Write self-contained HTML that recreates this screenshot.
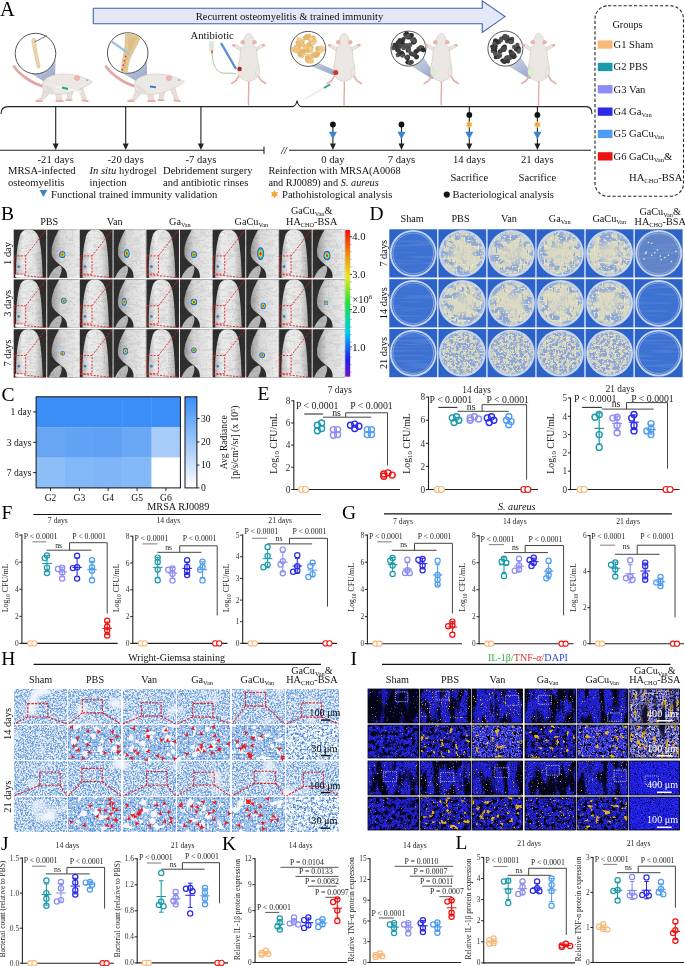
<!DOCTYPE html>
<html><head><meta charset="utf-8"><style>
html,body{margin:0;padding:0;background:#fff;width:685px;height:966px;overflow:hidden}
svg{display:block;font-family:"Liberation Serif"}
</style></head><body>
<svg width="685" height="966" viewBox="0 0 685 966" font-family="Liberation Serif">
<defs>
<linearGradient id="cbar" x1="0" y1="1" x2="0" y2="0">
<stop offset="0" stop-color="#7a10c8"/><stop offset="0.12" stop-color="#2020f0"/><stop offset="0.3" stop-color="#00c8f0"/><stop offset="0.5" stop-color="#20e040"/><stop offset="0.68" stop-color="#e8e820"/><stop offset="0.85" stop-color="#f08010"/><stop offset="1" stop-color="#f01010"/>
</linearGradient>
<linearGradient id="hbar" x1="0" y1="1" x2="0" y2="0"><stop offset="0" stop-color="#ffffff"/><stop offset="1" stop-color="#3a8ef6"/></linearGradient>
<linearGradient id="cone" x1="0" y1="0" x2="1" y2="1"><stop offset="0" stop-color="#d4dcec" stop-opacity="0.9"/><stop offset="1" stop-color="#8597be" stop-opacity="0.9"/></linearGradient>
<filter id="fI_dark" x="0" y="0" width="1" height="1" color-interpolation-filters="sRGB"><feFlood flood-color="#03031a" result="bg"/><feTurbulence type="fractalNoise" baseFrequency="0.1 0.03" numOctaves="3" seed="3" result="n0"/><feColorMatrix in="n0" type="matrix" values="0 0 0 0 0.102 0 0 0 0 0.102 0 0 0 0 0.753 7 0 0 0 -3.64" result="l0"/><feTurbulence type="fractalNoise" baseFrequency="0.8" numOctaves="2" seed="50" result="n1"/><feColorMatrix in="n1" type="matrix" values="0 0 0 0 0.012 0 0 0 0 0.012 0 0 0 0 0.059 9 0 0 0 -5.4" result="l1"/><feTurbulence type="fractalNoise" baseFrequency="0.8" numOctaves="2" seed="60" result="n2"/><feColorMatrix in="n2" type="matrix" values="0 0 0 0 0.29 0 0 0 0 0.29 0 0 0 0 1.0 10 0 0 0 -7.0" result="l2"/><feTurbulence type="fractalNoise" baseFrequency="0.8" numOctaves="2" seed="8" result="n3"/><feColorMatrix in="n3" type="matrix" values="0 0 0 0 0.816 0 0 0 0 0.565 0 0 0 0 0.125 12 0 0 0 -8.88" result="l3"/><feMerge><feMergeNode in="bg"/><feMergeNode in="l0"/><feMergeNode in="l1"/><feMergeNode in="l2"/><feMergeNode in="l3"/></feMerge></filter><filter id="fI_str" x="0" y="0" width="1" height="1" color-interpolation-filters="sRGB"><feFlood flood-color="#04041a" result="bg"/><feTurbulence type="fractalNoise" baseFrequency="0.12 0.035" numOctaves="3" seed="4" result="n0"/><feColorMatrix in="n0" type="matrix" values="0 0 0 0 0.125 0 0 0 0 0.125 0 0 0 0 0.831 7 0 0 0 -2.59" result="l0"/><feTurbulence type="fractalNoise" baseFrequency="0.8" numOctaves="2" seed="51" result="n1"/><feColorMatrix in="n1" type="matrix" values="0 0 0 0 0.012 0 0 0 0 0.012 0 0 0 0 0.059 9 0 0 0 -5.4" result="l1"/><feTurbulence type="fractalNoise" baseFrequency="0.8" numOctaves="2" seed="61" result="n2"/><feColorMatrix in="n2" type="matrix" values="0 0 0 0 0.29 0 0 0 0 0.29 0 0 0 0 1.0 10 0 0 0 -6.8" result="l2"/><feTurbulence type="fractalNoise" baseFrequency="0.75" numOctaves="2" seed="9" result="n3"/><feColorMatrix in="n3" type="matrix" values="0 0 0 0 0.91 0 0 0 0 0.69 0 0 0 0 0.063 12 0 0 0 -8.16" result="l3"/><feMerge><feMergeNode in="bg"/><feMergeNode in="l0"/><feMergeNode in="l1"/><feMergeNode in="l2"/><feMergeNode in="l3"/></feMerge></filter><filter id="fI_str2" x="0" y="0" width="1" height="1" color-interpolation-filters="sRGB"><feFlood flood-color="#04041a" result="bg"/><feTurbulence type="fractalNoise" baseFrequency="0.12 0.035" numOctaves="3" seed="5" result="n0"/><feColorMatrix in="n0" type="matrix" values="0 0 0 0 0.125 0 0 0 0 0.125 0 0 0 0 0.831 7 0 0 0 -2.66" result="l0"/><feTurbulence type="fractalNoise" baseFrequency="0.8" numOctaves="2" seed="52" result="n1"/><feColorMatrix in="n1" type="matrix" values="0 0 0 0 0.012 0 0 0 0 0.012 0 0 0 0 0.059 9 0 0 0 -5.4" result="l1"/><feTurbulence type="fractalNoise" baseFrequency="0.8" numOctaves="2" seed="62" result="n2"/><feColorMatrix in="n2" type="matrix" values="0 0 0 0 0.29 0 0 0 0 0.29 0 0 0 0 1.0 10 0 0 0 -6.8" result="l2"/><feTurbulence type="fractalNoise" baseFrequency="0.75" numOctaves="2" seed="10" result="n3"/><feColorMatrix in="n3" type="matrix" values="0 0 0 0 0.91 0 0 0 0 0.69 0 0 0 0 0.063 12 0 0 0 -8.52" result="l3"/><feMerge><feMergeNode in="bg"/><feMergeNode in="l0"/><feMergeNode in="l1"/><feMergeNode in="l2"/><feMergeNode in="l3"/></feMerge></filter><filter id="fI_zoomY" x="0" y="0" width="1" height="1" color-interpolation-filters="sRGB"><feFlood flood-color="#04041a" result="bg"/><feTurbulence type="fractalNoise" baseFrequency="0.25" numOctaves="3" seed="6" result="n0"/><feColorMatrix in="n0" type="matrix" values="0 0 0 0 0.125 0 0 0 0 0.125 0 0 0 0 0.831 7 0 0 0 -2.59" result="l0"/><feTurbulence type="fractalNoise" baseFrequency="0.8" numOctaves="2" seed="53" result="n1"/><feColorMatrix in="n1" type="matrix" values="0 0 0 0 0.012 0 0 0 0 0.012 0 0 0 0 0.059 9 0 0 0 -5.4" result="l1"/><feTurbulence type="fractalNoise" baseFrequency="0.8" numOctaves="2" seed="63" result="n2"/><feColorMatrix in="n2" type="matrix" values="0 0 0 0 0.29 0 0 0 0 0.29 0 0 0 0 1.0 10 0 0 0 -6.6" result="l2"/><feTurbulence type="fractalNoise" baseFrequency="0.2" numOctaves="3" seed="11" result="n3"/><feColorMatrix in="n3" type="matrix" values="0 0 0 0 0.91 0 0 0 0 0.69 0 0 0 0 0.063 10 0 0 0 -6.3" result="l3"/><feTurbulence type="fractalNoise" baseFrequency="0.7" numOctaves="1" seed="12" result="n4"/><feColorMatrix in="n4" type="matrix" values="0 0 0 0 0.91 0 0 0 0 0.627 0 0 0 0 0.188 12 0 0 0 -8.4" result="l4"/><feMerge><feMergeNode in="bg"/><feMergeNode in="l0"/><feMergeNode in="l1"/><feMergeNode in="l2"/><feMergeNode in="l3"/><feMergeNode in="l4"/></feMerge></filter><filter id="fI_zoomB" x="0" y="0" width="1" height="1" color-interpolation-filters="sRGB"><feFlood flood-color="#04041a" result="bg"/><feTurbulence type="fractalNoise" baseFrequency="0.25" numOctaves="3" seed="7" result="n0"/><feColorMatrix in="n0" type="matrix" values="0 0 0 0 0.125 0 0 0 0 0.125 0 0 0 0 0.831 7 0 0 0 -2.59" result="l0"/><feTurbulence type="fractalNoise" baseFrequency="0.8" numOctaves="2" seed="54" result="n1"/><feColorMatrix in="n1" type="matrix" values="0 0 0 0 0.012 0 0 0 0 0.012 0 0 0 0 0.059 9 0 0 0 -5.4" result="l1"/><feTurbulence type="fractalNoise" baseFrequency="0.8" numOctaves="2" seed="64" result="n2"/><feColorMatrix in="n2" type="matrix" values="0 0 0 0 0.29 0 0 0 0 0.29 0 0 0 0 1.0 10 0 0 0 -6.6" result="l2"/><feTurbulence type="fractalNoise" baseFrequency="0.6" numOctaves="2" seed="13" result="n3"/><feColorMatrix in="n3" type="matrix" values="0 0 0 0 0.847 0 0 0 0 0.627 0 0 0 0 0.125 12 0 0 0 -8.16" result="l3"/><feMerge><feMergeNode in="bg"/><feMergeNode in="l0"/><feMergeNode in="l1"/><feMergeNode in="l2"/><feMergeNode in="l3"/></feMerge></filter><filter id="fI_zoomD" x="0" y="0" width="1" height="1" color-interpolation-filters="sRGB"><feFlood flood-color="#04041a" result="bg"/><feTurbulence type="fractalNoise" baseFrequency="0.25" numOctaves="3" seed="7" result="n0"/><feColorMatrix in="n0" type="matrix" values="0 0 0 0 0.125 0 0 0 0 0.125 0 0 0 0 0.831 7 0 0 0 -2.66" result="l0"/><feTurbulence type="fractalNoise" baseFrequency="0.8" numOctaves="2" seed="55" result="n1"/><feColorMatrix in="n1" type="matrix" values="0 0 0 0 0.012 0 0 0 0 0.012 0 0 0 0 0.059 9 0 0 0 -5.4" result="l1"/><feTurbulence type="fractalNoise" baseFrequency="0.8" numOctaves="2" seed="65" result="n2"/><feColorMatrix in="n2" type="matrix" values="0 0 0 0 0.29 0 0 0 0 0.29 0 0 0 0 1.0 10 0 0 0 -6.8" result="l2"/><feTurbulence type="fractalNoise" baseFrequency="0.6" numOctaves="2" seed="13" result="n3"/><feColorMatrix in="n3" type="matrix" values="0 0 0 0 0.784 0 0 0 0 0.565 0 0 0 0 0.125 12 0 0 0 -8.88" result="l3"/><feMerge><feMergeNode in="bg"/><feMergeNode in="l0"/><feMergeNode in="l1"/><feMergeNode in="l2"/><feMergeNode in="l3"/></feMerge></filter><filter id="fI_zoomL" x="0" y="0" width="1" height="1" color-interpolation-filters="sRGB"><feFlood flood-color="#06061e" result="bg"/><feTurbulence type="fractalNoise" baseFrequency="0.25" numOctaves="3" seed="8" result="n0"/><feColorMatrix in="n0" type="matrix" values="0 0 0 0 0.188 0 0 0 0 0.188 0 0 0 0 0.878 7 0 0 0 -2.38" result="l0"/><feTurbulence type="fractalNoise" baseFrequency="0.6" numOctaves="2" seed="66" result="n1"/><feColorMatrix in="n1" type="matrix" values="0 0 0 0 0.439 0 0 0 0 0.439 0 0 0 0 0.941 8 0 0 0 -4.16" result="l1"/><feTurbulence type="fractalNoise" baseFrequency="0.8" numOctaves="2" seed="56" result="n2"/><feColorMatrix in="n2" type="matrix" values="0 0 0 0 0.012 0 0 0 0 0.012 0 0 0 0 0.059 9 0 0 0 -5.58" result="l2"/><feTurbulence type="fractalNoise" baseFrequency="0.2" numOctaves="3" seed="14" result="n3"/><feColorMatrix in="n3" type="matrix" values="0 0 0 0 0.91 0 0 0 0 0.69 0 0 0 0 0.063 10 0 0 0 -6.4" result="l3"/><feTurbulence type="fractalNoise" baseFrequency="0.8" numOctaves="2" seed="67" result="n4"/><feColorMatrix in="n4" type="matrix" values="0 0 0 0 0.847 0 0 0 0 0.847 0 0 0 0 0.941 10 0 0 0 -7.2" result="l4"/><feMerge><feMergeNode in="bg"/><feMergeNode in="l0"/><feMergeNode in="l1"/><feMergeNode in="l2"/><feMergeNode in="l3"/><feMergeNode in="l4"/></feMerge></filter><filter id="fI_white" x="0" y="0" width="1" height="1" color-interpolation-filters="sRGB"><feFlood flood-color="#2a2a88" result="bg"/><feTurbulence type="fractalNoise" baseFrequency="0.4" numOctaves="2" seed="14" result="n0"/><feColorMatrix in="n0" type="matrix" values="0 0 0 0 0.486 0 0 0 0 0.486 0 0 0 0 0.847 9 0 0 0 -3.6" result="l0"/><feTurbulence type="fractalNoise" baseFrequency="0.45" numOctaves="2" seed="15" result="n1"/><feColorMatrix in="n1" type="matrix" values="0 0 0 0 0.816 0 0 0 0 0.816 0 0 0 0 0.918 9 0 0 0 -5.4" result="l1"/><feTurbulence type="fractalNoise" baseFrequency="0.3 0.1" numOctaves="2" seed="16" result="n2"/><feColorMatrix in="n2" type="matrix" values="0 0 0 0 0.91 0 0 0 0 0.69 0 0 0 0 0.063 10 0 0 0 -6.0" result="l2"/><feTurbulence type="fractalNoise" baseFrequency="0.7" numOctaves="2" seed="56" result="n3"/><feColorMatrix in="n3" type="matrix" values="0 0 0 0 0.012 0 0 0 0 0.012 0 0 0 0 0.059 9 0 0 0 -5.4" result="l3"/><feTurbulence type="fractalNoise" baseFrequency="0.12 0.015" numOctaves="2" seed="57" result="n4"/><feColorMatrix in="n4" type="matrix" values="0 0 0 0 0.063 0 0 0 0 0.063 0 0 0 0 0.188 9 0 0 0 -5.4" result="l4"/><feMerge><feMergeNode in="bg"/><feMergeNode in="l0"/><feMergeNode in="l1"/><feMergeNode in="l2"/><feMergeNode in="l3"/><feMergeNode in="l4"/></feMerge></filter><filter id="fI_pure" x="0" y="0" width="1" height="1" color-interpolation-filters="sRGB"><feFlood flood-color="#1a1ad8" result="bg"/><feTurbulence type="fractalNoise" baseFrequency="0.6" numOctaves="2" seed="17" result="n0"/><feColorMatrix in="n0" type="matrix" values="0 0 0 0 0.0 0 0 0 0 0.0 0 0 0 0 0.188 10 0 0 0 -6.0" result="l0"/><feTurbulence type="fractalNoise" baseFrequency="0.7" numOctaves="2" seed="18" result="n1"/><feColorMatrix in="n1" type="matrix" values="0 0 0 0 0.18 0 0 0 0 0.18 0 0 0 0 0.957 10 0 0 0 -5.2" result="l1"/><feMerge><feMergeNode in="bg"/><feMergeNode in="l0"/><feMergeNode in="l1"/></feMerge></filter><filter id="fH_a" x="0" y="0" width="1" height="1" color-interpolation-filters="sRGB"><feFlood flood-color="#e6eef9" result="bg"/><feTurbulence type="fractalNoise" baseFrequency="0.55" numOctaves="2" seed="21" result="n0"/><feColorMatrix in="n0" type="matrix" values="0 0 0 0 0.58 0 0 0 0 0.729 0 0 0 0 0.91 9 0 0 0 -4.23" result="l0"/><feTurbulence type="fractalNoise" baseFrequency="0.6" numOctaves="2" seed="22" result="n1"/><feColorMatrix in="n1" type="matrix" values="0 0 0 0 0.392 0 0 0 0 0.588 0 0 0 0 0.847 9 0 0 0 -4.95" result="l1"/><feTurbulence type="fractalNoise" baseFrequency="0.04" numOctaves="2" seed="28" result="n2"/><feColorMatrix in="n2" type="matrix" values="0 0 0 0 0.933 0 0 0 0 0.957 0 0 0 0 0.984 6 0 0 0 -3.6" result="l2"/><feMerge><feMergeNode in="bg"/><feMergeNode in="l0"/><feMergeNode in="l1"/><feMergeNode in="l2"/></feMerge></filter><filter id="fH_z" x="0" y="0" width="1" height="1" color-interpolation-filters="sRGB"><feFlood flood-color="#9cc0ea" result="bg"/><feTurbulence type="fractalNoise" baseFrequency="0.5" numOctaves="2" seed="23" result="n0"/><feColorMatrix in="n0" type="matrix" values="0 0 0 0 0.353 0 0 0 0 0.561 0 0 0 0 0.847 9 0 0 0 -4.5" result="l0"/><feTurbulence type="fractalNoise" baseFrequency="0.55" numOctaves="2" seed="24" result="n1"/><feColorMatrix in="n1" type="matrix" values="0 0 0 0 0.957 0 0 0 0 0.973 0 0 0 0 0.992 9 0 0 0 -5.04" result="l1"/><feTurbulence type="fractalNoise" baseFrequency="0.13" numOctaves="2" seed="27" result="n2"/><feColorMatrix in="n2" type="matrix" values="0 0 0 0 0.965 0 0 0 0 0.976 0 0 0 0 0.992 20 0 0 0 -13.2" result="l2"/><feMerge><feMergeNode in="bg"/><feMergeNode in="l0"/><feMergeNode in="l1"/><feMergeNode in="l2"/></feMerge></filter><filter id="fH_c" x="0" y="0" width="1" height="1" color-interpolation-filters="sRGB"><feFlood flood-color="#f6f9fd" result="bg"/><feTurbulence type="fractalNoise" baseFrequency="0.4" numOctaves="2" seed="25" result="n0"/><feColorMatrix in="n0" type="matrix" values="0 0 0 0 0.612 0 0 0 0 0.753 0 0 0 0 0.918 9 0 0 0 -4.5" result="l0"/><feTurbulence type="fractalNoise" baseFrequency="0.45" numOctaves="2" seed="26" result="n1"/><feColorMatrix in="n1" type="matrix" values="0 0 0 0 0.31 0 0 0 0 0.525 0 0 0 0 0.824 9 0 0 0 -5.04" result="l1"/><feMerge><feMergeNode in="bg"/><feMergeNode in="l0"/><feMergeNode in="l1"/></feMerge></filter><filter id="fD_col" x="0" y="0" width="1" height="1" color-interpolation-filters="sRGB"><feFlood flood-color="#8ea8d6" result="bg"/><feTurbulence type="fractalNoise" baseFrequency="0.09 0.14" numOctaves="3" seed="31" result="n0"/><feColorMatrix in="n0" type="matrix" values="0 0 0 0 0.847 0 0 0 0 0.843 0 0 0 0 0.753 8 0 0 0 -3.2" result="l0"/><feTurbulence type="fractalNoise" baseFrequency="0.5" numOctaves="2" seed="32" result="n1"/><feColorMatrix in="n1" type="matrix" values="0 0 0 0 0.91 0 0 0 0 0.902 0 0 0 0 0.816 10 0 0 0 -5.6" result="l1"/><feTurbulence type="fractalNoise" baseFrequency="0.45 0.15" numOctaves="2" seed="36" result="n2"/><feColorMatrix in="n2" type="matrix" values="0 0 0 0 0.541 0 0 0 0 0.643 0 0 0 0 0.831 10 0 0 0 -6.4" result="l2"/><feMerge><feMergeNode in="bg"/><feMergeNode in="l0"/><feMergeNode in="l1"/><feMergeNode in="l2"/></feMerge></filter><filter id="fD_col3" x="0" y="0" width="1" height="1" color-interpolation-filters="sRGB"><feFlood flood-color="#8aa4d6" result="bg"/><feTurbulence type="fractalNoise" baseFrequency="0.3" numOctaves="3" seed="33" result="n0"/><feColorMatrix in="n0" type="matrix" values="0 0 0 0 0.839 0 0 0 0 0.835 0 0 0 0 0.741 8 0 0 0 -3.6" result="l0"/><feTurbulence type="fractalNoise" baseFrequency="0.6" numOctaves="2" seed="34" result="n1"/><feColorMatrix in="n1" type="matrix" values="0 0 0 0 0.902 0 0 0 0 0.894 0 0 0 0 0.8 10 0 0 0 -5.8" result="l1"/><feMerge><feMergeNode in="bg"/><feMergeNode in="l0"/><feMergeNode in="l1"/></feMerge></filter><filter id="fD_clear" x="0" y="0" width="1" height="1" color-interpolation-filters="sRGB"><feFlood flood-color="#3e72d2" result="bg"/><feTurbulence type="fractalNoise" baseFrequency="0.02 0.4" numOctaves="2" seed="35" result="n0"/><feColorMatrix in="n0" type="matrix" values="0 0 0 0 0.298 0 0 0 0 0.486 0 0 0 0 0.839 6 0 0 0 -3.0" result="l0"/><feMerge><feMergeNode in="bg"/><feMergeNode in="l0"/></feMerge></filter><filter id="fD_ha" x="0" y="0" width="1" height="1" color-interpolation-filters="sRGB"><feFlood flood-color="#5f84c8" result="bg"/><feTurbulence type="fractalNoise" baseFrequency="0.02 0.4" numOctaves="2" seed="37" result="n0"/><feColorMatrix in="n0" type="matrix" values="0 0 0 0 0.416 0 0 0 0 0.549 0 0 0 0 0.8 6 0 0 0 -3.0" result="l0"/><feMerge><feMergeNode in="bg"/><feMergeNode in="l0"/></feMerge></filter><clipPath id="circ" clipPathUnits="objectBoundingBox"><circle cx="0.5" cy="0.5" r="0.47"/></clipPath><filter id="fB_fur" x="0" y="0" width="1" height="1" color-interpolation-filters="sRGB"><feFlood flood-color="#ffffff" result="bg"/><feTurbulence type="fractalNoise" baseFrequency="0.12 0.35" numOctaves="3" seed="41" result="n0"/><feColorMatrix in="n0" type="matrix" values="0 0 0 0 0.69 0 0 0 0 0.69 0 0 0 0 0.69 5 0 0 0 -2.5" result="l0"/><feTurbulence type="fractalNoise" baseFrequency="0.5" numOctaves="2" seed="42" result="n1"/><feColorMatrix in="n1" type="matrix" values="0 0 0 0 0.565 0 0 0 0 0.565 0 0 0 0 0.565 8 0 0 0 -4.8" result="l1"/><feMerge><feMergeNode in="bg"/><feMergeNode in="l0"/><feMergeNode in="l1"/></feMerge></filter><clipPath id="cc2"><circle cx="127.7" cy="53" r="19.8"/></clipPath><clipPath id="cc1"><circle cx="35.5" cy="53.6" r="19.8"/></clipPath><radialGradient id="spot" cx="0.5" cy="0.5" r="0.5">
<stop offset="0" stop-color="#ff1010"/><stop offset="0.25" stop-color="#ff5010"/><stop offset="0.42" stop-color="#f0d020"/><stop offset="0.6" stop-color="#40e040"/><stop offset="0.76" stop-color="#10c0e0"/><stop offset="0.9" stop-color="#2040f0"/><stop offset="1" stop-color="#3020c0"/></radialGradient>
<linearGradient id="mbody" x1="0" y1="0" x2="1" y2="0"><stop offset="0" stop-color="#bcbcbc"/><stop offset="0.25" stop-color="#ececec"/><stop offset="0.7" stop-color="#e4e4e4"/><stop offset="1" stop-color="#b0b0b0"/></linearGradient>
<linearGradient id="mleg" x1="0" y1="0" x2="1" y2="0"><stop offset="0" stop-color="#9a9a9a"/><stop offset="0.35" stop-color="#d8d8d8"/><stop offset="1" stop-color="#ececec"/></linearGradient>
<radialGradient id="creamc" cx="0.5" cy="0.5" r="0.5"><stop offset="0" stop-color="#dcdac2" stop-opacity="0.85"/><stop offset="0.6" stop-color="#dcdac2" stop-opacity="0.6"/><stop offset="1" stop-color="#dcdac2" stop-opacity="0"/></radialGradient>
<radialGradient id="plate" cx="0.5" cy="0.5" r="0.5"><stop offset="0" stop-color="#3a6fd0"/><stop offset="0.86" stop-color="#4478d4"/><stop offset="0.93" stop-color="#a9c0e6"/><stop offset="0.97" stop-color="#cbd8ef"/><stop offset="1" stop-color="#8eaadf"/></radialGradient>
<radialGradient id="plateC" cx="0.5" cy="0.5" r="0.5"><stop offset="0" stop-color="#cfcdb0"/><stop offset="0.6" stop-color="#c6c8b4"/><stop offset="0.85" stop-color="#9fb2cf"/><stop offset="0.93" stop-color="#b9c9e6"/><stop offset="0.97" stop-color="#d2ddf0"/><stop offset="1" stop-color="#8eaadf"/></radialGradient>
<pattern id="tis1" width="16" height="16" patternUnits="userSpaceOnUse"><rect width="16" height="16" fill="#b3cdee"/><rect x="5.5" y="8.9" width="1.0" height="1.3" fill="#6f9fdc"/><rect x="0.2" y="12.7" width="1.4" height="0.9" fill="#6f9fdc"/><rect x="14.9" y="7.0" width="1.1" height="1.0" fill="#6f9fdc"/><rect x="9.2" y="2.2" width="1.6" height="1.3" fill="#6f9fdc"/><rect x="7.6" y="10.6" width="1.4" height="1.7" fill="#6f9fdc"/><rect x="11.0" y="8.9" width="1.5" height="0.9" fill="#6f9fdc"/><rect x="12.9" y="7.2" width="1.1" height="0.8" fill="#6f9fdc"/><rect x="10.3" y="13.2" width="1.5" height="1.7" fill="#6f9fdc"/><rect x="6.6" y="13.5" width="1.2" height="1.6" fill="#6f9fdc"/><rect x="1.9" y="3.3" width="1.7" height="0.9" fill="#6f9fdc"/><rect x="8.9" y="4.4" width="1.8" height="1.2" fill="#6f9fdc"/><rect x="5.2" y="8.7" width="1.3" height="1.2" fill="#6f9fdc"/><rect x="10.0" y="13.3" width="1.4" height="1.7" fill="#6f9fdc"/><rect x="9.6" y="2.3" width="1.7" height="1.8" fill="#6f9fdc"/><rect x="13.0" y="8.1" width="1.7" height="1.8" fill="#6f9fdc"/><rect x="12.0" y="8.6" width="1.5" height="1.0" fill="#6f9fdc"/><rect x="12.7" y="15.0" width="1.1" height="0.9" fill="#6f9fdc"/><rect x="6.2" y="2.2" width="0.9" height="1.6" fill="#6f9fdc"/><rect x="13.0" y="0.6" width="1.1" height="1.6" fill="#6f9fdc"/><rect x="10.5" y="5.0" width="1.4" height="0.8" fill="#6f9fdc"/><rect x="7.2" y="14.2" width="1.7" height="1.8" fill="#6f9fdc"/><rect x="8.9" y="0.5" width="1.1" height="0.9" fill="#6f9fdc"/><rect x="9.2" y="2.3" width="1.0" height="1.2" fill="#6f9fdc"/><rect x="4.8" y="13.7" width="0.8" height="1.7" fill="#6f9fdc"/><rect x="6.6" y="7.7" width="1.7" height="1.2" fill="#6f9fdc"/><rect x="8.1" y="9.1" width="1.4" height="1.4" fill="#6f9fdc"/><rect x="6.1" y="10.6" width="1.7" height="1.3" fill="#6f9fdc"/><rect x="14.6" y="7.8" width="1.0" height="1.1" fill="#6f9fdc"/><rect x="6.1" y="8.8" width="1.3" height="0.8" fill="#6f9fdc"/><rect x="9.6" y="0.9" width="0.8" height="1.4" fill="#6f9fdc"/><rect x="9.9" y="5.2" width="1.4" height="1.3" fill="#6f9fdc"/><rect x="0.3" y="0.9" width="1.5" height="1.5" fill="#6f9fdc"/><rect x="3.6" y="6.5" width="1.5" height="1.8" fill="#6f9fdc"/><rect x="5.3" y="4.7" width="1.4" height="1.1" fill="#6f9fdc"/><rect x="4.5" y="5.5" width="1.2" height="1.4" fill="#6f9fdc"/><rect x="8.2" y="11.2" width="1.6" height="0.8" fill="#6f9fdc"/><rect x="12.0" y="3.6" width="1.1" height="1.0" fill="#6f9fdc"/><rect x="10.5" y="1.5" width="1.0" height="1.2" fill="#6f9fdc"/><rect x="12.4" y="6.5" width="1.1" height="1.1" fill="#6f9fdc"/><rect x="4.8" y="9.8" width="1.7" height="1.0" fill="#6f9fdc"/><rect x="3.3" y="1.8" width="1.5" height="1.1" fill="#ffffff"/><rect x="12.0" y="12.7" width="1.2" height="0.9" fill="#ffffff"/><rect x="12.2" y="9.7" width="0.9" height="1.0" fill="#ffffff"/><rect x="1.9" y="4.4" width="1.4" height="1.0" fill="#ffffff"/><rect x="5.1" y="6.3" width="1.4" height="0.9" fill="#ffffff"/><rect x="13.7" y="2.3" width="1.1" height="1.1" fill="#ffffff"/><rect x="13.5" y="14.3" width="0.7" height="1.5" fill="#ffffff"/><rect x="13.8" y="3.2" width="1.1" height="1.6" fill="#ffffff"/><rect x="9.7" y="7.6" width="1.4" height="1.5" fill="#ffffff"/><rect x="3.4" y="1.0" width="1.0" height="1.0" fill="#ffffff"/><rect x="12.0" y="0.7" width="1.2" height="1.0" fill="#ffffff"/><rect x="13.4" y="13.2" width="1.5" height="1.3" fill="#ffffff"/><rect x="0.2" y="11.0" width="1.5" height="1.2" fill="#ffffff"/><rect x="10.0" y="7.9" width="0.9" height="1.0" fill="#ffffff"/><rect x="9.1" y="4.9" width="1.1" height="1.5" fill="#ffffff"/><rect x="7.2" y="11.4" width="0.9" height="1.5" fill="#ffffff"/><rect x="8.0" y="12.4" width="1.0" height="0.9" fill="#ffffff"/><rect x="14.0" y="11.8" width="0.9" height="1.4" fill="#ffffff"/><rect x="9.2" y="13.2" width="1.4" height="0.7" fill="#ffffff"/><rect x="4.1" y="7.9" width="0.7" height="0.9" fill="#ffffff"/><rect x="11.6" y="0.0" width="1.1" height="1.1" fill="#ffffff"/><rect x="1.9" y="1.0" width="0.7" height="0.8" fill="#ffffff"/><rect x="1.2" y="7.3" width="1.6" height="1.5" fill="#ffffff"/><rect x="5.3" y="9.7" width="1.0" height="1.0" fill="#ffffff"/><rect x="2.8" y="4.9" width="1.2" height="1.0" fill="#ffffff"/><rect x="10.9" y="5.6" width="0.8" height="1.2" fill="#ffffff"/><rect x="5.6" y="9.1" width="0.9" height="0.9" fill="#8fb6e6"/><rect x="11.7" y="9.3" width="1.4" height="1.1" fill="#8fb6e6"/><rect x="7.4" y="10.5" width="1.1" height="1.1" fill="#8fb6e6"/><rect x="6.8" y="3.6" width="1.1" height="1.4" fill="#8fb6e6"/><rect x="1.1" y="6.2" width="1.2" height="1.4" fill="#8fb6e6"/><rect x="13.9" y="5.4" width="1.1" height="1.5" fill="#8fb6e6"/><rect x="3.8" y="6.8" width="1.5" height="1.4" fill="#8fb6e6"/><rect x="10.0" y="12.9" width="0.9" height="1.5" fill="#8fb6e6"/><rect x="10.7" y="8.3" width="1.4" height="1.3" fill="#8fb6e6"/><rect x="0.1" y="2.1" width="0.9" height="1.3" fill="#8fb6e6"/><rect x="1.3" y="1.5" width="1.4" height="0.8" fill="#8fb6e6"/><rect x="0.3" y="12.7" width="1.5" height="0.9" fill="#8fb6e6"/><rect x="10.2" y="12.1" width="0.9" height="1.5" fill="#8fb6e6"/><rect x="11.5" y="0.5" width="1.6" height="1.3" fill="#8fb6e6"/><rect x="10.4" y="1.6" width="1.4" height="1.2" fill="#8fb6e6"/><rect x="0.9" y="4.7" width="1.4" height="1.5" fill="#8fb6e6"/><rect x="3.6" y="2.6" width="1.3" height="1.5" fill="#8fb6e6"/><rect x="11.3" y="5.8" width="1.0" height="1.3" fill="#8fb6e6"/><rect x="5.2" y="6.2" width="1.1" height="1.1" fill="#8fb6e6"/><rect x="14.7" y="6.1" width="0.9" height="1.2" fill="#8fb6e6"/></pattern><pattern id="tis2" width="14" height="14" patternUnits="userSpaceOnUse"><rect width="14" height="14" fill="#a6c5ec"/><rect x="5.1" y="2.0" width="1.2" height="1.0" fill="#5a90d8"/><rect x="12.0" y="10.1" width="1.0" height="1.3" fill="#5a90d8"/><rect x="6.6" y="3.6" width="1.7" height="1.1" fill="#5a90d8"/><rect x="2.8" y="12.0" width="1.1" height="1.0" fill="#5a90d8"/><rect x="9.8" y="2.4" width="1.8" height="1.8" fill="#5a90d8"/><rect x="9.3" y="10.6" width="1.2" height="1.6" fill="#5a90d8"/><rect x="7.4" y="8.7" width="1.9" height="1.0" fill="#5a90d8"/><rect x="5.9" y="1.2" width="1.5" height="1.1" fill="#5a90d8"/><rect x="6.6" y="3.6" width="1.9" height="1.9" fill="#5a90d8"/><rect x="10.7" y="10.6" width="1.9" height="1.5" fill="#5a90d8"/><rect x="7.5" y="5.5" width="1.5" height="1.4" fill="#5a90d8"/><rect x="10.5" y="0.6" width="1.1" height="1.2" fill="#5a90d8"/><rect x="3.7" y="6.6" width="1.0" height="1.6" fill="#5a90d8"/><rect x="12.5" y="2.5" width="1.4" height="1.3" fill="#5a90d8"/><rect x="8.0" y="3.6" width="1.4" height="1.1" fill="#5a90d8"/><rect x="4.1" y="6.9" width="1.3" height="1.7" fill="#5a90d8"/><rect x="0.7" y="3.0" width="1.9" height="1.0" fill="#5a90d8"/><rect x="2.9" y="4.1" width="1.7" height="1.6" fill="#5a90d8"/><rect x="0.6" y="8.8" width="1.1" height="1.4" fill="#5a90d8"/><rect x="8.9" y="11.6" width="1.9" height="2.0" fill="#5a90d8"/><rect x="12.6" y="9.9" width="0.9" height="1.2" fill="#5a90d8"/><rect x="7.8" y="9.9" width="1.4" height="1.9" fill="#5a90d8"/><rect x="5.7" y="1.8" width="1.2" height="1.1" fill="#5a90d8"/><rect x="4.2" y="0.1" width="1.3" height="2.0" fill="#5a90d8"/><rect x="10.2" y="4.7" width="0.9" height="1.1" fill="#5a90d8"/><rect x="12.5" y="5.5" width="1.2" height="1.0" fill="#5a90d8"/><rect x="0.7" y="2.2" width="1.1" height="1.0" fill="#5a90d8"/><rect x="0.5" y="6.3" width="1.6" height="1.1" fill="#5a90d8"/><rect x="1.6" y="6.4" width="1.2" height="2.0" fill="#5a90d8"/><rect x="12.1" y="6.0" width="1.8" height="1.4" fill="#5a90d8"/><rect x="0.5" y="5.3" width="1.2" height="1.4" fill="#5a90d8"/><rect x="10.7" y="6.0" width="1.2" height="1.9" fill="#5a90d8"/><rect x="3.2" y="2.7" width="0.9" height="1.2" fill="#5a90d8"/><rect x="1.8" y="0.6" width="1.2" height="1.9" fill="#5a90d8"/><rect x="12.0" y="5.0" width="1.9" height="1.5" fill="#5a90d8"/><rect x="9.6" y="9.2" width="1.9" height="1.6" fill="#5a90d8"/><rect x="2.6" y="11.4" width="1.4" height="1.0" fill="#5a90d8"/><rect x="4.1" y="7.9" width="1.9" height="1.9" fill="#5a90d8"/><rect x="10.2" y="6.7" width="1.4" height="1.3" fill="#ffffff"/><rect x="3.4" y="11.7" width="1.3" height="1.3" fill="#ffffff"/><rect x="12.1" y="12.6" width="1.6" height="0.9" fill="#ffffff"/><rect x="11.4" y="1.7" width="1.3" height="0.8" fill="#ffffff"/><rect x="0.8" y="2.1" width="1.6" height="1.3" fill="#ffffff"/><rect x="9.5" y="11.8" width="1.3" height="1.3" fill="#ffffff"/><rect x="12.0" y="0.2" width="1.0" height="0.8" fill="#ffffff"/><rect x="10.1" y="10.3" width="1.5" height="0.9" fill="#ffffff"/><rect x="11.0" y="2.6" width="1.5" height="1.2" fill="#ffffff"/><rect x="11.3" y="10.0" width="1.3" height="1.1" fill="#ffffff"/><rect x="0.3" y="0.4" width="1.2" height="1.2" fill="#ffffff"/><rect x="11.0" y="7.8" width="1.3" height="1.2" fill="#ffffff"/><rect x="10.0" y="6.8" width="0.9" height="1.1" fill="#ffffff"/><rect x="10.9" y="1.1" width="0.8" height="1.5" fill="#ffffff"/><rect x="10.1" y="4.0" width="1.2" height="1.1" fill="#ffffff"/><rect x="12.6" y="1.2" width="1.0" height="1.2" fill="#ffffff"/><rect x="11.6" y="6.5" width="0.9" height="1.3" fill="#ffffff"/><rect x="10.0" y="0.8" width="1.1" height="1.5" fill="#ffffff"/><rect x="3.7" y="10.9" width="1.7" height="1.0" fill="#7aa8e2"/><rect x="2.1" y="10.8" width="1.2" height="1.6" fill="#7aa8e2"/><rect x="6.4" y="4.4" width="1.0" height="0.9" fill="#7aa8e2"/><rect x="9.0" y="0.1" width="1.3" height="1.7" fill="#7aa8e2"/><rect x="6.3" y="9.1" width="1.1" height="1.3" fill="#7aa8e2"/><rect x="3.1" y="11.1" width="1.3" height="0.9" fill="#7aa8e2"/><rect x="12.7" y="7.8" width="1.2" height="1.6" fill="#7aa8e2"/><rect x="3.9" y="11.5" width="1.5" height="1.4" fill="#7aa8e2"/><rect x="3.9" y="10.7" width="1.3" height="1.7" fill="#7aa8e2"/><rect x="5.5" y="1.8" width="1.6" height="1.4" fill="#7aa8e2"/><rect x="8.2" y="1.7" width="1.6" height="1.2" fill="#7aa8e2"/><rect x="10.6" y="2.3" width="0.9" height="0.9" fill="#7aa8e2"/><rect x="7.1" y="4.5" width="1.7" height="1.2" fill="#7aa8e2"/><rect x="5.1" y="12.3" width="1.4" height="0.9" fill="#7aa8e2"/><rect x="4.3" y="3.8" width="1.0" height="1.5" fill="#7aa8e2"/><rect x="12.5" y="10.9" width="0.8" height="0.8" fill="#7aa8e2"/><rect x="11.8" y="2.0" width="1.6" height="1.6" fill="#7aa8e2"/><rect x="7.2" y="11.9" width="1.4" height="1.3" fill="#7aa8e2"/><rect x="1.5" y="8.0" width="1.6" height="1.8" fill="#7aa8e2"/><rect x="7.7" y="10.4" width="1.5" height="1.5" fill="#7aa8e2"/></pattern><pattern id="tis3" width="15" height="15" patternUnits="userSpaceOnUse"><rect width="15" height="15" fill="#c2d6f1"/><rect x="10.8" y="12.7" width="1.4" height="1.5" fill="#7aa6de"/><rect x="0.4" y="6.2" width="1.5" height="1.7" fill="#7aa6de"/><rect x="11.9" y="1.5" width="1.7" height="1.4" fill="#7aa6de"/><rect x="7.5" y="8.0" width="1.3" height="1.0" fill="#7aa6de"/><rect x="4.0" y="12.8" width="0.8" height="1.0" fill="#7aa6de"/><rect x="10.7" y="1.9" width="1.6" height="1.0" fill="#7aa6de"/><rect x="0.0" y="12.3" width="1.4" height="0.9" fill="#7aa6de"/><rect x="13.7" y="12.2" width="1.0" height="1.0" fill="#7aa6de"/><rect x="7.5" y="9.0" width="1.1" height="1.8" fill="#7aa6de"/><rect x="9.7" y="12.8" width="1.0" height="1.7" fill="#7aa6de"/><rect x="4.8" y="2.3" width="1.7" height="1.1" fill="#7aa6de"/><rect x="4.2" y="8.5" width="0.9" height="0.9" fill="#7aa6de"/><rect x="4.8" y="4.2" width="0.8" height="1.5" fill="#7aa6de"/><rect x="4.2" y="6.6" width="1.6" height="1.3" fill="#7aa6de"/><rect x="13.2" y="0.3" width="1.5" height="0.9" fill="#7aa6de"/><rect x="0.2" y="10.5" width="1.5" height="1.6" fill="#7aa6de"/><rect x="0.1" y="0.6" width="1.2" height="1.4" fill="#7aa6de"/><rect x="2.8" y="10.0" width="1.0" height="1.8" fill="#7aa6de"/><rect x="4.6" y="4.7" width="1.7" height="1.7" fill="#7aa6de"/><rect x="1.5" y="10.0" width="1.3" height="1.6" fill="#7aa6de"/><rect x="0.5" y="12.6" width="1.6" height="1.7" fill="#7aa6de"/><rect x="8.6" y="12.7" width="0.9" height="1.1" fill="#7aa6de"/><rect x="7.6" y="4.1" width="1.1" height="1.7" fill="#7aa6de"/><rect x="1.1" y="2.1" width="1.1" height="1.0" fill="#7aa6de"/><rect x="2.2" y="0.6" width="1.5" height="1.8" fill="#7aa6de"/><rect x="5.4" y="3.2" width="1.8" height="1.3" fill="#7aa6de"/><rect x="6.2" y="5.6" width="1.4" height="1.6" fill="#7aa6de"/><rect x="0.5" y="6.6" width="0.9" height="1.7" fill="#7aa6de"/><rect x="9.8" y="13.4" width="1.6" height="0.9" fill="#7aa6de"/><rect x="1.4" y="5.8" width="1.4" height="1.6" fill="#7aa6de"/><rect x="4.1" y="6.1" width="0.9" height="1.6" fill="#ffffff"/><rect x="12.9" y="6.1" width="1.8" height="1.7" fill="#ffffff"/><rect x="6.6" y="3.9" width="1.3" height="1.5" fill="#ffffff"/><rect x="5.2" y="13.9" width="1.2" height="0.9" fill="#ffffff"/><rect x="6.6" y="4.6" width="1.8" height="1.4" fill="#ffffff"/><rect x="11.0" y="12.1" width="0.9" height="1.1" fill="#ffffff"/><rect x="10.7" y="9.3" width="1.2" height="1.6" fill="#ffffff"/><rect x="4.9" y="9.5" width="1.5" height="1.6" fill="#ffffff"/><rect x="10.7" y="9.5" width="1.1" height="1.3" fill="#ffffff"/><rect x="9.0" y="7.7" width="1.1" height="1.7" fill="#ffffff"/><rect x="3.6" y="9.2" width="0.8" height="1.3" fill="#ffffff"/><rect x="8.9" y="10.7" width="1.3" height="1.6" fill="#ffffff"/><rect x="10.2" y="11.2" width="1.1" height="1.4" fill="#ffffff"/><rect x="12.0" y="9.2" width="1.2" height="1.6" fill="#ffffff"/><rect x="6.9" y="7.0" width="1.8" height="1.8" fill="#ffffff"/><rect x="13.2" y="6.4" width="1.0" height="1.6" fill="#ffffff"/><rect x="9.9" y="2.3" width="1.5" height="1.5" fill="#ffffff"/><rect x="8.9" y="5.7" width="1.6" height="1.4" fill="#ffffff"/><rect x="8.6" y="9.7" width="1.4" height="1.6" fill="#ffffff"/><rect x="6.3" y="9.1" width="0.8" height="1.0" fill="#ffffff"/><rect x="8.8" y="0.6" width="1.0" height="1.5" fill="#ffffff"/><rect x="0.7" y="1.9" width="1.3" height="1.0" fill="#ffffff"/><rect x="2.7" y="0.5" width="1.1" height="1.0" fill="#ffffff"/><rect x="8.4" y="8.2" width="1.3" height="1.2" fill="#ffffff"/><rect x="0.0" y="5.4" width="1.0" height="1.7" fill="#ffffff"/><rect x="1.6" y="11.5" width="1.1" height="1.2" fill="#ffffff"/><rect x="8.5" y="1.3" width="1.2" height="0.8" fill="#ffffff"/><rect x="7.9" y="13.3" width="1.3" height="1.1" fill="#ffffff"/><rect x="10.9" y="8.9" width="1.6" height="1.2" fill="#ffffff"/><rect x="8.2" y="7.9" width="1.2" height="0.9" fill="#ffffff"/><rect x="8.1" y="4.6" width="1.8" height="1.8" fill="#ffffff"/><rect x="1.4" y="8.0" width="1.7" height="0.8" fill="#ffffff"/><rect x="8.6" y="12.5" width="1.4" height="0.9" fill="#ffffff"/><rect x="3.1" y="4.0" width="1.2" height="1.2" fill="#ffffff"/></pattern><pattern id="fl_dark" width="14" height="14" patternUnits="userSpaceOnUse"><rect width="14" height="14" fill="#0c0c4c"/><rect x="11.6" y="5.8" width="1.4" height="1.6" fill="#1f1fc8"/><rect x="2.3" y="6.3" width="1.5" height="1.6" fill="#1f1fc8"/><rect x="1.2" y="3.7" width="1.7" height="1.9" fill="#1f1fc8"/><rect x="9.1" y="0.5" width="0.9" height="1.9" fill="#1f1fc8"/><rect x="7.7" y="7.3" width="2.2" height="2.2" fill="#1f1fc8"/><rect x="6.9" y="0.8" width="1.0" height="0.8" fill="#1f1fc8"/><rect x="0.4" y="6.0" width="1.1" height="1.1" fill="#1f1fc8"/><rect x="6.5" y="7.7" width="1.4" height="2.0" fill="#1f1fc8"/><rect x="5.7" y="3.4" width="1.5" height="1.7" fill="#1f1fc8"/><rect x="9.9" y="8.4" width="2.2" height="2.2" fill="#1f1fc8"/><rect x="3.7" y="0.9" width="1.2" height="1.1" fill="#1f1fc8"/><rect x="10.3" y="4.9" width="1.9" height="1.4" fill="#1f1fc8"/><rect x="0.0" y="2.5" width="2.1" height="2.0" fill="#1f1fc8"/><rect x="11.7" y="5.0" width="2.1" height="1.5" fill="#1f1fc8"/><rect x="10.2" y="3.3" width="0.9" height="1.7" fill="#1f1fc8"/><rect x="12.6" y="9.7" width="0.9" height="1.3" fill="#1f1fc8"/><rect x="1.3" y="0.8" width="1.0" height="1.1" fill="#1f1fc8"/><rect x="6.8" y="5.8" width="1.9" height="1.0" fill="#1f1fc8"/><rect x="1.7" y="7.8" width="1.1" height="1.8" fill="#1f1fc8"/><rect x="2.8" y="3.4" width="1.0" height="1.4" fill="#1f1fc8"/><rect x="3.6" y="10.7" width="2.2" height="1.9" fill="#1f1fc8"/><rect x="11.0" y="8.1" width="1.1" height="1.4" fill="#1f1fc8"/><rect x="2.8" y="3.1" width="0.9" height="2.2" fill="#1f1fc8"/><rect x="3.6" y="0.9" width="1.9" height="1.3" fill="#1f1fc8"/><rect x="3.2" y="7.4" width="0.9" height="1.6" fill="#1f1fc8"/><rect x="12.2" y="6.1" width="1.3" height="1.4" fill="#1f1fc8"/><rect x="2.2" y="1.7" width="2.1" height="2.7" fill="#000000"/><rect x="2.8" y="2.2" width="2.8" height="2.6" fill="#000000"/><rect x="2.3" y="10.6" width="2.5" height="2.9" fill="#000000"/><rect x="4.7" y="1.2" width="2.8" height="2.2" fill="#000000"/><rect x="3.1" y="7.8" width="1.1" height="2.9" fill="#000000"/><rect x="7.4" y="3.3" width="1.5" height="2.6" fill="#000000"/><rect x="0.9" y="2.6" width="1.4" height="2.4" fill="#000000"/><rect x="7.3" y="3.2" width="2.1" height="2.7" fill="#000000"/><rect x="0.2" y="3.4" width="2.8" height="1.4" fill="#000000"/><rect x="2.1" y="4.7" width="1.9" height="1.1" fill="#000000"/><rect x="4.3" y="11.3" width="2.1" height="1.3" fill="#000000"/><rect x="7.6" y="6.8" width="3.0" height="2.3" fill="#000000"/><rect x="0.2" y="11.8" width="1.3" height="1.1" fill="#000000"/><rect x="0.2" y="7.0" width="2.4" height="2.9" fill="#000000"/><rect x="3.8" y="11.5" width="2.0" height="2.5" fill="#000000"/><rect x="9.5" y="10.7" width="1.2" height="2.1" fill="#000000"/><rect x="9.1" y="10.6" width="2.5" height="2.4" fill="#000000"/><rect x="11.1" y="10.1" width="1.7" height="2.4" fill="#000000"/><rect x="11.4" y="7.4" width="0.9" height="1.1" fill="#b08a20"/><rect x="7.6" y="8.0" width="1.0" height="0.8" fill="#b08a20"/><rect x="13.3" y="11.5" width="0.6" height="1.0" fill="#b08a20"/><rect x="9.5" y="7.6" width="1.0" height="0.8" fill="#b08a20"/></pattern><pattern id="fl_blue" width="14" height="14" patternUnits="userSpaceOnUse"><rect width="14" height="14" fill="#1a1ab8"/><rect x="8.4" y="1.8" width="1.5" height="1.7" fill="#2a2af0"/><rect x="3.6" y="10.3" width="0.8" height="1.3" fill="#2a2af0"/><rect x="6.8" y="8.2" width="1.8" height="1.6" fill="#2a2af0"/><rect x="2.1" y="11.4" width="1.0" height="1.4" fill="#2a2af0"/><rect x="1.0" y="8.3" width="0.9" height="1.9" fill="#2a2af0"/><rect x="10.7" y="0.2" width="1.3" height="1.4" fill="#2a2af0"/><rect x="6.7" y="1.1" width="0.9" height="2.1" fill="#2a2af0"/><rect x="1.3" y="5.0" width="2.2" height="2.1" fill="#2a2af0"/><rect x="8.1" y="2.1" width="1.0" height="1.2" fill="#2a2af0"/><rect x="2.1" y="10.7" width="1.8" height="0.9" fill="#2a2af0"/><rect x="7.5" y="6.0" width="1.4" height="1.4" fill="#2a2af0"/><rect x="9.2" y="12.7" width="1.3" height="0.8" fill="#2a2af0"/><rect x="4.2" y="4.5" width="2.2" height="1.7" fill="#2a2af0"/><rect x="1.4" y="2.9" width="1.8" height="1.7" fill="#2a2af0"/><rect x="10.3" y="6.2" width="1.3" height="1.5" fill="#2a2af0"/><rect x="5.7" y="6.3" width="0.8" height="2.0" fill="#2a2af0"/><rect x="5.0" y="9.7" width="1.1" height="1.4" fill="#2a2af0"/><rect x="2.3" y="8.7" width="0.9" height="1.6" fill="#2a2af0"/><rect x="4.5" y="8.2" width="0.9" height="1.2" fill="#2a2af0"/><rect x="2.7" y="3.5" width="0.9" height="1.4" fill="#2a2af0"/><rect x="6.0" y="11.3" width="1.5" height="2.1" fill="#2a2af0"/><rect x="4.7" y="2.3" width="1.0" height="2.1" fill="#2a2af0"/><rect x="0.1" y="3.2" width="1.8" height="2.1" fill="#2a2af0"/><rect x="2.9" y="0.1" width="1.9" height="1.3" fill="#2a2af0"/><rect x="12.9" y="12.3" width="0.9" height="1.7" fill="#2a2af0"/><rect x="4.0" y="10.4" width="1.5" height="0.8" fill="#2a2af0"/><rect x="2.8" y="6.5" width="2.0" height="1.7" fill="#2a2af0"/><rect x="3.3" y="11.7" width="1.5" height="1.7" fill="#2a2af0"/><rect x="3.5" y="11.3" width="2.1" height="1.0" fill="#2a2af0"/><rect x="6.6" y="8.3" width="1.2" height="2.1" fill="#2a2af0"/><rect x="3.4" y="3.3" width="2.1" height="1.2" fill="#000020"/><rect x="1.6" y="10.6" width="2.0" height="2.0" fill="#000020"/><rect x="5.4" y="12.5" width="1.6" height="1.2" fill="#000020"/><rect x="11.2" y="11.6" width="1.8" height="1.9" fill="#000020"/><rect x="7.0" y="11.2" width="2.2" height="1.6" fill="#000020"/><rect x="4.1" y="4.5" width="2.2" height="1.8" fill="#000020"/><rect x="0.2" y="8.7" width="2.1" height="1.8" fill="#000020"/><rect x="10.4" y="10.7" width="2.4" height="2.2" fill="#000020"/><rect x="4.6" y="1.2" width="1.8" height="2.2" fill="#000020"/><rect x="11.7" y="8.7" width="1.4" height="1.4" fill="#000020"/><rect x="1.5" y="6.5" width="1.8" height="1.9" fill="#000020"/><rect x="2.9" y="5.1" width="2.1" height="1.5" fill="#000020"/><rect x="1.8" y="1.1" width="1.4" height="2.0" fill="#000020"/><rect x="9.6" y="7.9" width="1.4" height="2.1" fill="#000020"/><rect x="0.3" y="6.1" width="2.5" height="1.5" fill="#000020"/><rect x="8.3" y="4.4" width="1.6" height="1.1" fill="#000020"/><rect x="12.5" y="0.1" width="0.8" height="0.9" fill="#c8a020"/><rect x="2.6" y="5.7" width="0.9" height="0.8" fill="#c8a020"/><rect x="6.6" y="8.8" width="0.8" height="1.3" fill="#c8a020"/><rect x="8.0" y="11.0" width="0.7" height="1.0" fill="#c8a020"/><rect x="11.3" y="10.8" width="0.8" height="1.0" fill="#c8a020"/><rect x="10.1" y="5.1" width="0.8" height="1.0" fill="#c8a020"/><rect x="12.5" y="7.1" width="1.1" height="1.1" fill="#c8a020"/><rect x="9.4" y="4.2" width="1.1" height="0.9" fill="#c8a020"/></pattern><pattern id="fl_yel" width="14" height="14" patternUnits="userSpaceOnUse"><rect width="14" height="14" fill="#18189c"/><rect x="8.8" y="10.4" width="1.2" height="1.8" fill="#2a2ae8"/><rect x="1.9" y="2.9" width="1.1" height="1.1" fill="#2a2ae8"/><rect x="6.5" y="2.8" width="1.8" height="1.0" fill="#2a2ae8"/><rect x="10.7" y="7.7" width="1.2" height="1.4" fill="#2a2ae8"/><rect x="1.9" y="11.2" width="0.8" height="1.2" fill="#2a2ae8"/><rect x="10.0" y="9.0" width="1.9" height="1.9" fill="#2a2ae8"/><rect x="3.0" y="10.3" width="2.1" height="1.9" fill="#2a2ae8"/><rect x="7.1" y="5.2" width="1.5" height="1.9" fill="#2a2ae8"/><rect x="4.0" y="1.5" width="1.3" height="1.4" fill="#2a2ae8"/><rect x="11.9" y="8.3" width="1.9" height="1.9" fill="#2a2ae8"/><rect x="1.7" y="8.2" width="1.6" height="1.8" fill="#2a2ae8"/><rect x="2.5" y="6.8" width="1.4" height="1.0" fill="#2a2ae8"/><rect x="7.8" y="5.0" width="1.2" height="1.4" fill="#2a2ae8"/><rect x="3.1" y="2.9" width="1.0" height="1.5" fill="#2a2ae8"/><rect x="0.9" y="8.3" width="1.1" height="1.3" fill="#2a2ae8"/><rect x="8.5" y="11.8" width="2.1" height="1.3" fill="#2a2ae8"/><rect x="10.6" y="10.9" width="0.9" height="1.0" fill="#2a2ae8"/><rect x="5.1" y="11.3" width="1.7" height="1.0" fill="#2a2ae8"/><rect x="2.4" y="10.3" width="2.0" height="1.9" fill="#2a2ae8"/><rect x="1.7" y="11.8" width="1.3" height="1.8" fill="#2a2ae8"/><rect x="2.6" y="7.5" width="1.6" height="1.8" fill="#2a2ae8"/><rect x="4.5" y="9.0" width="1.6" height="1.6" fill="#2a2ae8"/><rect x="2.1" y="8.7" width="1.3" height="1.2" fill="#2a2ae8"/><rect x="0.9" y="8.3" width="1.0" height="1.1" fill="#2a2ae8"/><rect x="0.5" y="5.5" width="1.6" height="1.6" fill="#2a2ae8"/><rect x="0.0" y="13.0" width="1.3" height="0.9" fill="#2a2ae8"/><rect x="3.5" y="7.6" width="1.0" height="1.3" fill="#000010"/><rect x="4.8" y="10.3" width="0.9" height="1.6" fill="#000010"/><rect x="6.5" y="12.2" width="0.8" height="1.4" fill="#000010"/><rect x="8.2" y="3.7" width="1.7" height="1.7" fill="#000010"/><rect x="12.0" y="9.1" width="0.9" height="1.7" fill="#000010"/><rect x="10.8" y="3.1" width="1.3" height="2.0" fill="#000010"/><rect x="3.0" y="3.6" width="1.9" height="1.4" fill="#000010"/><rect x="0.5" y="5.0" width="1.2" height="1.4" fill="#000010"/><rect x="7.8" y="0.0" width="1.0" height="2.2" fill="#000010"/><rect x="5.7" y="7.1" width="2.2" height="1.1" fill="#000010"/><rect x="5.5" y="1.7" width="1.4" height="1.3" fill="#000010"/><rect x="9.6" y="2.8" width="2.4" height="1.0" fill="#000010"/><rect x="0.4" y="1.6" width="1.3" height="1.5" fill="#000010"/><rect x="11.0" y="12.3" width="1.4" height="1.6" fill="#000010"/><rect x="1.7" y="10.2" width="0.7" height="1.3" fill="#e8b818"/><rect x="7.1" y="1.5" width="1.1" height="1.7" fill="#e8b818"/><rect x="11.5" y="2.0" width="0.7" height="1.0" fill="#e8b818"/><rect x="4.4" y="10.3" width="1.2" height="1.1" fill="#e8b818"/><rect x="8.7" y="11.7" width="0.9" height="1.5" fill="#e8b818"/><rect x="5.6" y="7.0" width="1.3" height="1.7" fill="#e8b818"/><rect x="11.3" y="1.4" width="1.4" height="1.6" fill="#e8b818"/><rect x="10.7" y="6.8" width="0.9" height="1.3" fill="#e8b818"/><rect x="3.9" y="1.1" width="1.0" height="1.8" fill="#e8b818"/><rect x="9.6" y="1.4" width="0.8" height="0.7" fill="#e8b818"/><rect x="12.5" y="10.0" width="1.5" height="1.7" fill="#e8b818"/><rect x="10.7" y="9.0" width="1.2" height="1.4" fill="#e8b818"/><rect x="1.4" y="3.8" width="1.0" height="1.5" fill="#e8b818"/><rect x="3.3" y="10.0" width="1.8" height="1.2" fill="#e8b818"/><rect x="0.4" y="3.4" width="1.2" height="0.7" fill="#e8b818"/><rect x="3.2" y="10.4" width="1.1" height="1.7" fill="#e8b818"/><rect x="12.3" y="9.8" width="1.6" height="1.2" fill="#e8b818"/><rect x="5.9" y="11.7" width="1.2" height="1.0" fill="#e8b818"/><rect x="4.9" y="6.3" width="1.0" height="0.8" fill="#f0d040"/><rect x="0.5" y="10.6" width="0.8" height="1.1" fill="#f0d040"/><rect x="7.8" y="4.1" width="0.7" height="0.7" fill="#f0d040"/><rect x="6.6" y="10.9" width="1.3" height="1.0" fill="#f0d040"/><rect x="8.6" y="5.5" width="0.8" height="1.2" fill="#f0d040"/><rect x="10.9" y="1.9" width="1.4" height="0.6" fill="#f0d040"/></pattern><pattern id="fl_pure" width="14" height="14" patternUnits="userSpaceOnUse"><rect width="14" height="14" fill="#1c1ce0"/><rect x="8.5" y="11.6" width="0.9" height="1.6" fill="#2a2af8"/><rect x="9.5" y="8.5" width="1.1" height="1.1" fill="#2a2af8"/><rect x="5.1" y="9.6" width="1.2" height="1.6" fill="#2a2af8"/><rect x="11.8" y="4.6" width="0.9" height="1.1" fill="#2a2af8"/><rect x="8.1" y="1.8" width="1.1" height="1.8" fill="#2a2af8"/><rect x="2.1" y="8.1" width="1.5" height="1.6" fill="#2a2af8"/><rect x="1.1" y="2.6" width="0.9" height="1.2" fill="#2a2af8"/><rect x="11.9" y="5.6" width="2.0" height="1.3" fill="#2a2af8"/><rect x="8.6" y="1.4" width="1.5" height="1.8" fill="#2a2af8"/><rect x="2.3" y="1.2" width="1.5" height="1.6" fill="#2a2af8"/><rect x="2.4" y="5.7" width="1.8" height="1.4" fill="#2a2af8"/><rect x="6.5" y="1.3" width="1.1" height="1.8" fill="#2a2af8"/><rect x="3.4" y="0.4" width="1.8" height="0.9" fill="#2a2af8"/><rect x="6.5" y="1.2" width="1.7" height="0.9" fill="#2a2af8"/><rect x="6.8" y="5.6" width="1.4" height="1.6" fill="#2a2af8"/><rect x="7.5" y="1.2" width="1.4" height="1.3" fill="#2a2af8"/><rect x="10.9" y="12.1" width="1.4" height="1.1" fill="#2a2af8"/><rect x="9.2" y="7.4" width="0.9" height="1.0" fill="#2a2af8"/><rect x="12.4" y="5.2" width="0.8" height="1.6" fill="#2a2af8"/><rect x="12.0" y="3.3" width="1.2" height="1.5" fill="#2a2af8"/><rect x="8.1" y="6.1" width="1.2" height="1.0" fill="#2a2af8"/><rect x="0.4" y="4.0" width="1.1" height="1.3" fill="#2a2af8"/><rect x="3.4" y="11.7" width="2.0" height="1.5" fill="#2a2af8"/><rect x="0.4" y="1.9" width="1.2" height="1.1" fill="#2a2af8"/><rect x="11.4" y="3.5" width="0.9" height="1.0" fill="#000040"/><rect x="11.9" y="3.7" width="1.0" height="1.4" fill="#000040"/><rect x="7.0" y="7.7" width="1.5" height="1.1" fill="#000040"/><rect x="6.2" y="10.5" width="1.7" height="1.5" fill="#000040"/><rect x="12.4" y="7.0" width="1.1" height="1.1" fill="#000040"/><rect x="11.4" y="7.9" width="1.6" height="1.0" fill="#000040"/><rect x="6.1" y="4.2" width="1.0" height="1.7" fill="#000040"/><rect x="2.6" y="9.1" width="1.0" height="0.8" fill="#000040"/><rect x="5.9" y="7.1" width="0.9" height="1.0" fill="#000040"/><rect x="3.3" y="4.6" width="1.1" height="1.6" fill="#000040"/><rect x="2.9" y="1.9" width="1.2" height="0.8" fill="#000040"/><rect x="8.4" y="2.9" width="1.5" height="0.9" fill="#000040"/><rect x="4.4" y="11.7" width="1.4" height="1.4" fill="#000040"/><rect x="0.6" y="5.2" width="1.4" height="1.3" fill="#000040"/></pattern><pattern id="fl_white" width="14" height="14" patternUnits="userSpaceOnUse"><rect width="14" height="14" fill="#8a8ad8"/><rect x="8.7" y="2.1" width="2.2" height="0.8" fill="#d8d8f0"/><rect x="10.4" y="9.0" width="2.2" height="0.8" fill="#d8d8f0"/><rect x="2.9" y="4.0" width="2.0" height="2.2" fill="#d8d8f0"/><rect x="3.2" y="2.9" width="1.8" height="1.2" fill="#d8d8f0"/><rect x="9.6" y="2.7" width="2.0" height="2.0" fill="#d8d8f0"/><rect x="2.8" y="5.7" width="2.1" height="1.5" fill="#d8d8f0"/><rect x="7.1" y="4.7" width="1.4" height="0.9" fill="#d8d8f0"/><rect x="8.0" y="4.8" width="1.6" height="2.1" fill="#d8d8f0"/><rect x="5.9" y="11.2" width="2.0" height="2.2" fill="#d8d8f0"/><rect x="2.3" y="12.2" width="0.8" height="1.0" fill="#d8d8f0"/><rect x="3.5" y="6.0" width="1.8" height="1.8" fill="#d8d8f0"/><rect x="1.4" y="0.6" width="2.0" height="0.9" fill="#d8d8f0"/><rect x="7.0" y="4.8" width="1.5" height="2.0" fill="#d8d8f0"/><rect x="11.8" y="4.6" width="1.5" height="1.1" fill="#d8d8f0"/><rect x="10.6" y="4.1" width="1.1" height="1.2" fill="#d8d8f0"/><rect x="5.3" y="0.9" width="2.1" height="1.3" fill="#d8d8f0"/><rect x="5.7" y="1.4" width="2.1" height="1.9" fill="#d8d8f0"/><rect x="10.5" y="11.8" width="1.5" height="1.3" fill="#d8d8f0"/><rect x="0.5" y="11.4" width="1.8" height="1.2" fill="#d8d8f0"/><rect x="5.9" y="6.2" width="2.1" height="1.0" fill="#d8d8f0"/><rect x="0.7" y="11.1" width="2.2" height="0.9" fill="#d8d8f0"/><rect x="9.6" y="7.4" width="1.6" height="1.4" fill="#d8d8f0"/><rect x="1.0" y="0.1" width="1.8" height="1.2" fill="#d8d8f0"/><rect x="4.8" y="4.3" width="1.3" height="1.7" fill="#d8d8f0"/><rect x="7.3" y="3.8" width="1.7" height="1.8" fill="#d8d8f0"/><rect x="10.8" y="10.8" width="2.0" height="1.9" fill="#d8d8f0"/><rect x="4.6" y="4.8" width="0.8" height="1.7" fill="#d8d8f0"/><rect x="3.1" y="12.8" width="1.5" height="1.0" fill="#d8d8f0"/><rect x="8.7" y="3.8" width="1.3" height="2.1" fill="#d8d8f0"/><rect x="9.0" y="4.2" width="1.2" height="1.6" fill="#d8d8f0"/><rect x="11.4" y="9.5" width="0.8" height="0.9" fill="#e0b820"/><rect x="7.6" y="4.1" width="0.8" height="1.8" fill="#e0b820"/><rect x="1.2" y="4.5" width="1.9" height="0.9" fill="#e0b820"/><rect x="6.0" y="11.4" width="1.7" height="1.4" fill="#e0b820"/><rect x="0.1" y="9.6" width="1.2" height="1.7" fill="#e0b820"/><rect x="11.0" y="8.2" width="0.9" height="1.6" fill="#e0b820"/><rect x="9.4" y="4.6" width="1.5" height="1.4" fill="#e0b820"/><rect x="6.8" y="1.5" width="1.0" height="1.4" fill="#e0b820"/><rect x="2.0" y="9.0" width="1.4" height="1.3" fill="#e0b820"/><rect x="10.6" y="12.7" width="1.7" height="1.1" fill="#e0b820"/><rect x="3.4" y="1.7" width="1.6" height="1.2" fill="#e0b820"/><rect x="0.8" y="11.0" width="1.1" height="2.0" fill="#e0b820"/><rect x="1.2" y="7.9" width="1.6" height="1.7" fill="#e0b820"/><rect x="10.4" y="9.0" width="1.0" height="1.6" fill="#e0b820"/><rect x="2.9" y="1.9" width="1.4" height="1.8" fill="#e0b820"/><rect x="5.1" y="5.6" width="1.8" height="0.8" fill="#e0b820"/><rect x="6.7" y="6.3" width="2.2" height="1.4" fill="#1a1a60"/><rect x="5.8" y="7.4" width="1.6" height="1.6" fill="#1a1a60"/><rect x="11.6" y="12.2" width="1.5" height="1.5" fill="#1a1a60"/><rect x="0.3" y="3.9" width="1.2" height="2.3" fill="#1a1a60"/><rect x="7.9" y="12.9" width="2.2" height="1.1" fill="#1a1a60"/><rect x="0.4" y="5.6" width="1.8" height="1.5" fill="#1a1a60"/><rect x="4.9" y="9.6" width="1.5" height="2.1" fill="#1a1a60"/><rect x="9.5" y="2.0" width="1.4" height="1.8" fill="#1a1a60"/><rect x="5.6" y="12.1" width="2.3" height="1.5" fill="#1a1a60"/><rect x="2.6" y="2.7" width="1.7" height="1.6" fill="#1a1a60"/><rect x="7.9" y="8.6" width="2.0" height="1.6" fill="#1a1a60"/><rect x="10.4" y="5.7" width="1.9" height="1.3" fill="#1a1a60"/><rect x="11.6" y="1.4" width="1.1" height="2.2" fill="#1a1a60"/><rect x="3.2" y="7.0" width="2.2" height="1.9" fill="#1a1a60"/></pattern>
</defs>
<rect width="685" height="966" fill="#fff"/>
<text x="0.0" y="15.8" font-size="20.5" text-anchor="start" fill="#000" >A</text>
<path d="M93.3,8.2 L482.3,8.2 L482.3,0.9 L505,16.6 L482.3,32.4 L482.3,23.8 L93.3,23.8 Z" fill="#e2e8f8" stroke="#4a60aa" stroke-width="1.1" />
<text x="289.5" y="19.6" font-size="10.6" text-anchor="middle" fill="#111" >Recurrent osteomyelitis &amp; trained immunity</text>
<rect x="595" y="5.8" width="88.5" height="190.5" rx="13" ry="13" fill="none" stroke="#222" stroke-width="1.1" stroke-dasharray="3.2,2"/>
<text x="612.5" y="28.0" font-size="10.2" text-anchor="start" fill="#111" >Groups</text>
<rect x="597.8" y="40.4" width="14.7" height="8.3" fill="#f8b878" />
<text x="613.5" y="48.0" font-size="10.6" text-anchor="start" fill="#111" >G1 Sham</text>
<rect x="597.8" y="62.8" width="14.7" height="8.3" fill="#1a9aaa" />
<text x="613.5" y="70.3" font-size="10.6" text-anchor="start" fill="#111" >G2 PBS</text>
<rect x="597.8" y="85.1" width="14.7" height="8.3" fill="#8c8cf4" />
<text x="613.5" y="92.7" font-size="10.6" text-anchor="start" fill="#111" >G3 Van</text>
<rect x="597.8" y="107.5" width="14.7" height="8.3" fill="#2a2ae8" />
<text x="613.5" y="115.1" font-size="10.6" text-anchor="start" fill="#111" >G4 Ga<tspan font-size="62%" dy="2">Van</tspan></text>
<rect x="597.8" y="129.8" width="14.7" height="8.3" fill="#4f9cf0" />
<text x="613.5" y="137.4" font-size="10.6" text-anchor="start" fill="#111" >G5 GaCu<tspan font-size="62%" dy="2">Van</tspan></text>
<rect x="597.8" y="152.2" width="14.7" height="8.3" fill="#ee1111" />
<text x="613.5" y="159.8" font-size="10.6" text-anchor="start" fill="#111" >G6 GaCu<tspan font-size="62%" dy="2">Van</tspan><tspan dy="-2">&amp;</tspan></text>
<text x="629.0" y="180.8" font-size="10.6" text-anchor="start" fill="#111" >HA<tspan font-size="62%" dy="2">CHO</tspan><tspan dy="-2">-BSA</tspan></text>
<path d="M25.5,70.0 L55.5,60.0 L55.0,82.5 L43.0,81.0 Z" fill="url(#cone)" stroke="none" stroke-width="1" />
<g transform="translate(41,73.5) scale(1.0)"><path d="M3,13 C-6,11 -20,3 -27,-7" fill="none" stroke="#e3a6a2" stroke-width="2.7" stroke-linecap="round"/><path d="M3,15 L10,18 L3,26 L-3,27.5 L-4,26.5 L0,24.5 Z" fill="#e6ded7" stroke="#d2c4b8" stroke-width="0.5"/><path d="M14,18 L20,18.5 L21,27 L16,27.5 Z" fill="#e6ded7" stroke="#d2c4b8" stroke-width="0.5"/><path d="M27,17 L32,16.5 L30,26 L26,26.5 Z" fill="#e6ded7" stroke="#d2c4b8" stroke-width="0.5"/><path d="M37,14.5 L41.5,13.5 L45.5,26 L42,26.8 Z" fill="#e6ded7" stroke="#d2c4b8" stroke-width="0.5"/><path d="M-5,27.6 L1,27.6 M15,27.6 L22,27.6 M25,26.8 L31,26.8 M41,27 L47,27.6" stroke="#e8a8a4" stroke-width="1.6" stroke-linecap="round"/><path d="M1.5,11 C2,4 12,0.5 22,0.5 C30,0.5 36,1.5 41,3.5 C45,5 49,6.5 51.5,8 C50,10 46,12.5 42,14 C37,16.5 30,19.5 23,20.5 C16,21 9,20.5 5,18.5 C2,17 1,14 1.5,11 Z" fill="#ece8e4" stroke="#d0c6be" stroke-width="0.6"/><path d="M3,12 C4,17 9,20 14,19 C11,15 8,12 3,12 Z" fill="#e2dcd6"/><ellipse cx="36" cy="4.6" rx="3" ry="2.8" fill="#eab4b0"/><circle cx="46" cy="6.6" r="0.7" fill="#b03030"/></g>
<circle cx="35.5" cy="53.6" r="20.3" fill="#fff" stroke="#444" stroke-width="0.9" />
<path d="M31.8,40.5 C31.5,38.5 34.5,37.8 35.6,39.3 C35.8,44 36.5,50 37.8,56 C38.8,61 40,64 40,67 C39.5,68.6 38,68.8 37.4,67.6 C36.3,63 35.3,59 34.3,54 C33.3,49 32.4,45 31.8,40.5 Z" fill="#ecd6aa" stroke="#cfb584" stroke-width="0.5" />
<line x1="34.5" y1="42.0" x2="47.0" y2="35.5" stroke="#6a6a6a" stroke-width="0.9" />
<line x1="55.0" y1="86.0" x2="81.0" y2="92.0" stroke="#f4f4f4" stroke-width="2.2" />
<line x1="62.0" y1="87.5" x2="68.0" y2="89.0" stroke="#2aa58a" stroke-width="2" />
<path d="M117.0,70.0 L147.0,60.0 L147.0,82.5 L136.0,81.0 Z" fill="url(#cone)" stroke="none" stroke-width="1" />
<g transform="translate(133,73.5) scale(1.0)"><path d="M3,13 C-6,11 -20,3 -27,-7" fill="none" stroke="#e3a6a2" stroke-width="2.7" stroke-linecap="round"/><path d="M3,15 L10,18 L3,26 L-3,27.5 L-4,26.5 L0,24.5 Z" fill="#e6ded7" stroke="#d2c4b8" stroke-width="0.5"/><path d="M14,18 L20,18.5 L21,27 L16,27.5 Z" fill="#e6ded7" stroke="#d2c4b8" stroke-width="0.5"/><path d="M27,17 L32,16.5 L30,26 L26,26.5 Z" fill="#e6ded7" stroke="#d2c4b8" stroke-width="0.5"/><path d="M37,14.5 L41.5,13.5 L45.5,26 L42,26.8 Z" fill="#e6ded7" stroke="#d2c4b8" stroke-width="0.5"/><path d="M-5,27.6 L1,27.6 M15,27.6 L22,27.6 M25,26.8 L31,26.8 M41,27 L47,27.6" stroke="#e8a8a4" stroke-width="1.6" stroke-linecap="round"/><path d="M1.5,11 C2,4 12,0.5 22,0.5 C30,0.5 36,1.5 41,3.5 C45,5 49,6.5 51.5,8 C50,10 46,12.5 42,14 C37,16.5 30,19.5 23,20.5 C16,21 9,20.5 5,18.5 C2,17 1,14 1.5,11 Z" fill="#ece8e4" stroke="#d0c6be" stroke-width="0.6"/><path d="M3,12 C4,17 9,20 14,19 C11,15 8,12 3,12 Z" fill="#e2dcd6"/><ellipse cx="36" cy="4.6" rx="3" ry="2.8" fill="#eab4b0"/><circle cx="46" cy="6.6" r="0.7" fill="#b03030"/></g>
<circle cx="127.7" cy="53.0" r="20.3" fill="#fff" stroke="#444" stroke-width="0.9" />
<g clip-path="url(#cc2)">
<path d="M125,30 C130,30 137,30 143,31 C140,42 133,52 130,60 C128.5,65 128,69 127.5,74 L120.5,74 C121,66 122.5,58 124,50 C125,43 125,36 125,30 Z" fill="#e4c796" stroke="none" stroke-width="1" />
<path d="M128,36 C131,40 134,38 137,37 C134,44 131,50 129,56 C128,50 128,42 128,36 Z" fill="#d8b67e" stroke="none" stroke-width="1" opacity="0.6"/>
<circle cx="126.7" cy="52.0" r="0.9" fill="#c0403a" stroke="none" stroke-width="1" />
<circle cx="127.8" cy="54.2" r="0.9" fill="#e8a03a" stroke="none" stroke-width="1" />
<circle cx="125.6" cy="56.4" r="0.9" fill="#c0403a" stroke="none" stroke-width="1" />
<circle cx="126.6" cy="58.6" r="0.9" fill="#e8a03a" stroke="none" stroke-width="1" />
<circle cx="124.5" cy="60.8" r="0.9" fill="#c0403a" stroke="none" stroke-width="1" />
<circle cx="125.5" cy="63.0" r="0.9" fill="#e8a03a" stroke="none" stroke-width="1" />
<circle cx="123.4" cy="65.2" r="0.9" fill="#c0403a" stroke="none" stroke-width="1" />
<circle cx="124.5" cy="67.4" r="0.9" fill="#e8a03a" stroke="none" stroke-width="1" />
<circle cx="122.3" cy="69.6" r="0.9" fill="#c0403a" stroke="none" stroke-width="1" />
<line x1="108.0" y1="38.8" x2="129.2" y2="54.0" stroke="#a8d0e6" stroke-width="2.4" />
<line x1="108.0" y1="38.8" x2="129.2" y2="54.0" stroke="#6f9fbf" stroke-width="0.5" />
</g>
<line x1="147.0" y1="86.0" x2="167.0" y2="88.0" stroke="#eaeaf4" stroke-width="2.2" />
<line x1="150.0" y1="86.5" x2="156.0" y2="87.3" stroke="#3a7ac8" stroke-width="1.8" />
<text x="190.5" y="38.9" font-size="10.7" text-anchor="start" fill="#111" >Antibiotic</text>
<rect x="209.0" y="41.0" width="5.0" height="10.0" fill="#dfe8e0" rx="1"/>
<rect x="211.0" y="50.5" width="2.0" height="3.0" fill="#e07030" />
<path d="M212,54 C213,62 214,70 222,73 C228,74 232,72 236,74" fill="none" stroke="#6ab868" stroke-width="0.7" />
<line x1="221.0" y1="43.0" x2="236.0" y2="69.0" stroke="#5b8fcf" stroke-width="2.4" />
<g transform="translate(248.6,0)"><path d="M0,80 C0.6,90 -0.6,98 0,105.5" fill="none" stroke="#e4aaa6" stroke-width="1.4"/><path d="M-6.5,50 L-13.5,45.8 M6.5,50 L13.5,45.8" stroke="#d6cac0" stroke-width="3.4" stroke-linecap="round"/><path d="M-6.5,50 L-13.5,45.8 M6.5,50 L13.5,45.8" stroke="#ebe7e3" stroke-width="2.4" stroke-linecap="round"/><circle cx="-15" cy="45.2" r="1.5" fill="#eab0aa"/><circle cx="15" cy="45.2" r="1.5" fill="#eab0aa"/><path d="M-8.5,74 L-12.5,80.5 L-17,83.5 M8.5,74 L12.5,80.5 L17,83.5" fill="none" stroke="#eab0aa" stroke-width="1.7" stroke-linecap="round" stroke-linejoin="round"/><path d="M0,33.4 C2.2,33.4 4.2,36.5 4.8,39.5 C5.2,41.5 5,43.5 4.2,45 C6,46 7.5,47.5 8,49.5 C8.5,53 8.5,57 9,60 C10,64 11,68 10.8,72 C10.5,76 7,79.5 3,80.5 L0,81.5 L-3,80.5 C-7,79.5 -10.5,76 -10.8,72 C-11,68 -10,64 -9,60 C-8.5,57 -8.5,53 -8,49.5 C-7.5,47.5 -6,46 -4.2,45 C-5,43.5 -5.2,41.5 -4.8,39.5 C-4.2,36.5 -2.2,33.4 0,33.4 Z" fill="#ebe7e3" stroke="#cfc2b7" stroke-width="0.6"/><path d="M-9.5,66 C-7,70 -6,74 -8,77 M9.5,66 C7,70 6,74 8,77" fill="none" stroke="#d8ccc2" stroke-width="0.5"/><circle cx="-6" cy="42.2" r="2" fill="#eab4ae" stroke="#d9a09a" stroke-width="0.3"/><circle cx="6" cy="42.2" r="2" fill="#eab4ae" stroke="#d9a09a" stroke-width="0.3"/><circle cx="-9" cy="69" r="2.2" fill="#b02020"/></g>
<path d="M296.0,60.0 L316.0,62.0 L337.0,71.0 L333.0,75.0 Z" fill="url(#cone)" stroke="none" stroke-width="1" />
<circle cx="308.2" cy="48.9" r="17.5" fill="#fff" stroke="#444" stroke-width="0.9" />
<circle cx="301.4" cy="44.2" r="2.2" fill="#eab866" stroke="#00000022" stroke-width="0.3" />
<circle cx="302.9" cy="40.9" r="2.2" fill="#f6d08e" stroke="#00000022" stroke-width="0.3" />
<circle cx="301.3" cy="41.9" r="2.2" fill="#eab866" stroke="#00000022" stroke-width="0.3" />
<circle cx="301.1" cy="42.9" r="2.2" fill="#f6d08e" stroke="#00000022" stroke-width="0.3" />
<circle cx="297.7" cy="42.6" r="2.2" fill="#eab866" stroke="#00000022" stroke-width="0.3" />
<circle cx="298.3" cy="44.1" r="2.2" fill="#f2c57e" stroke="#00000022" stroke-width="0.3" />
<circle cx="298.8" cy="39.2" r="2.2" fill="#f6d08e" stroke="#00000022" stroke-width="0.3" />
<circle cx="301.2" cy="41.9" r="2.2" fill="#f2c57e" stroke="#00000022" stroke-width="0.3" />
<circle cx="303.4" cy="45.3" r="2.2" fill="#f2c57e" stroke="#00000022" stroke-width="0.3" />
<circle cx="314.2" cy="41.5" r="2.2" fill="#eab866" stroke="#00000022" stroke-width="0.3" />
<circle cx="311.2" cy="41.9" r="2.2" fill="#eab866" stroke="#00000022" stroke-width="0.3" />
<circle cx="313.3" cy="37.6" r="2.2" fill="#eab866" stroke="#00000022" stroke-width="0.3" />
<circle cx="313.9" cy="39.0" r="2.2" fill="#f2c57e" stroke="#00000022" stroke-width="0.3" />
<circle cx="314.5" cy="41.1" r="2.2" fill="#f2c57e" stroke="#00000022" stroke-width="0.3" />
<circle cx="313.1" cy="41.4" r="2.2" fill="#f6d08e" stroke="#00000022" stroke-width="0.3" />
<circle cx="311.8" cy="42.4" r="2.2" fill="#eab866" stroke="#00000022" stroke-width="0.3" />
<circle cx="311.1" cy="43.1" r="2.2" fill="#f6d08e" stroke="#00000022" stroke-width="0.3" />
<circle cx="312.7" cy="43.4" r="2.2" fill="#f6d08e" stroke="#00000022" stroke-width="0.3" />
<circle cx="300.4" cy="55.3" r="2.2" fill="#f2c57e" stroke="#00000022" stroke-width="0.3" />
<circle cx="302.8" cy="50.6" r="2.2" fill="#f6d08e" stroke="#00000022" stroke-width="0.3" />
<circle cx="299.2" cy="51.1" r="2.2" fill="#eab866" stroke="#00000022" stroke-width="0.3" />
<circle cx="303.9" cy="53.1" r="2.2" fill="#f6d08e" stroke="#00000022" stroke-width="0.3" />
<circle cx="302.4" cy="55.6" r="2.2" fill="#f6d08e" stroke="#00000022" stroke-width="0.3" />
<circle cx="301.4" cy="51.8" r="2.2" fill="#eab866" stroke="#00000022" stroke-width="0.3" />
<circle cx="301.6" cy="55.3" r="2.2" fill="#f6d08e" stroke="#00000022" stroke-width="0.3" />
<circle cx="300.6" cy="53.9" r="2.2" fill="#f2c57e" stroke="#00000022" stroke-width="0.3" />
<circle cx="299.7" cy="54.2" r="2.2" fill="#eab866" stroke="#00000022" stroke-width="0.3" />
<circle cx="312.6" cy="55.7" r="2.2" fill="#f2c57e" stroke="#00000022" stroke-width="0.3" />
<circle cx="316.7" cy="55.6" r="2.2" fill="#f2c57e" stroke="#00000022" stroke-width="0.3" />
<circle cx="312.4" cy="56.6" r="2.2" fill="#f6d08e" stroke="#00000022" stroke-width="0.3" />
<circle cx="317.2" cy="52.1" r="2.2" fill="#f6d08e" stroke="#00000022" stroke-width="0.3" />
<circle cx="314.2" cy="55.1" r="2.2" fill="#f2c57e" stroke="#00000022" stroke-width="0.3" />
<circle cx="316.4" cy="56.1" r="2.2" fill="#f2c57e" stroke="#00000022" stroke-width="0.3" />
<circle cx="318.1" cy="53.6" r="2.2" fill="#eab866" stroke="#00000022" stroke-width="0.3" />
<circle cx="313.7" cy="54.5" r="2.2" fill="#f2c57e" stroke="#00000022" stroke-width="0.3" />
<circle cx="315.6" cy="54.7" r="2.2" fill="#eab866" stroke="#00000022" stroke-width="0.3" />
<circle cx="311.3" cy="47.4" r="2.2" fill="#eab866" stroke="#00000022" stroke-width="0.3" />
<circle cx="305.1" cy="51.0" r="2.2" fill="#eab866" stroke="#00000022" stroke-width="0.3" />
<circle cx="306.2" cy="46.4" r="2.2" fill="#f6d08e" stroke="#00000022" stroke-width="0.3" />
<circle cx="311.0" cy="50.9" r="2.2" fill="#f6d08e" stroke="#00000022" stroke-width="0.3" />
<circle cx="307.3" cy="51.0" r="2.2" fill="#f6d08e" stroke="#00000022" stroke-width="0.3" />
<circle cx="307.8" cy="49.7" r="2.2" fill="#eab866" stroke="#00000022" stroke-width="0.3" />
<circle cx="305.4" cy="48.1" r="2.2" fill="#f2c57e" stroke="#00000022" stroke-width="0.3" />
<circle cx="308.7" cy="44.4" r="2.2" fill="#eab866" stroke="#00000022" stroke-width="0.3" />
<circle cx="310.3" cy="48.7" r="2.2" fill="#f6d08e" stroke="#00000022" stroke-width="0.3" />
<circle cx="310.0" cy="38.9" r="2.2" fill="#eab866" stroke="#00000022" stroke-width="0.3" />
<circle cx="305.4" cy="37.5" r="2.2" fill="#eab866" stroke="#00000022" stroke-width="0.3" />
<circle cx="307.3" cy="36.2" r="2.2" fill="#eab866" stroke="#00000022" stroke-width="0.3" />
<circle cx="308.5" cy="36.9" r="2.2" fill="#f6d08e" stroke="#00000022" stroke-width="0.3" />
<circle cx="309.7" cy="37.1" r="2.2" fill="#f6d08e" stroke="#00000022" stroke-width="0.3" />
<circle cx="305.8" cy="37.6" r="2.2" fill="#eab866" stroke="#00000022" stroke-width="0.3" />
<circle cx="308.5" cy="37.6" r="2.2" fill="#eab866" stroke="#00000022" stroke-width="0.3" />
<circle cx="308.8" cy="36.0" r="2.2" fill="#eab866" stroke="#00000022" stroke-width="0.3" />
<circle cx="310.9" cy="39.0" r="2.2" fill="#f6d08e" stroke="#00000022" stroke-width="0.3" />
<circle cx="296.0" cy="47.4" r="2.2" fill="#f6d08e" stroke="#00000022" stroke-width="0.3" />
<circle cx="296.8" cy="51.2" r="2.2" fill="#f2c57e" stroke="#00000022" stroke-width="0.3" />
<circle cx="294.9" cy="50.4" r="2.2" fill="#f6d08e" stroke="#00000022" stroke-width="0.3" />
<circle cx="296.1" cy="47.5" r="2.2" fill="#eab866" stroke="#00000022" stroke-width="0.3" />
<circle cx="298.9" cy="47.0" r="2.2" fill="#f2c57e" stroke="#00000022" stroke-width="0.3" />
<circle cx="292.9" cy="49.3" r="2.2" fill="#f2c57e" stroke="#00000022" stroke-width="0.3" />
<circle cx="298.9" cy="49.4" r="2.2" fill="#f2c57e" stroke="#00000022" stroke-width="0.3" />
<circle cx="297.6" cy="46.6" r="2.2" fill="#f2c57e" stroke="#00000022" stroke-width="0.3" />
<circle cx="296.2" cy="47.8" r="2.2" fill="#f2c57e" stroke="#00000022" stroke-width="0.3" />
<circle cx="318.8" cy="51.1" r="2.2" fill="#f6d08e" stroke="#00000022" stroke-width="0.3" />
<circle cx="320.7" cy="49.0" r="2.2" fill="#f6d08e" stroke="#00000022" stroke-width="0.3" />
<circle cx="322.4" cy="49.2" r="2.2" fill="#f6d08e" stroke="#00000022" stroke-width="0.3" />
<circle cx="321.0" cy="48.8" r="2.2" fill="#eab866" stroke="#00000022" stroke-width="0.3" />
<circle cx="317.6" cy="48.5" r="2.2" fill="#eab866" stroke="#00000022" stroke-width="0.3" />
<circle cx="318.7" cy="48.7" r="2.2" fill="#eab866" stroke="#00000022" stroke-width="0.3" />
<circle cx="320.2" cy="47.9" r="2.2" fill="#f6d08e" stroke="#00000022" stroke-width="0.3" />
<circle cx="322.0" cy="47.8" r="2.2" fill="#f6d08e" stroke="#00000022" stroke-width="0.3" />
<circle cx="320.7" cy="51.0" r="2.2" fill="#f6d08e" stroke="#00000022" stroke-width="0.3" />
<circle cx="308.1" cy="55.9" r="2.2" fill="#f6d08e" stroke="#00000022" stroke-width="0.3" />
<circle cx="307.7" cy="60.7" r="2.2" fill="#f2c57e" stroke="#00000022" stroke-width="0.3" />
<circle cx="310.8" cy="56.7" r="2.2" fill="#f2c57e" stroke="#00000022" stroke-width="0.3" />
<circle cx="308.3" cy="59.7" r="2.2" fill="#f6d08e" stroke="#00000022" stroke-width="0.3" />
<circle cx="307.4" cy="59.8" r="2.2" fill="#eab866" stroke="#00000022" stroke-width="0.3" />
<circle cx="308.2" cy="59.9" r="2.2" fill="#f6d08e" stroke="#00000022" stroke-width="0.3" />
<circle cx="309.7" cy="61.4" r="2.2" fill="#f2c57e" stroke="#00000022" stroke-width="0.3" />
<circle cx="307.1" cy="58.0" r="2.2" fill="#eab866" stroke="#00000022" stroke-width="0.3" />
<circle cx="311.8" cy="61.2" r="2.2" fill="#f2c57e" stroke="#00000022" stroke-width="0.3" />
<g transform="translate(344.2,0)"><path d="M0,80 C0.6,90 -0.6,98 0,105.5" fill="none" stroke="#e4aaa6" stroke-width="1.4"/><path d="M-6.5,50 L-13.5,45.8 M6.5,50 L13.5,45.8" stroke="#d6cac0" stroke-width="3.4" stroke-linecap="round"/><path d="M-6.5,50 L-13.5,45.8 M6.5,50 L13.5,45.8" stroke="#ebe7e3" stroke-width="2.4" stroke-linecap="round"/><circle cx="-15" cy="45.2" r="1.5" fill="#eab0aa"/><circle cx="15" cy="45.2" r="1.5" fill="#eab0aa"/><path d="M-8.5,74 L-12.5,80.5 L-17,83.5 M8.5,74 L12.5,80.5 L17,83.5" fill="none" stroke="#eab0aa" stroke-width="1.7" stroke-linecap="round" stroke-linejoin="round"/><path d="M0,33.4 C2.2,33.4 4.2,36.5 4.8,39.5 C5.2,41.5 5,43.5 4.2,45 C6,46 7.5,47.5 8,49.5 C8.5,53 8.5,57 9,60 C10,64 11,68 10.8,72 C10.5,76 7,79.5 3,80.5 L0,81.5 L-3,80.5 C-7,79.5 -10.5,76 -10.8,72 C-11,68 -10,64 -9,60 C-8.5,57 -8.5,53 -8,49.5 C-7.5,47.5 -6,46 -4.2,45 C-5,43.5 -5.2,41.5 -4.8,39.5 C-4.2,36.5 -2.2,33.4 0,33.4 Z" fill="#ebe7e3" stroke="#cfc2b7" stroke-width="0.6"/><path d="M-9.5,66 C-7,70 -6,74 -8,77 M9.5,66 C7,70 6,74 8,77" fill="none" stroke="#d8ccc2" stroke-width="0.5"/><circle cx="-6" cy="42.2" r="2" fill="#eab4ae" stroke="#d9a09a" stroke-width="0.3"/><circle cx="6" cy="42.2" r="2" fill="#eab4ae" stroke="#d9a09a" stroke-width="0.3"/><circle cx="-8.5" cy="72.5" r="2.6" fill="#d83030"/></g>
<line x1="305.0" y1="99.0" x2="332.0" y2="83.0" stroke="#eeeeee" stroke-width="2.2" />
<line x1="324.0" y1="88.0" x2="330.0" y2="84.5" stroke="#2aa58a" stroke-width="1.8" />
<path d="M406.4,63.0 L423.4,57.0 L436.3,77.0 L432.3,79.0 Z" fill="url(#cone)" stroke="none" stroke-width="1" />
<circle cx="408.4" cy="48.6" r="17.5" fill="#fff" stroke="#444" stroke-width="0.9" />
<circle cx="400.8" cy="42.5" r="2.2" fill="#555555" stroke="#00000022" stroke-width="0.3" />
<circle cx="401.5" cy="41.4" r="2.2" fill="#4a4a4a" stroke="#00000022" stroke-width="0.3" />
<circle cx="402.1" cy="43.7" r="2.2" fill="#3a3a3a" stroke="#00000022" stroke-width="0.3" />
<circle cx="403.0" cy="44.5" r="2.2" fill="#4a4a4a" stroke="#00000022" stroke-width="0.3" />
<circle cx="401.4" cy="41.6" r="2.2" fill="#555555" stroke="#00000022" stroke-width="0.3" />
<circle cx="402.5" cy="42.0" r="2.2" fill="#2e2e2e" stroke="#00000022" stroke-width="0.3" />
<circle cx="399.8" cy="40.1" r="2.2" fill="#3a3a3a" stroke="#00000022" stroke-width="0.3" />
<circle cx="398.2" cy="42.2" r="2.2" fill="#3a3a3a" stroke="#00000022" stroke-width="0.3" />
<circle cx="403.4" cy="39.1" r="2.2" fill="#3a3a3a" stroke="#00000022" stroke-width="0.3" />
<circle cx="414.6" cy="41.3" r="2.2" fill="#3a3a3a" stroke="#00000022" stroke-width="0.3" />
<circle cx="414.6" cy="40.8" r="2.2" fill="#555555" stroke="#00000022" stroke-width="0.3" />
<circle cx="413.9" cy="42.3" r="2.2" fill="#2e2e2e" stroke="#00000022" stroke-width="0.3" />
<circle cx="413.2" cy="42.2" r="2.2" fill="#2e2e2e" stroke="#00000022" stroke-width="0.3" />
<circle cx="413.9" cy="41.7" r="2.2" fill="#2e2e2e" stroke="#00000022" stroke-width="0.3" />
<circle cx="413.9" cy="41.3" r="2.2" fill="#3a3a3a" stroke="#00000022" stroke-width="0.3" />
<circle cx="414.1" cy="39.5" r="2.2" fill="#3a3a3a" stroke="#00000022" stroke-width="0.3" />
<circle cx="414.2" cy="41.0" r="2.2" fill="#555555" stroke="#00000022" stroke-width="0.3" />
<circle cx="411.8" cy="39.1" r="2.2" fill="#555555" stroke="#00000022" stroke-width="0.3" />
<circle cx="400.3" cy="53.5" r="2.2" fill="#555555" stroke="#00000022" stroke-width="0.3" />
<circle cx="402.9" cy="54.5" r="2.2" fill="#2e2e2e" stroke="#00000022" stroke-width="0.3" />
<circle cx="397.8" cy="55.0" r="2.2" fill="#555555" stroke="#00000022" stroke-width="0.3" />
<circle cx="401.3" cy="53.7" r="2.2" fill="#2e2e2e" stroke="#00000022" stroke-width="0.3" />
<circle cx="400.3" cy="53.3" r="2.2" fill="#555555" stroke="#00000022" stroke-width="0.3" />
<circle cx="400.5" cy="54.1" r="2.2" fill="#3a3a3a" stroke="#00000022" stroke-width="0.3" />
<circle cx="401.8" cy="53.0" r="2.2" fill="#2e2e2e" stroke="#00000022" stroke-width="0.3" />
<circle cx="402.5" cy="55.6" r="2.2" fill="#555555" stroke="#00000022" stroke-width="0.3" />
<circle cx="398.9" cy="50.9" r="2.2" fill="#3a3a3a" stroke="#00000022" stroke-width="0.3" />
<circle cx="415.5" cy="51.8" r="2.2" fill="#555555" stroke="#00000022" stroke-width="0.3" />
<circle cx="416.4" cy="57.2" r="2.2" fill="#3a3a3a" stroke="#00000022" stroke-width="0.3" />
<circle cx="412.1" cy="54.2" r="2.2" fill="#555555" stroke="#00000022" stroke-width="0.3" />
<circle cx="414.4" cy="54.7" r="2.2" fill="#3a3a3a" stroke="#00000022" stroke-width="0.3" />
<circle cx="414.9" cy="54.7" r="2.2" fill="#555555" stroke="#00000022" stroke-width="0.3" />
<circle cx="416.5" cy="51.2" r="2.2" fill="#2e2e2e" stroke="#00000022" stroke-width="0.3" />
<circle cx="414.4" cy="54.5" r="2.2" fill="#4a4a4a" stroke="#00000022" stroke-width="0.3" />
<circle cx="416.9" cy="56.6" r="2.2" fill="#3a3a3a" stroke="#00000022" stroke-width="0.3" />
<circle cx="410.9" cy="53.5" r="2.2" fill="#4a4a4a" stroke="#00000022" stroke-width="0.3" />
<circle cx="408.4" cy="47.2" r="2.2" fill="#4a4a4a" stroke="#00000022" stroke-width="0.3" />
<circle cx="406.7" cy="46.6" r="2.2" fill="#555555" stroke="#00000022" stroke-width="0.3" />
<circle cx="407.9" cy="50.6" r="2.2" fill="#2e2e2e" stroke="#00000022" stroke-width="0.3" />
<circle cx="404.1" cy="46.7" r="2.2" fill="#555555" stroke="#00000022" stroke-width="0.3" />
<circle cx="403.8" cy="48.1" r="2.2" fill="#555555" stroke="#00000022" stroke-width="0.3" />
<circle cx="410.2" cy="44.7" r="2.2" fill="#555555" stroke="#00000022" stroke-width="0.3" />
<circle cx="406.7" cy="45.1" r="2.2" fill="#555555" stroke="#00000022" stroke-width="0.3" />
<circle cx="408.8" cy="49.5" r="2.2" fill="#4a4a4a" stroke="#00000022" stroke-width="0.3" />
<circle cx="409.0" cy="49.9" r="2.2" fill="#555555" stroke="#00000022" stroke-width="0.3" />
<circle cx="410.3" cy="35.5" r="2.2" fill="#555555" stroke="#00000022" stroke-width="0.3" />
<circle cx="405.3" cy="34.7" r="2.2" fill="#4a4a4a" stroke="#00000022" stroke-width="0.3" />
<circle cx="408.3" cy="37.4" r="2.2" fill="#2e2e2e" stroke="#00000022" stroke-width="0.3" />
<circle cx="411.7" cy="35.2" r="2.2" fill="#2e2e2e" stroke="#00000022" stroke-width="0.3" />
<circle cx="406.7" cy="33.4" r="2.2" fill="#2e2e2e" stroke="#00000022" stroke-width="0.3" />
<circle cx="409.4" cy="35.8" r="2.2" fill="#2e2e2e" stroke="#00000022" stroke-width="0.3" />
<circle cx="406.8" cy="36.8" r="2.2" fill="#4a4a4a" stroke="#00000022" stroke-width="0.3" />
<circle cx="407.5" cy="36.2" r="2.2" fill="#555555" stroke="#00000022" stroke-width="0.3" />
<circle cx="408.5" cy="36.0" r="2.2" fill="#555555" stroke="#00000022" stroke-width="0.3" />
<circle cx="396.1" cy="46.8" r="2.2" fill="#3a3a3a" stroke="#00000022" stroke-width="0.3" />
<circle cx="393.4" cy="48.0" r="2.2" fill="#555555" stroke="#00000022" stroke-width="0.3" />
<circle cx="397.2" cy="44.0" r="2.2" fill="#3a3a3a" stroke="#00000022" stroke-width="0.3" />
<circle cx="395.5" cy="47.8" r="2.2" fill="#4a4a4a" stroke="#00000022" stroke-width="0.3" />
<circle cx="394.5" cy="45.0" r="2.2" fill="#3a3a3a" stroke="#00000022" stroke-width="0.3" />
<circle cx="399.9" cy="46.7" r="2.2" fill="#4a4a4a" stroke="#00000022" stroke-width="0.3" />
<circle cx="398.9" cy="45.5" r="2.2" fill="#4a4a4a" stroke="#00000022" stroke-width="0.3" />
<circle cx="397.5" cy="50.3" r="2.2" fill="#3a3a3a" stroke="#00000022" stroke-width="0.3" />
<circle cx="397.3" cy="47.0" r="2.2" fill="#3a3a3a" stroke="#00000022" stroke-width="0.3" />
<circle cx="419.7" cy="49.2" r="2.2" fill="#3a3a3a" stroke="#00000022" stroke-width="0.3" />
<circle cx="421.2" cy="48.3" r="2.2" fill="#2e2e2e" stroke="#00000022" stroke-width="0.3" />
<circle cx="422.3" cy="48.0" r="2.2" fill="#2e2e2e" stroke="#00000022" stroke-width="0.3" />
<circle cx="421.8" cy="47.7" r="2.2" fill="#555555" stroke="#00000022" stroke-width="0.3" />
<circle cx="420.2" cy="47.8" r="2.2" fill="#555555" stroke="#00000022" stroke-width="0.3" />
<circle cx="418.6" cy="49.0" r="2.2" fill="#3a3a3a" stroke="#00000022" stroke-width="0.3" />
<circle cx="420.6" cy="47.4" r="2.2" fill="#555555" stroke="#00000022" stroke-width="0.3" />
<circle cx="423.2" cy="50.0" r="2.2" fill="#2e2e2e" stroke="#00000022" stroke-width="0.3" />
<circle cx="423.6" cy="49.9" r="2.2" fill="#2e2e2e" stroke="#00000022" stroke-width="0.3" />
<circle cx="407.7" cy="58.2" r="2.2" fill="#555555" stroke="#00000022" stroke-width="0.3" />
<circle cx="407.6" cy="62.3" r="2.2" fill="#2e2e2e" stroke="#00000022" stroke-width="0.3" />
<circle cx="411.5" cy="62.1" r="2.2" fill="#2e2e2e" stroke="#00000022" stroke-width="0.3" />
<circle cx="407.4" cy="57.6" r="2.2" fill="#3a3a3a" stroke="#00000022" stroke-width="0.3" />
<circle cx="407.3" cy="57.7" r="2.2" fill="#3a3a3a" stroke="#00000022" stroke-width="0.3" />
<circle cx="407.8" cy="56.8" r="2.2" fill="#4a4a4a" stroke="#00000022" stroke-width="0.3" />
<circle cx="406.5" cy="57.2" r="2.2" fill="#4a4a4a" stroke="#00000022" stroke-width="0.3" />
<circle cx="410.0" cy="63.0" r="2.2" fill="#555555" stroke="#00000022" stroke-width="0.3" />
<circle cx="411.2" cy="62.3" r="2.2" fill="#4a4a4a" stroke="#00000022" stroke-width="0.3" />
<g transform="translate(441.3,0)"><path d="M0,80 C0.6,90 -0.6,98 0,105.5" fill="none" stroke="#e4aaa6" stroke-width="1.4"/><path d="M-6.5,50 L-13.5,45.8 M6.5,50 L13.5,45.8" stroke="#d6cac0" stroke-width="3.4" stroke-linecap="round"/><path d="M-6.5,50 L-13.5,45.8 M6.5,50 L13.5,45.8" stroke="#ebe7e3" stroke-width="2.4" stroke-linecap="round"/><circle cx="-15" cy="45.2" r="1.5" fill="#eab0aa"/><circle cx="15" cy="45.2" r="1.5" fill="#eab0aa"/><path d="M-8.5,74 L-12.5,80.5 L-17,83.5 M8.5,74 L12.5,80.5 L17,83.5" fill="none" stroke="#eab0aa" stroke-width="1.7" stroke-linecap="round" stroke-linejoin="round"/><path d="M0,33.4 C2.2,33.4 4.2,36.5 4.8,39.5 C5.2,41.5 5,43.5 4.2,45 C6,46 7.5,47.5 8,49.5 C8.5,53 8.5,57 9,60 C10,64 11,68 10.8,72 C10.5,76 7,79.5 3,80.5 L0,81.5 L-3,80.5 C-7,79.5 -10.5,76 -10.8,72 C-11,68 -10,64 -9,60 C-8.5,57 -8.5,53 -8,49.5 C-7.5,47.5 -6,46 -4.2,45 C-5,43.5 -5.2,41.5 -4.8,39.5 C-4.2,36.5 -2.2,33.4 0,33.4 Z" fill="#ebe7e3" stroke="#cfc2b7" stroke-width="0.6"/><path d="M-9.5,66 C-7,70 -6,74 -8,77 M9.5,66 C7,70 6,74 8,77" fill="none" stroke="#d8ccc2" stroke-width="0.5"/><circle cx="-6" cy="42.2" r="2" fill="#eab4ae" stroke="#d9a09a" stroke-width="0.3"/><circle cx="6" cy="42.2" r="2" fill="#eab4ae" stroke="#d9a09a" stroke-width="0.3"/><circle cx="-8" cy="72" r="2.8" fill="#d8f0d0"/></g>
<path d="M503.4,63.0 L520.4,57.0 L533.7,77.0 L529.7,79.0 Z" fill="url(#cone)" stroke="none" stroke-width="1" />
<circle cx="505.4" cy="48.6" r="17.5" fill="#fff" stroke="#444" stroke-width="0.9" />
<circle cx="500.8" cy="40.3" r="2.2" fill="#555555" stroke="#00000022" stroke-width="0.3" />
<circle cx="495.8" cy="40.7" r="2.2" fill="#555555" stroke="#00000022" stroke-width="0.3" />
<circle cx="495.1" cy="42.0" r="2.2" fill="#3a3a3a" stroke="#00000022" stroke-width="0.3" />
<circle cx="499.0" cy="42.1" r="2.2" fill="#555555" stroke="#00000022" stroke-width="0.3" />
<circle cx="497.7" cy="42.5" r="2.2" fill="#555555" stroke="#00000022" stroke-width="0.3" />
<circle cx="498.9" cy="41.8" r="2.2" fill="#555555" stroke="#00000022" stroke-width="0.3" />
<circle cx="497.4" cy="41.6" r="2.2" fill="#2e2e2e" stroke="#00000022" stroke-width="0.3" />
<circle cx="501.2" cy="38.8" r="2.2" fill="#555555" stroke="#00000022" stroke-width="0.3" />
<circle cx="495.3" cy="40.8" r="2.2" fill="#2e2e2e" stroke="#00000022" stroke-width="0.3" />
<circle cx="507.2" cy="41.2" r="2.2" fill="#4a4a4a" stroke="#00000022" stroke-width="0.3" />
<circle cx="511.3" cy="41.5" r="2.2" fill="#3a3a3a" stroke="#00000022" stroke-width="0.3" />
<circle cx="507.9" cy="39.6" r="2.2" fill="#3a3a3a" stroke="#00000022" stroke-width="0.3" />
<circle cx="511.7" cy="41.8" r="2.2" fill="#555555" stroke="#00000022" stroke-width="0.3" />
<circle cx="510.6" cy="39.7" r="2.2" fill="#4a4a4a" stroke="#00000022" stroke-width="0.3" />
<circle cx="510.9" cy="40.8" r="2.2" fill="#555555" stroke="#00000022" stroke-width="0.3" />
<circle cx="512.1" cy="38.9" r="2.2" fill="#4a4a4a" stroke="#00000022" stroke-width="0.3" />
<circle cx="510.6" cy="40.7" r="2.2" fill="#2e2e2e" stroke="#00000022" stroke-width="0.3" />
<circle cx="510.6" cy="42.0" r="2.2" fill="#555555" stroke="#00000022" stroke-width="0.3" />
<circle cx="500.5" cy="51.1" r="2.2" fill="#555555" stroke="#00000022" stroke-width="0.3" />
<circle cx="495.9" cy="57.1" r="2.2" fill="#2e2e2e" stroke="#00000022" stroke-width="0.3" />
<circle cx="494.7" cy="50.5" r="2.2" fill="#2e2e2e" stroke="#00000022" stroke-width="0.3" />
<circle cx="499.6" cy="51.9" r="2.2" fill="#3a3a3a" stroke="#00000022" stroke-width="0.3" />
<circle cx="494.9" cy="51.8" r="2.2" fill="#3a3a3a" stroke="#00000022" stroke-width="0.3" />
<circle cx="499.9" cy="55.6" r="2.2" fill="#4a4a4a" stroke="#00000022" stroke-width="0.3" />
<circle cx="495.2" cy="53.7" r="2.2" fill="#555555" stroke="#00000022" stroke-width="0.3" />
<circle cx="498.4" cy="56.7" r="2.2" fill="#4a4a4a" stroke="#00000022" stroke-width="0.3" />
<circle cx="499.4" cy="54.1" r="2.2" fill="#555555" stroke="#00000022" stroke-width="0.3" />
<circle cx="512.3" cy="55.4" r="2.2" fill="#4a4a4a" stroke="#00000022" stroke-width="0.3" />
<circle cx="513.6" cy="57.1" r="2.2" fill="#3a3a3a" stroke="#00000022" stroke-width="0.3" />
<circle cx="514.0" cy="55.0" r="2.2" fill="#3a3a3a" stroke="#00000022" stroke-width="0.3" />
<circle cx="511.3" cy="54.6" r="2.2" fill="#2e2e2e" stroke="#00000022" stroke-width="0.3" />
<circle cx="509.8" cy="57.9" r="2.2" fill="#4a4a4a" stroke="#00000022" stroke-width="0.3" />
<circle cx="514.5" cy="56.3" r="2.2" fill="#3a3a3a" stroke="#00000022" stroke-width="0.3" />
<circle cx="510.7" cy="51.6" r="2.2" fill="#2e2e2e" stroke="#00000022" stroke-width="0.3" />
<circle cx="512.3" cy="54.6" r="2.2" fill="#3a3a3a" stroke="#00000022" stroke-width="0.3" />
<circle cx="512.6" cy="53.2" r="2.2" fill="#4a4a4a" stroke="#00000022" stroke-width="0.3" />
<circle cx="504.4" cy="48.1" r="2.2" fill="#3a3a3a" stroke="#00000022" stroke-width="0.3" />
<circle cx="501.9" cy="50.0" r="2.2" fill="#4a4a4a" stroke="#00000022" stroke-width="0.3" />
<circle cx="503.4" cy="49.4" r="2.2" fill="#3a3a3a" stroke="#00000022" stroke-width="0.3" />
<circle cx="503.2" cy="47.7" r="2.2" fill="#555555" stroke="#00000022" stroke-width="0.3" />
<circle cx="504.2" cy="49.9" r="2.2" fill="#555555" stroke="#00000022" stroke-width="0.3" />
<circle cx="503.1" cy="48.8" r="2.2" fill="#3a3a3a" stroke="#00000022" stroke-width="0.3" />
<circle cx="504.6" cy="46.6" r="2.2" fill="#2e2e2e" stroke="#00000022" stroke-width="0.3" />
<circle cx="503.5" cy="48.6" r="2.2" fill="#555555" stroke="#00000022" stroke-width="0.3" />
<circle cx="504.9" cy="48.1" r="2.2" fill="#4a4a4a" stroke="#00000022" stroke-width="0.3" />
<circle cx="505.3" cy="38.2" r="2.2" fill="#555555" stroke="#00000022" stroke-width="0.3" />
<circle cx="504.7" cy="36.5" r="2.2" fill="#3a3a3a" stroke="#00000022" stroke-width="0.3" />
<circle cx="506.2" cy="38.1" r="2.2" fill="#4a4a4a" stroke="#00000022" stroke-width="0.3" />
<circle cx="505.0" cy="36.2" r="2.2" fill="#4a4a4a" stroke="#00000022" stroke-width="0.3" />
<circle cx="504.7" cy="36.9" r="2.2" fill="#3a3a3a" stroke="#00000022" stroke-width="0.3" />
<circle cx="504.3" cy="37.4" r="2.2" fill="#3a3a3a" stroke="#00000022" stroke-width="0.3" />
<circle cx="505.3" cy="36.4" r="2.2" fill="#555555" stroke="#00000022" stroke-width="0.3" />
<circle cx="507.4" cy="37.1" r="2.2" fill="#4a4a4a" stroke="#00000022" stroke-width="0.3" />
<circle cx="505.5" cy="38.2" r="2.2" fill="#4a4a4a" stroke="#00000022" stroke-width="0.3" />
<circle cx="494.7" cy="49.8" r="2.2" fill="#2e2e2e" stroke="#00000022" stroke-width="0.3" />
<circle cx="495.5" cy="46.3" r="2.2" fill="#2e2e2e" stroke="#00000022" stroke-width="0.3" />
<circle cx="492.9" cy="50.9" r="2.2" fill="#555555" stroke="#00000022" stroke-width="0.3" />
<circle cx="494.4" cy="43.7" r="2.2" fill="#555555" stroke="#00000022" stroke-width="0.3" />
<circle cx="493.4" cy="48.7" r="2.2" fill="#2e2e2e" stroke="#00000022" stroke-width="0.3" />
<circle cx="492.4" cy="46.6" r="2.2" fill="#3a3a3a" stroke="#00000022" stroke-width="0.3" />
<circle cx="495.1" cy="48.2" r="2.2" fill="#3a3a3a" stroke="#00000022" stroke-width="0.3" />
<circle cx="493.4" cy="47.6" r="2.2" fill="#3a3a3a" stroke="#00000022" stroke-width="0.3" />
<circle cx="493.4" cy="47.5" r="2.2" fill="#3a3a3a" stroke="#00000022" stroke-width="0.3" />
<circle cx="516.6" cy="47.7" r="2.2" fill="#2e2e2e" stroke="#00000022" stroke-width="0.3" />
<circle cx="518.6" cy="51.5" r="2.2" fill="#555555" stroke="#00000022" stroke-width="0.3" />
<circle cx="516.3" cy="49.3" r="2.2" fill="#2e2e2e" stroke="#00000022" stroke-width="0.3" />
<circle cx="517.5" cy="47.5" r="2.2" fill="#2e2e2e" stroke="#00000022" stroke-width="0.3" />
<circle cx="517.4" cy="44.9" r="2.2" fill="#555555" stroke="#00000022" stroke-width="0.3" />
<circle cx="518.4" cy="48.2" r="2.2" fill="#555555" stroke="#00000022" stroke-width="0.3" />
<circle cx="518.6" cy="48.7" r="2.2" fill="#2e2e2e" stroke="#00000022" stroke-width="0.3" />
<circle cx="514.2" cy="46.9" r="2.2" fill="#555555" stroke="#00000022" stroke-width="0.3" />
<circle cx="518.8" cy="50.4" r="2.2" fill="#555555" stroke="#00000022" stroke-width="0.3" />
<circle cx="506.6" cy="57.6" r="2.2" fill="#4a4a4a" stroke="#00000022" stroke-width="0.3" />
<circle cx="504.3" cy="60.9" r="2.2" fill="#4a4a4a" stroke="#00000022" stroke-width="0.3" />
<circle cx="502.6" cy="60.6" r="2.2" fill="#2e2e2e" stroke="#00000022" stroke-width="0.3" />
<circle cx="505.3" cy="60.3" r="2.2" fill="#555555" stroke="#00000022" stroke-width="0.3" />
<circle cx="505.6" cy="59.5" r="2.2" fill="#4a4a4a" stroke="#00000022" stroke-width="0.3" />
<circle cx="505.4" cy="59.5" r="2.2" fill="#555555" stroke="#00000022" stroke-width="0.3" />
<circle cx="507.8" cy="61.2" r="2.2" fill="#3a3a3a" stroke="#00000022" stroke-width="0.3" />
<circle cx="504.3" cy="61.9" r="2.2" fill="#3a3a3a" stroke="#00000022" stroke-width="0.3" />
<circle cx="508.0" cy="57.1" r="2.2" fill="#555555" stroke="#00000022" stroke-width="0.3" />
<g transform="translate(538.7,0)"><path d="M0,80 C0.6,90 -0.6,98 0,105.5" fill="none" stroke="#e4aaa6" stroke-width="1.4"/><path d="M-6.5,50 L-13.5,45.8 M6.5,50 L13.5,45.8" stroke="#d6cac0" stroke-width="3.4" stroke-linecap="round"/><path d="M-6.5,50 L-13.5,45.8 M6.5,50 L13.5,45.8" stroke="#ebe7e3" stroke-width="2.4" stroke-linecap="round"/><circle cx="-15" cy="45.2" r="1.5" fill="#eab0aa"/><circle cx="15" cy="45.2" r="1.5" fill="#eab0aa"/><path d="M-8.5,74 L-12.5,80.5 L-17,83.5 M8.5,74 L12.5,80.5 L17,83.5" fill="none" stroke="#eab0aa" stroke-width="1.7" stroke-linecap="round" stroke-linejoin="round"/><path d="M0,33.4 C2.2,33.4 4.2,36.5 4.8,39.5 C5.2,41.5 5,43.5 4.2,45 C6,46 7.5,47.5 8,49.5 C8.5,53 8.5,57 9,60 C10,64 11,68 10.8,72 C10.5,76 7,79.5 3,80.5 L0,81.5 L-3,80.5 C-7,79.5 -10.5,76 -10.8,72 C-11,68 -10,64 -9,60 C-8.5,57 -8.5,53 -8,49.5 C-7.5,47.5 -6,46 -4.2,45 C-5,43.5 -5.2,41.5 -4.8,39.5 C-4.2,36.5 -2.2,33.4 0,33.4 Z" fill="#ebe7e3" stroke="#cfc2b7" stroke-width="0.6"/><path d="M-9.5,66 C-7,70 -6,74 -8,77 M9.5,66 C7,70 6,74 8,77" fill="none" stroke="#d8ccc2" stroke-width="0.5"/><circle cx="-6" cy="42.2" r="2" fill="#eab4ae" stroke="#d9a09a" stroke-width="0.3"/><circle cx="6" cy="42.2" r="2" fill="#eab4ae" stroke="#d9a09a" stroke-width="0.3"/><circle cx="-8" cy="72" r="2.8" fill="#d8f0d0"/></g>
<path d="M1,114 C1,109 3,106.6 8,106.6 L292,106.6 C295,106.6 296.5,104 297,100.5 C297.5,104 299,106.6 302,106.6 L586,106.6 C590,106.6 592,109 592,114" fill="none" stroke="#222" stroke-width="1.1" />
<line x1="0.0" y1="150.2" x2="264.0" y2="150.2" stroke="#222" stroke-width="1.1" />
<line x1="264.0" y1="146.5" x2="264.0" y2="154.0" stroke="#222" stroke-width="1.1" />
<line x1="289.0" y1="150.2" x2="591.0" y2="150.2" stroke="#222" stroke-width="1.1" />
<text x="284.0" y="153.5" font-size="10" text-anchor="middle" fill="#111" font-style="italic" font-weight="bold">//</text>
<line x1="55.7" y1="106.6" x2="55.7" y2="146.0" stroke="#222" stroke-width="1.1" />
<path d="M52.7,143.5 L58.7,143.5 L55.7,150 Z" fill="#222" stroke="none" stroke-width="1" />
<line x1="125.7" y1="106.6" x2="125.7" y2="146.0" stroke="#222" stroke-width="1.1" />
<path d="M122.7,143.5 L128.7,143.5 L125.7,150 Z" fill="#222" stroke="none" stroke-width="1" />
<line x1="200.9" y1="106.6" x2="200.9" y2="146.0" stroke="#222" stroke-width="1.1" />
<path d="M197.9,143.5 L203.9,143.5 L200.9,150 Z" fill="#222" stroke="none" stroke-width="1" />
<line x1="332.9" y1="124.5" x2="332.9" y2="146.0" stroke="#222" stroke-width="1.1" />
<path d="M329.9,143.5 L335.9,143.5 L332.9,150 Z" fill="#222" stroke="none" stroke-width="1" />
<line x1="401.5" y1="124.5" x2="401.5" y2="146.0" stroke="#222" stroke-width="1.1" />
<path d="M398.5,143.5 L404.5,143.5 L401.5,150 Z" fill="#222" stroke="none" stroke-width="1" />
<line x1="469.3" y1="106.6" x2="469.3" y2="146.0" stroke="#222" stroke-width="1.1" />
<path d="M466.3,143.5 L472.3,143.5 L469.3,150 Z" fill="#222" stroke="none" stroke-width="1" />
<line x1="537.4" y1="106.6" x2="537.4" y2="146.0" stroke="#222" stroke-width="1.1" />
<path d="M534.4,143.5 L540.4,143.5 L537.4,150 Z" fill="#222" stroke="none" stroke-width="1" />
<circle cx="332.9" cy="124.5" r="2.9" fill="#111" stroke="none" stroke-width="1" />
<path d="M328.9,131.7 L336.9,131.7 L332.9,139.3 Z" fill="#3a86cc" stroke="none" stroke-width="1" />
<circle cx="401.5" cy="124.5" r="2.9" fill="#111" stroke="none" stroke-width="1" />
<path d="M397.5,131.7 L405.5,131.7 L401.5,139.3 Z" fill="#3a86cc" stroke="none" stroke-width="1" />
<circle cx="469.3" cy="114.9" r="2.9" fill="#111" stroke="none" stroke-width="1" />
<path d="M469.3,120.7 L468.3,122.7 L466.0,122.6 L467.2,124.5 L466.0,126.4 L468.3,126.3 L469.3,128.3 L470.3,126.3 L472.6,126.4 L471.4,124.5 L472.6,122.6 L470.3,122.7 Z" fill="#f2a93b" stroke="none" stroke-width="1" />
<path d="M465.3,131.7 L473.3,131.7 L469.3,139.3 Z" fill="#3a86cc" stroke="none" stroke-width="1" />
<circle cx="537.4" cy="114.9" r="2.9" fill="#111" stroke="none" stroke-width="1" />
<path d="M537.4,120.7 L536.4,122.7 L534.1,122.6 L535.3,124.5 L534.1,126.4 L536.4,126.3 L537.4,128.3 L538.4,126.3 L540.7,126.4 L539.5,124.5 L540.7,122.6 L538.4,122.7 Z" fill="#f2a93b" stroke="none" stroke-width="1" />
<path d="M533.4,131.7 L541.4,131.7 L537.4,139.3 Z" fill="#3a86cc" stroke="none" stroke-width="1" />
<text x="55.7" y="163.0" font-size="10.6" text-anchor="middle" fill="#111" >-21 days</text>
<text x="125.7" y="163.0" font-size="10.6" text-anchor="middle" fill="#111" >-20 days</text>
<text x="200.9" y="163.0" font-size="10.6" text-anchor="middle" fill="#111" >-7 days</text>
<text x="332.9" y="163.0" font-size="10.6" text-anchor="middle" fill="#111" >0 day</text>
<text x="401.5" y="163.0" font-size="10.6" text-anchor="middle" fill="#111" >7 days</text>
<text x="469.3" y="163.0" font-size="10.6" text-anchor="middle" fill="#111" >14 days</text>
<text x="537.4" y="163.0" font-size="10.6" text-anchor="middle" fill="#111" >21 days</text>
<text x="8.0" y="174.2" font-size="10.6" text-anchor="start" fill="#111" >MRSA-infected</text>
<text x="8.0" y="185.6" font-size="10.6" text-anchor="start" fill="#111" >osteomyelitis</text>
<text x="89.5" y="174.2" font-size="10.6" text-anchor="start" fill="#111" ><tspan font-style="italic">In situ</tspan> hydrogel</text>
<text x="89.5" y="185.6" font-size="10.6" text-anchor="start" fill="#111" >injection</text>
<text x="163.0" y="174.2" font-size="10.6" text-anchor="start" fill="#111" >Debridement surgery</text>
<text x="163.0" y="185.6" font-size="10.6" text-anchor="start" fill="#111" >and antibiotic rinses</text>
<text x="268.4" y="174.2" font-size="10.3" text-anchor="start" fill="#111" >Reinfection with MRSA(A0068</text>
<text x="268.4" y="185.6" font-size="10.3" text-anchor="start" fill="#111" >and RJ0089) and <tspan font-style="italic">S. aureus</tspan></text>
<text x="469.3" y="181.0" font-size="10.6" text-anchor="middle" fill="#111" >Sacrifice</text>
<text x="537.4" y="181.0" font-size="10.6" text-anchor="middle" fill="#111" >Sacrifice</text>
<path d="M39.6,190 L47.3,190 L43.45,197 Z" fill="#3a86cc" stroke="none" stroke-width="1" />
<text x="51.0" y="197.8" font-size="10.6" text-anchor="start" fill="#111" >Functional trained immunity validation</text>
<path d="M274.5,190.0 L273.3,192.2 L270.9,192.1 L272.2,194.2 L270.9,196.3 L273.3,196.2 L274.5,198.4 L275.7,196.2 L278.1,196.3 L276.8,194.2 L278.1,192.1 L275.7,192.2 Z" fill="#f2a93b" stroke="none" stroke-width="1" />
<text x="282.0" y="197.8" font-size="10.6" text-anchor="start" fill="#111" >Pathohistological analysis</text>
<circle cx="446.8" cy="194.6" r="3.1" fill="#111" stroke="none" stroke-width="1" />
<text x="452.5" y="197.8" font-size="10.6" text-anchor="start" fill="#111" >Bacteriological analysis</text>
<text x="1.0" y="219.7" font-size="19.5" text-anchor="start" fill="#000" >B</text>
<text x="49.2" y="224.7" font-size="10.2" text-anchor="middle" fill="#111" >PBS</text>
<text x="114.7" y="224.7" font-size="10.2" text-anchor="middle" fill="#111" >Van</text>
<text x="179.9" y="224.7" font-size="10.2" text-anchor="middle" fill="#111" >Ga<tspan font-size="62%" dy="2">Van</tspan></text>
<text x="251.4" y="224.7" font-size="10.2" text-anchor="middle" fill="#111" >GaCu<tspan font-size="62%" dy="2">Van</tspan></text>
<text x="311.7" y="214.3" font-size="10.2" text-anchor="middle" fill="#111" >GaCu<tspan font-size="62%" dy="2">Van</tspan><tspan dy="-2">&amp;</tspan></text>
<text x="311.7" y="224.7" font-size="10.2" text-anchor="middle" fill="#111" >HA<tspan font-size="62%" dy="2">CHO</tspan><tspan dy="-2">-BSA</tspan></text>
<text x="0.0" y="0.0" font-size="10.4" text-anchor="middle" fill="#111" transform="translate(11.3,253.5) rotate(-90)">1 day</text>
<text x="0.0" y="0.0" font-size="10.4" text-anchor="middle" fill="#111" transform="translate(11.3,303.3) rotate(-90)">3 days</text>
<text x="0.0" y="0.0" font-size="10.4" text-anchor="middle" fill="#111" transform="translate(11.3,353.1) rotate(-90)">7 days</text>
<rect x="13.7" y="229.6" width="32.6" height="48.3" fill="#2e2e2e" />
<path d="M16.2,277.9 C15.7,263.6 16.7,247.6 19.2,238.6 C20.2,232.6 23.2,229.6 28.7,229.6 C34.2,229.6 37.2,232.6 39.2,238.6 C41.7,249.6 42.2,265.6 42.7,277.9 Z" fill="url(#mbody)" stroke="none" stroke-width="1" />
<rect x="13.7" y="229.6" width="32.6" height="48.3" fill="#fff" filter="url(#fB_fur)" opacity="0.22" style="mix-blend-mode:multiply"/>
<rect x="14.3" y="255.9" width="11.4" height="18.2" fill="none" stroke="#e82020" stroke-width="0.9" stroke-dasharray="2,1.3"/>
<line x1="25.7" y1="255.9" x2="46.3" y2="229.6" stroke="#e82020" stroke-width="0.9" stroke-dasharray="2,1.3"/>
<line x1="14.3" y1="274.4" x2="46.3" y2="277.9" stroke="#e82020" stroke-width="0.9" stroke-dasharray="2,1.3"/>
<circle cx="18.7" cy="266.6" r="1.0" fill="#30b0a0" stroke="#3040d0" stroke-width="0.6"/>
<rect x="15.2" y="274.7" width="9.0" height="2.2" fill="#ffffff" />
<rect x="47.2" y="229.6" width="32.3" height="48.3" fill="#2f2f2f" />
<path d="M59.2,229.6 C53.2,239.6 50.2,249.6 52.2,256.6 C55.2,262.6 62.2,265.6 65.2,269.6 C67.2,272.6 67.2,275.6 67.2,277.9 L79.5,277.9 L79.5,229.6 Z" fill="url(#mleg)" stroke="none" stroke-width="1" />
<path d="M48.7,277.9 C51.2,271.6 55.2,266.6 60.2,265.6 C63.2,267.6 61.2,273.6 59.2,277.9 Z" fill="#b8b8b8" stroke="none" stroke-width="1" />
<rect x="47.2" y="229.6" width="32.3" height="48.3" fill="#fff" filter="url(#fB_fur)" opacity="0.2" style="mix-blend-mode:multiply"/>
<ellipse cx="62.3" cy="254.6" rx="3.06" ry="3.40" fill="url(#spot)"/>
<rect x="80.0" y="229.6" width="32.6" height="48.3" fill="#2e2e2e" />
<path d="M82.55,277.9 C82.05,263.6 83.05,247.6 85.55,238.6 C86.55,232.6 89.55,229.6 95.05,229.6 C100.55,229.6 103.55,232.6 105.55,238.6 C108.05,249.6 108.55,265.6 109.05,277.9 Z" fill="url(#mbody)" stroke="none" stroke-width="1" />
<rect x="80.0" y="229.6" width="32.6" height="48.3" fill="#fff" filter="url(#fB_fur)" opacity="0.22" style="mix-blend-mode:multiply"/>
<rect x="80.6" y="255.9" width="11.4" height="18.2" fill="none" stroke="#e82020" stroke-width="0.9" stroke-dasharray="2,1.3"/>
<line x1="92.0" y1="255.9" x2="112.7" y2="229.6" stroke="#e82020" stroke-width="0.9" stroke-dasharray="2,1.3"/>
<line x1="80.6" y1="274.4" x2="112.7" y2="277.9" stroke="#e82020" stroke-width="0.9" stroke-dasharray="2,1.3"/>
<circle cx="85.0" cy="266.6" r="1.0" fill="#30b0a0" stroke="#3040d0" stroke-width="0.6"/>
<rect x="113.5" y="229.6" width="32.3" height="48.3" fill="#2f2f2f" />
<path d="M125.55,229.6 C119.55,239.6 116.55,249.6 118.55,256.6 C121.55,262.6 128.55,265.6 131.55,269.6 C133.55,272.6 133.55,275.6 133.55,277.9 L145.85,277.9 L145.85,229.6 Z" fill="url(#mleg)" stroke="none" stroke-width="1" />
<path d="M115.05,277.9 C117.55,271.6 121.55,266.6 126.55,265.6 C129.55,267.6 127.55,273.6 125.55,277.9 Z" fill="#b8b8b8" stroke="none" stroke-width="1" />
<rect x="113.5" y="229.6" width="32.3" height="48.3" fill="#fff" filter="url(#fB_fur)" opacity="0.2" style="mix-blend-mode:multiply"/>
<ellipse cx="126.8" cy="253.4" rx="2.72" ry="4.25" fill="url(#spot)"/>
<rect x="146.4" y="229.6" width="32.6" height="48.3" fill="#2e2e2e" />
<path d="M148.89999999999998,277.9 C148.39999999999998,263.6 149.39999999999998,247.6 151.89999999999998,238.6 C152.89999999999998,232.6 155.89999999999998,229.6 161.39999999999998,229.6 C166.89999999999998,229.6 169.89999999999998,232.6 171.89999999999998,238.6 C174.39999999999998,249.6 174.89999999999998,265.6 175.39999999999998,277.9 Z" fill="url(#mbody)" stroke="none" stroke-width="1" />
<rect x="146.4" y="229.6" width="32.6" height="48.3" fill="#fff" filter="url(#fB_fur)" opacity="0.22" style="mix-blend-mode:multiply"/>
<rect x="147.0" y="255.9" width="11.4" height="18.2" fill="none" stroke="#e82020" stroke-width="0.9" stroke-dasharray="2,1.3"/>
<line x1="158.4" y1="255.9" x2="179.0" y2="229.6" stroke="#e82020" stroke-width="0.9" stroke-dasharray="2,1.3"/>
<line x1="147.0" y1="274.4" x2="179.0" y2="277.9" stroke="#e82020" stroke-width="0.9" stroke-dasharray="2,1.3"/>
<circle cx="151.4" cy="266.6" r="1.0" fill="#30b0a0" stroke="#3040d0" stroke-width="0.6"/>
<rect x="179.9" y="229.6" width="32.3" height="48.3" fill="#2f2f2f" />
<path d="M191.89999999999998,229.6 C185.89999999999998,239.6 182.89999999999998,249.6 184.89999999999998,256.6 C187.89999999999998,262.6 194.89999999999998,265.6 197.89999999999998,269.6 C199.89999999999998,272.6 199.89999999999998,275.6 199.89999999999998,277.9 L212.2,277.9 L212.2,229.6 Z" fill="url(#mleg)" stroke="none" stroke-width="1" />
<path d="M181.39999999999998,277.9 C183.89999999999998,271.6 187.89999999999998,266.6 192.89999999999998,265.6 C195.89999999999998,267.6 193.89999999999998,273.6 191.89999999999998,277.9 Z" fill="#b8b8b8" stroke="none" stroke-width="1" />
<rect x="179.9" y="229.6" width="32.3" height="48.3" fill="#fff" filter="url(#fB_fur)" opacity="0.2" style="mix-blend-mode:multiply"/>
<ellipse cx="193.9" cy="254.6" rx="2.89" ry="3.40" fill="url(#spot)"/>
<rect x="212.7" y="229.6" width="32.6" height="48.3" fill="#2e2e2e" />
<path d="M215.24999999999997,277.9 C214.74999999999997,263.6 215.74999999999997,247.6 218.24999999999997,238.6 C219.24999999999997,232.6 222.24999999999997,229.6 227.74999999999997,229.6 C233.24999999999997,229.6 236.24999999999997,232.6 238.24999999999997,238.6 C240.74999999999997,249.6 241.24999999999997,265.6 241.74999999999997,277.9 Z" fill="url(#mbody)" stroke="none" stroke-width="1" />
<rect x="212.7" y="229.6" width="32.6" height="48.3" fill="#fff" filter="url(#fB_fur)" opacity="0.22" style="mix-blend-mode:multiply"/>
<rect x="213.3" y="255.9" width="11.4" height="18.2" fill="none" stroke="#e82020" stroke-width="0.9" stroke-dasharray="2,1.3"/>
<line x1="224.7" y1="255.9" x2="245.3" y2="229.6" stroke="#e82020" stroke-width="0.9" stroke-dasharray="2,1.3"/>
<line x1="213.3" y1="274.4" x2="245.3" y2="277.9" stroke="#e82020" stroke-width="0.9" stroke-dasharray="2,1.3"/>
<circle cx="217.7" cy="266.6" r="1.0" fill="#30b0a0" stroke="#3040d0" stroke-width="0.6"/>
<rect x="246.2" y="229.6" width="32.3" height="48.3" fill="#2f2f2f" />
<path d="M258.25,229.6 C252.24999999999997,239.6 249.24999999999997,249.6 251.24999999999997,256.6 C254.24999999999997,262.6 261.25,265.6 264.25,269.6 C266.25,272.6 266.25,275.6 266.25,277.9 L278.54999999999995,277.9 L278.54999999999995,229.6 Z" fill="url(#mleg)" stroke="none" stroke-width="1" />
<path d="M247.74999999999997,277.9 C250.24999999999997,271.6 254.24999999999997,266.6 259.25,265.6 C262.25,267.6 260.25,273.6 258.25,277.9 Z" fill="#b8b8b8" stroke="none" stroke-width="1" />
<rect x="246.2" y="229.6" width="32.3" height="48.3" fill="#fff" filter="url(#fB_fur)" opacity="0.2" style="mix-blend-mode:multiply"/>
<ellipse cx="260.6" cy="253.6" rx="3.40" ry="6.38" fill="url(#spot)"/>
<rect x="279.1" y="229.6" width="32.6" height="48.3" fill="#2e2e2e" />
<path d="M281.59999999999997,277.9 C281.09999999999997,263.6 282.09999999999997,247.6 284.59999999999997,238.6 C285.59999999999997,232.6 288.59999999999997,229.6 294.09999999999997,229.6 C299.59999999999997,229.6 302.59999999999997,232.6 304.59999999999997,238.6 C307.09999999999997,249.6 307.59999999999997,265.6 308.09999999999997,277.9 Z" fill="url(#mbody)" stroke="none" stroke-width="1" />
<rect x="279.1" y="229.6" width="32.6" height="48.3" fill="#fff" filter="url(#fB_fur)" opacity="0.22" style="mix-blend-mode:multiply"/>
<rect x="279.7" y="255.9" width="11.4" height="18.2" fill="none" stroke="#e82020" stroke-width="0.9" stroke-dasharray="2,1.3"/>
<line x1="291.1" y1="255.9" x2="311.7" y2="229.6" stroke="#e82020" stroke-width="0.9" stroke-dasharray="2,1.3"/>
<line x1="279.7" y1="274.4" x2="311.7" y2="277.9" stroke="#e82020" stroke-width="0.9" stroke-dasharray="2,1.3"/>
<circle cx="284.1" cy="266.6" r="1.0" fill="#30b0a0" stroke="#3040d0" stroke-width="0.6"/>
<rect x="312.6" y="229.6" width="32.3" height="48.3" fill="#2f2f2f" />
<path d="M324.59999999999997,229.6 C318.59999999999997,239.6 315.59999999999997,249.6 317.59999999999997,256.6 C320.59999999999997,262.6 327.59999999999997,265.6 330.59999999999997,269.6 C332.59999999999997,272.6 332.59999999999997,275.6 332.59999999999997,277.9 L344.9,277.9 L344.9,229.6 Z" fill="url(#mleg)" stroke="none" stroke-width="1" />
<path d="M314.09999999999997,277.9 C316.59999999999997,271.6 320.59999999999997,266.6 325.59999999999997,265.6 C328.59999999999997,267.6 326.59999999999997,273.6 324.59999999999997,277.9 Z" fill="#b8b8b8" stroke="none" stroke-width="1" />
<rect x="312.6" y="229.6" width="32.3" height="48.3" fill="#fff" filter="url(#fB_fur)" opacity="0.2" style="mix-blend-mode:multiply"/>
<ellipse cx="327.0" cy="255.6" rx="3.40" ry="4.67" fill="url(#spot)"/>
<rect x="13.7" y="279.4" width="32.6" height="48.3" fill="#2e2e2e" />
<path d="M16.2,327.7 C15.7,313.4 16.7,297.4 19.2,288.4 C20.2,282.4 23.2,279.4 28.7,279.4 C34.2,279.4 37.2,282.4 39.2,288.4 C41.7,299.4 42.2,315.4 42.7,327.7 Z" fill="url(#mbody)" stroke="none" stroke-width="1" />
<rect x="13.7" y="279.4" width="32.6" height="48.3" fill="#fff" filter="url(#fB_fur)" opacity="0.22" style="mix-blend-mode:multiply"/>
<rect x="14.3" y="305.7" width="11.4" height="18.2" fill="none" stroke="#e82020" stroke-width="0.9" stroke-dasharray="2,1.3"/>
<line x1="25.7" y1="305.7" x2="46.3" y2="279.4" stroke="#e82020" stroke-width="0.9" stroke-dasharray="2,1.3"/>
<line x1="14.3" y1="324.2" x2="46.3" y2="327.7" stroke="#e82020" stroke-width="0.9" stroke-dasharray="2,1.3"/>
<circle cx="18.7" cy="316.4" r="1.0" fill="#30b0a0" stroke="#3040d0" stroke-width="0.6"/>
<rect x="15.2" y="324.5" width="9.0" height="2.2" fill="#ffffff" />
<rect x="47.2" y="279.4" width="32.3" height="48.3" fill="#2f2f2f" />
<path d="M59.2,279.4 C53.2,289.4 50.2,299.4 52.2,306.4 C55.2,312.4 62.2,315.4 65.2,319.4 C67.2,322.4 67.2,325.4 67.2,327.7 L79.5,327.7 L79.5,279.4 Z" fill="url(#mleg)" stroke="none" stroke-width="1" />
<path d="M48.7,327.7 C51.2,321.4 55.2,316.4 60.2,315.4 C63.2,317.4 61.2,323.4 59.2,327.7 Z" fill="#b8b8b8" stroke="none" stroke-width="1" />
<rect x="47.2" y="279.4" width="32.3" height="48.3" fill="#fff" filter="url(#fB_fur)" opacity="0.2" style="mix-blend-mode:multiply"/>
<ellipse cx="63.8" cy="300.8" rx="2.72" ry="3.06" fill="url(#spot)"/>
<rect x="80.0" y="279.4" width="32.6" height="48.3" fill="#2e2e2e" />
<path d="M82.55,327.7 C82.05,313.4 83.05,297.4 85.55,288.4 C86.55,282.4 89.55,279.4 95.05,279.4 C100.55,279.4 103.55,282.4 105.55,288.4 C108.05,299.4 108.55,315.4 109.05,327.7 Z" fill="url(#mbody)" stroke="none" stroke-width="1" />
<rect x="80.0" y="279.4" width="32.6" height="48.3" fill="#fff" filter="url(#fB_fur)" opacity="0.22" style="mix-blend-mode:multiply"/>
<rect x="80.6" y="305.7" width="11.4" height="18.2" fill="none" stroke="#e82020" stroke-width="0.9" stroke-dasharray="2,1.3"/>
<line x1="92.0" y1="305.7" x2="112.7" y2="279.4" stroke="#e82020" stroke-width="0.9" stroke-dasharray="2,1.3"/>
<line x1="80.6" y1="324.2" x2="112.7" y2="327.7" stroke="#e82020" stroke-width="0.9" stroke-dasharray="2,1.3"/>
<circle cx="85.0" cy="316.4" r="1.0" fill="#30b0a0" stroke="#3040d0" stroke-width="0.6"/>
<rect x="113.5" y="279.4" width="32.3" height="48.3" fill="#2f2f2f" />
<path d="M125.55,279.4 C119.55,289.4 116.55,299.4 118.55,306.4 C121.55,312.4 128.55,315.4 131.55,319.4 C133.55,322.4 133.55,325.4 133.55,327.7 L145.85,327.7 L145.85,279.4 Z" fill="url(#mleg)" stroke="none" stroke-width="1" />
<path d="M115.05,327.7 C117.55,321.4 121.55,316.4 126.55,315.4 C129.55,317.4 127.55,323.4 125.55,327.7 Z" fill="#b8b8b8" stroke="none" stroke-width="1" />
<rect x="113.5" y="279.4" width="32.3" height="48.3" fill="#fff" filter="url(#fB_fur)" opacity="0.2" style="mix-blend-mode:multiply"/>
<ellipse cx="124.2" cy="301.9" rx="2.38" ry="3.82" fill="url(#spot)"/>
<rect x="146.4" y="279.4" width="32.6" height="48.3" fill="#2e2e2e" />
<path d="M148.89999999999998,327.7 C148.39999999999998,313.4 149.39999999999998,297.4 151.89999999999998,288.4 C152.89999999999998,282.4 155.89999999999998,279.4 161.39999999999998,279.4 C166.89999999999998,279.4 169.89999999999998,282.4 171.89999999999998,288.4 C174.39999999999998,299.4 174.89999999999998,315.4 175.39999999999998,327.7 Z" fill="url(#mbody)" stroke="none" stroke-width="1" />
<rect x="146.4" y="279.4" width="32.6" height="48.3" fill="#fff" filter="url(#fB_fur)" opacity="0.22" style="mix-blend-mode:multiply"/>
<rect x="147.0" y="305.7" width="11.4" height="18.2" fill="none" stroke="#e82020" stroke-width="0.9" stroke-dasharray="2,1.3"/>
<line x1="158.4" y1="305.7" x2="179.0" y2="279.4" stroke="#e82020" stroke-width="0.9" stroke-dasharray="2,1.3"/>
<line x1="147.0" y1="324.2" x2="179.0" y2="327.7" stroke="#e82020" stroke-width="0.9" stroke-dasharray="2,1.3"/>
<circle cx="151.4" cy="316.4" r="1.0" fill="#30b0a0" stroke="#3040d0" stroke-width="0.6"/>
<rect x="179.9" y="279.4" width="32.3" height="48.3" fill="#2f2f2f" />
<path d="M191.89999999999998,279.4 C185.89999999999998,289.4 182.89999999999998,299.4 184.89999999999998,306.4 C187.89999999999998,312.4 194.89999999999998,315.4 197.89999999999998,319.4 C199.89999999999998,322.4 199.89999999999998,325.4 199.89999999999998,327.7 L212.2,327.7 L212.2,279.4 Z" fill="url(#mleg)" stroke="none" stroke-width="1" />
<path d="M181.39999999999998,327.7 C183.89999999999998,321.4 187.89999999999998,316.4 192.89999999999998,315.4 C195.89999999999998,317.4 193.89999999999998,323.4 191.89999999999998,327.7 Z" fill="#b8b8b8" stroke="none" stroke-width="1" />
<rect x="179.9" y="279.4" width="32.3" height="48.3" fill="#fff" filter="url(#fB_fur)" opacity="0.2" style="mix-blend-mode:multiply"/>
<ellipse cx="193.9" cy="301.9" rx="3.23" ry="3.23" fill="url(#spot)"/>
<rect x="212.7" y="279.4" width="32.6" height="48.3" fill="#2e2e2e" />
<path d="M215.24999999999997,327.7 C214.74999999999997,313.4 215.74999999999997,297.4 218.24999999999997,288.4 C219.24999999999997,282.4 222.24999999999997,279.4 227.74999999999997,279.4 C233.24999999999997,279.4 236.24999999999997,282.4 238.24999999999997,288.4 C240.74999999999997,299.4 241.24999999999997,315.4 241.74999999999997,327.7 Z" fill="url(#mbody)" stroke="none" stroke-width="1" />
<rect x="212.7" y="279.4" width="32.6" height="48.3" fill="#fff" filter="url(#fB_fur)" opacity="0.22" style="mix-blend-mode:multiply"/>
<rect x="213.3" y="305.7" width="11.4" height="18.2" fill="none" stroke="#e82020" stroke-width="0.9" stroke-dasharray="2,1.3"/>
<line x1="224.7" y1="305.7" x2="245.3" y2="279.4" stroke="#e82020" stroke-width="0.9" stroke-dasharray="2,1.3"/>
<line x1="213.3" y1="324.2" x2="245.3" y2="327.7" stroke="#e82020" stroke-width="0.9" stroke-dasharray="2,1.3"/>
<circle cx="217.7" cy="316.4" r="1.0" fill="#30b0a0" stroke="#3040d0" stroke-width="0.6"/>
<rect x="246.2" y="279.4" width="32.3" height="48.3" fill="#2f2f2f" />
<path d="M258.25,279.4 C252.24999999999997,289.4 249.24999999999997,299.4 251.24999999999997,306.4 C254.24999999999997,312.4 261.25,315.4 264.25,319.4 C266.25,322.4 266.25,325.4 266.25,327.7 L278.54999999999995,327.7 L278.54999999999995,279.4 Z" fill="url(#mleg)" stroke="none" stroke-width="1" />
<path d="M247.74999999999997,327.7 C250.24999999999997,321.4 254.24999999999997,316.4 259.25,315.4 C262.25,317.4 260.25,323.4 258.25,327.7 Z" fill="#b8b8b8" stroke="none" stroke-width="1" />
<rect x="246.2" y="279.4" width="32.3" height="48.3" fill="#fff" filter="url(#fB_fur)" opacity="0.2" style="mix-blend-mode:multiply"/>
<ellipse cx="263.2" cy="305.9" rx="2.55" ry="3.23" fill="url(#spot)"/>
<rect x="279.1" y="279.4" width="32.6" height="48.3" fill="#2e2e2e" />
<path d="M281.59999999999997,327.7 C281.09999999999997,313.4 282.09999999999997,297.4 284.59999999999997,288.4 C285.59999999999997,282.4 288.59999999999997,279.4 294.09999999999997,279.4 C299.59999999999997,279.4 302.59999999999997,282.4 304.59999999999997,288.4 C307.09999999999997,299.4 307.59999999999997,315.4 308.09999999999997,327.7 Z" fill="url(#mbody)" stroke="none" stroke-width="1" />
<rect x="279.1" y="279.4" width="32.6" height="48.3" fill="#fff" filter="url(#fB_fur)" opacity="0.22" style="mix-blend-mode:multiply"/>
<rect x="279.7" y="305.7" width="11.4" height="18.2" fill="none" stroke="#e82020" stroke-width="0.9" stroke-dasharray="2,1.3"/>
<line x1="291.1" y1="305.7" x2="311.7" y2="279.4" stroke="#e82020" stroke-width="0.9" stroke-dasharray="2,1.3"/>
<line x1="279.7" y1="324.2" x2="311.7" y2="327.7" stroke="#e82020" stroke-width="0.9" stroke-dasharray="2,1.3"/>
<circle cx="284.1" cy="316.4" r="1.0" fill="#30b0a0" stroke="#3040d0" stroke-width="0.6"/>
<rect x="312.6" y="279.4" width="32.3" height="48.3" fill="#2f2f2f" />
<path d="M324.59999999999997,279.4 C318.59999999999997,289.4 315.59999999999997,299.4 317.59999999999997,306.4 C320.59999999999997,312.4 327.59999999999997,315.4 330.59999999999997,319.4 C332.59999999999997,322.4 332.59999999999997,325.4 332.59999999999997,327.7 L344.9,327.7 L344.9,279.4 Z" fill="url(#mleg)" stroke="none" stroke-width="1" />
<path d="M314.09999999999997,327.7 C316.59999999999997,321.4 320.59999999999997,316.4 325.59999999999997,315.4 C328.59999999999997,317.4 326.59999999999997,323.4 324.59999999999997,327.7 Z" fill="#b8b8b8" stroke="none" stroke-width="1" />
<rect x="312.6" y="279.4" width="32.3" height="48.3" fill="#fff" filter="url(#fB_fur)" opacity="0.2" style="mix-blend-mode:multiply"/>
<ellipse cx="326.0" cy="302.9" rx="2.21" ry="2.21" fill="url(#spot)"/>
<rect x="13.7" y="329.2" width="32.6" height="48.3" fill="#2e2e2e" />
<path d="M16.2,377.5 C15.7,363.2 16.7,347.2 19.2,338.2 C20.2,332.2 23.2,329.2 28.7,329.2 C34.2,329.2 37.2,332.2 39.2,338.2 C41.7,349.2 42.2,365.2 42.7,377.5 Z" fill="url(#mbody)" stroke="none" stroke-width="1" />
<rect x="13.7" y="329.2" width="32.6" height="48.3" fill="#fff" filter="url(#fB_fur)" opacity="0.22" style="mix-blend-mode:multiply"/>
<rect x="14.3" y="355.5" width="11.4" height="18.2" fill="none" stroke="#e82020" stroke-width="0.9" stroke-dasharray="2,1.3"/>
<line x1="25.7" y1="355.5" x2="46.3" y2="329.2" stroke="#e82020" stroke-width="0.9" stroke-dasharray="2,1.3"/>
<line x1="14.3" y1="374.0" x2="46.3" y2="377.5" stroke="#e82020" stroke-width="0.9" stroke-dasharray="2,1.3"/>
<circle cx="18.7" cy="366.2" r="1.0" fill="#30b0a0" stroke="#3040d0" stroke-width="0.6"/>
<rect x="15.2" y="374.3" width="9.0" height="2.2" fill="#ffffff" />
<rect x="47.2" y="329.2" width="32.3" height="48.3" fill="#2f2f2f" />
<path d="M59.2,329.2 C53.2,339.2 50.2,349.2 52.2,356.2 C55.2,362.2 62.2,365.2 65.2,369.2 C67.2,372.2 67.2,375.2 67.2,377.5 L79.5,377.5 L79.5,329.2 Z" fill="url(#mleg)" stroke="none" stroke-width="1" />
<path d="M48.7,377.5 C51.2,371.2 55.2,366.2 60.2,365.2 C63.2,367.2 61.2,373.2 59.2,377.5 Z" fill="#b8b8b8" stroke="none" stroke-width="1" />
<rect x="47.2" y="329.2" width="32.3" height="48.3" fill="#fff" filter="url(#fB_fur)" opacity="0.2" style="mix-blend-mode:multiply"/>
<ellipse cx="62.7" cy="353.2" rx="2.21" ry="2.21" fill="url(#spot)"/>
<rect x="80.0" y="329.2" width="32.6" height="48.3" fill="#2e2e2e" />
<path d="M82.55,377.5 C82.05,363.2 83.05,347.2 85.55,338.2 C86.55,332.2 89.55,329.2 95.05,329.2 C100.55,329.2 103.55,332.2 105.55,338.2 C108.05,349.2 108.55,365.2 109.05,377.5 Z" fill="url(#mbody)" stroke="none" stroke-width="1" />
<rect x="80.0" y="329.2" width="32.6" height="48.3" fill="#fff" filter="url(#fB_fur)" opacity="0.22" style="mix-blend-mode:multiply"/>
<rect x="80.6" y="355.5" width="11.4" height="18.2" fill="none" stroke="#e82020" stroke-width="0.9" stroke-dasharray="2,1.3"/>
<line x1="92.0" y1="355.5" x2="112.7" y2="329.2" stroke="#e82020" stroke-width="0.9" stroke-dasharray="2,1.3"/>
<line x1="80.6" y1="374.0" x2="112.7" y2="377.5" stroke="#e82020" stroke-width="0.9" stroke-dasharray="2,1.3"/>
<circle cx="85.0" cy="366.2" r="1.0" fill="#30b0a0" stroke="#3040d0" stroke-width="0.6"/>
<rect x="113.5" y="329.2" width="32.3" height="48.3" fill="#2f2f2f" />
<path d="M125.55,329.2 C119.55,339.2 116.55,349.2 118.55,356.2 C121.55,362.2 128.55,365.2 131.55,369.2 C133.55,372.2 133.55,375.2 133.55,377.5 L145.85,377.5 L145.85,329.2 Z" fill="url(#mleg)" stroke="none" stroke-width="1" />
<path d="M115.05,377.5 C117.55,371.2 121.55,366.2 126.55,365.2 C129.55,367.2 127.55,373.2 125.55,377.5 Z" fill="#b8b8b8" stroke="none" stroke-width="1" />
<rect x="113.5" y="329.2" width="32.3" height="48.3" fill="#fff" filter="url(#fB_fur)" opacity="0.2" style="mix-blend-mode:multiply"/>
<ellipse cx="125.5" cy="351.2" rx="2.55" ry="3.40" fill="url(#spot)"/>
<rect x="146.4" y="329.2" width="32.6" height="48.3" fill="#2e2e2e" />
<path d="M148.89999999999998,377.5 C148.39999999999998,363.2 149.39999999999998,347.2 151.89999999999998,338.2 C152.89999999999998,332.2 155.89999999999998,329.2 161.39999999999998,329.2 C166.89999999999998,329.2 169.89999999999998,332.2 171.89999999999998,338.2 C174.39999999999998,349.2 174.89999999999998,365.2 175.39999999999998,377.5 Z" fill="url(#mbody)" stroke="none" stroke-width="1" />
<rect x="146.4" y="329.2" width="32.6" height="48.3" fill="#fff" filter="url(#fB_fur)" opacity="0.22" style="mix-blend-mode:multiply"/>
<rect x="147.0" y="355.5" width="11.4" height="18.2" fill="none" stroke="#e82020" stroke-width="0.9" stroke-dasharray="2,1.3"/>
<line x1="158.4" y1="355.5" x2="179.0" y2="329.2" stroke="#e82020" stroke-width="0.9" stroke-dasharray="2,1.3"/>
<line x1="147.0" y1="374.0" x2="179.0" y2="377.5" stroke="#e82020" stroke-width="0.9" stroke-dasharray="2,1.3"/>
<circle cx="151.4" cy="366.2" r="1.0" fill="#30b0a0" stroke="#3040d0" stroke-width="0.6"/>
<rect x="179.9" y="329.2" width="32.3" height="48.3" fill="#2f2f2f" />
<path d="M191.89999999999998,329.2 C185.89999999999998,339.2 182.89999999999998,349.2 184.89999999999998,356.2 C187.89999999999998,362.2 194.89999999999998,365.2 197.89999999999998,369.2 C199.89999999999998,372.2 199.89999999999998,375.2 199.89999999999998,377.5 L212.2,377.5 L212.2,329.2 Z" fill="url(#mleg)" stroke="none" stroke-width="1" />
<path d="M181.39999999999998,377.5 C183.89999999999998,371.2 187.89999999999998,366.2 192.89999999999998,365.2 C195.89999999999998,367.2 193.89999999999998,373.2 191.89999999999998,377.5 Z" fill="#b8b8b8" stroke="none" stroke-width="1" />
<rect x="179.9" y="329.2" width="32.3" height="48.3" fill="#fff" filter="url(#fB_fur)" opacity="0.2" style="mix-blend-mode:multiply"/>
<ellipse cx="193.9" cy="350.2" rx="2.55" ry="2.72" fill="url(#spot)"/>
<rect x="212.7" y="329.2" width="32.6" height="48.3" fill="#2e2e2e" />
<path d="M215.24999999999997,377.5 C214.74999999999997,363.2 215.74999999999997,347.2 218.24999999999997,338.2 C219.24999999999997,332.2 222.24999999999997,329.2 227.74999999999997,329.2 C233.24999999999997,329.2 236.24999999999997,332.2 238.24999999999997,338.2 C240.74999999999997,349.2 241.24999999999997,365.2 241.74999999999997,377.5 Z" fill="url(#mbody)" stroke="none" stroke-width="1" />
<rect x="212.7" y="329.2" width="32.6" height="48.3" fill="#fff" filter="url(#fB_fur)" opacity="0.22" style="mix-blend-mode:multiply"/>
<rect x="213.3" y="355.5" width="11.4" height="18.2" fill="none" stroke="#e82020" stroke-width="0.9" stroke-dasharray="2,1.3"/>
<line x1="224.7" y1="355.5" x2="245.3" y2="329.2" stroke="#e82020" stroke-width="0.9" stroke-dasharray="2,1.3"/>
<line x1="213.3" y1="374.0" x2="245.3" y2="377.5" stroke="#e82020" stroke-width="0.9" stroke-dasharray="2,1.3"/>
<circle cx="217.7" cy="366.2" r="1.0" fill="#30b0a0" stroke="#3040d0" stroke-width="0.6"/>
<rect x="246.2" y="329.2" width="32.3" height="48.3" fill="#2f2f2f" />
<path d="M258.25,329.2 C252.24999999999997,339.2 249.24999999999997,349.2 251.24999999999997,356.2 C254.24999999999997,362.2 261.25,365.2 264.25,369.2 C266.25,372.2 266.25,375.2 266.25,377.5 L278.54999999999995,377.5 L278.54999999999995,329.2 Z" fill="url(#mleg)" stroke="none" stroke-width="1" />
<path d="M247.74999999999997,377.5 C250.24999999999997,371.2 254.24999999999997,366.2 259.25,365.2 C262.25,367.2 260.25,373.2 258.25,377.5 Z" fill="#b8b8b8" stroke="none" stroke-width="1" />
<rect x="246.2" y="329.2" width="32.3" height="48.3" fill="#fff" filter="url(#fB_fur)" opacity="0.2" style="mix-blend-mode:multiply"/>
<ellipse cx="262.2" cy="355.2" rx="2.72" ry="2.72" fill="url(#spot)"/>
<rect x="279.1" y="329.2" width="32.6" height="48.3" fill="#2e2e2e" />
<path d="M281.59999999999997,377.5 C281.09999999999997,363.2 282.09999999999997,347.2 284.59999999999997,338.2 C285.59999999999997,332.2 288.59999999999997,329.2 294.09999999999997,329.2 C299.59999999999997,329.2 302.59999999999997,332.2 304.59999999999997,338.2 C307.09999999999997,349.2 307.59999999999997,365.2 308.09999999999997,377.5 Z" fill="url(#mbody)" stroke="none" stroke-width="1" />
<rect x="279.1" y="329.2" width="32.6" height="48.3" fill="#fff" filter="url(#fB_fur)" opacity="0.22" style="mix-blend-mode:multiply"/>
<rect x="279.7" y="355.5" width="11.4" height="18.2" fill="none" stroke="#e82020" stroke-width="0.9" stroke-dasharray="2,1.3"/>
<line x1="291.1" y1="355.5" x2="311.7" y2="329.2" stroke="#e82020" stroke-width="0.9" stroke-dasharray="2,1.3"/>
<line x1="279.7" y1="374.0" x2="311.7" y2="377.5" stroke="#e82020" stroke-width="0.9" stroke-dasharray="2,1.3"/>
<rect x="312.6" y="329.2" width="32.3" height="48.3" fill="#2f2f2f" />
<path d="M324.59999999999997,329.2 C318.59999999999997,339.2 315.59999999999997,349.2 317.59999999999997,356.2 C320.59999999999997,362.2 327.59999999999997,365.2 330.59999999999997,369.2 C332.59999999999997,372.2 332.59999999999997,375.2 332.59999999999997,377.5 L344.9,377.5 L344.9,329.2 Z" fill="url(#mleg)" stroke="none" stroke-width="1" />
<path d="M314.09999999999997,377.5 C316.59999999999997,371.2 320.59999999999997,366.2 325.59999999999997,365.2 C328.59999999999997,367.2 326.59999999999997,373.2 324.59999999999997,377.5 Z" fill="#b8b8b8" stroke="none" stroke-width="1" />
<rect x="312.6" y="329.2" width="32.3" height="48.3" fill="#fff" filter="url(#fB_fur)" opacity="0.2" style="mix-blend-mode:multiply"/>
<rect x="345.2" y="229.9" width="5.0" height="146.8" fill="url(#cbar)" />
<line x1="350.2" y1="236.8" x2="351.4" y2="236.8" stroke="#333" stroke-width="0.5" />
<line x1="350.2" y1="244.3" x2="351.4" y2="244.3" stroke="#333" stroke-width="0.5" />
<line x1="350.2" y1="251.8" x2="351.4" y2="251.8" stroke="#333" stroke-width="0.5" />
<line x1="350.2" y1="259.4" x2="351.4" y2="259.4" stroke="#333" stroke-width="0.5" />
<line x1="350.2" y1="266.9" x2="351.4" y2="266.9" stroke="#333" stroke-width="0.5" />
<line x1="350.2" y1="274.4" x2="351.4" y2="274.4" stroke="#333" stroke-width="0.5" />
<line x1="350.2" y1="281.9" x2="351.4" y2="281.9" stroke="#333" stroke-width="0.5" />
<line x1="350.2" y1="289.4" x2="351.4" y2="289.4" stroke="#333" stroke-width="0.5" />
<line x1="350.2" y1="297.0" x2="351.4" y2="297.0" stroke="#333" stroke-width="0.5" />
<line x1="350.2" y1="304.5" x2="351.4" y2="304.5" stroke="#333" stroke-width="0.5" />
<line x1="350.2" y1="312.0" x2="351.4" y2="312.0" stroke="#333" stroke-width="0.5" />
<line x1="350.2" y1="319.5" x2="351.4" y2="319.5" stroke="#333" stroke-width="0.5" />
<line x1="350.2" y1="327.0" x2="351.4" y2="327.0" stroke="#333" stroke-width="0.5" />
<line x1="350.2" y1="334.6" x2="351.4" y2="334.6" stroke="#333" stroke-width="0.5" />
<line x1="350.2" y1="342.1" x2="351.4" y2="342.1" stroke="#333" stroke-width="0.5" />
<line x1="350.2" y1="349.6" x2="351.4" y2="349.6" stroke="#333" stroke-width="0.5" />
<line x1="350.2" y1="357.1" x2="351.4" y2="357.1" stroke="#333" stroke-width="0.5" />
<line x1="350.2" y1="364.6" x2="351.4" y2="364.6" stroke="#333" stroke-width="0.5" />
<line x1="350.2" y1="372.2" x2="351.4" y2="372.2" stroke="#333" stroke-width="0.5" />
<line x1="349.9" y1="236.8" x2="352.0" y2="236.8" stroke="#222" stroke-width="0.8" />
<text x="352.3" y="240.4" font-size="10.5" text-anchor="start" fill="#111" >4.0</text>
<line x1="349.9" y1="274.4" x2="352.0" y2="274.4" stroke="#222" stroke-width="0.8" />
<text x="352.3" y="278.0" font-size="10.5" text-anchor="start" fill="#111" >3.0</text>
<line x1="349.9" y1="309.7" x2="352.0" y2="309.7" stroke="#222" stroke-width="0.8" />
<text x="352.3" y="313.3" font-size="10.5" text-anchor="start" fill="#111" >2.0</text>
<line x1="349.9" y1="347.0" x2="352.0" y2="347.0" stroke="#222" stroke-width="0.8" />
<text x="352.3" y="350.6" font-size="10.5" text-anchor="start" fill="#111" >1.0</text>
<text x="352.3" y="302.5" font-size="10.5" text-anchor="start" fill="#111" >×10<tspan font-size="65%" dy="-4">6</tspan></text>
<text x="369.5" y="219.9" font-size="19.5" text-anchor="start" fill="#000" >D</text>
<text x="412.1" y="221.8" font-size="10.2" text-anchor="middle" fill="#111" >Sham</text>
<text x="460.5" y="221.8" font-size="10.2" text-anchor="middle" fill="#111" >PBS</text>
<text x="508.9" y="221.8" font-size="10.2" text-anchor="middle" fill="#111" >Van</text>
<text x="559.7" y="221.8" font-size="10.2" text-anchor="middle" fill="#111" >Ga<tspan font-size="62%" dy="2">Van</tspan></text>
<text x="609.3" y="221.8" font-size="10.2" text-anchor="middle" fill="#111" >GaCu<tspan font-size="62%" dy="2">Van</tspan></text>
<text x="660.2" y="214.9" font-size="10.2" text-anchor="middle" fill="#111" >GaCu<tspan font-size="62%" dy="2">Van</tspan><tspan dy="-2">&amp;</tspan></text>
<text x="660.2" y="224.8" font-size="10.2" text-anchor="middle" fill="#111" >HA<tspan font-size="62%" dy="2">CHO</tspan><tspan dy="-2">-BSA</tspan></text>
<text x="0.0" y="0.0" font-size="10.4" text-anchor="middle" fill="#111" transform="translate(387.2,253.3) rotate(-90)">7 days</text>
<text x="0.0" y="0.0" font-size="10.4" text-anchor="middle" fill="#111" transform="translate(387.2,303.2) rotate(-90)">14 days</text>
<text x="0.0" y="0.0" font-size="10.4" text-anchor="middle" fill="#111" transform="translate(387.2,353.1) rotate(-90)">21 days</text>
<rect x="389.3" y="229.3" width="47.9" height="48.2" fill="#2c63c8" />
<rect x="389.6" y="229.8" width="47.2" height="47.2" fill="#3e72d2" filter="url(#fD_clear)" clip-path="url(#circ)"/>
<circle cx="413.2" cy="253.4" r="22.5" fill="none" stroke="#cfdbf0" stroke-width="1.8" opacity="0.95"/>
<circle cx="413.2" cy="253.4" r="20.4" fill="none" stroke="#a9bde4" stroke-width="0.8" opacity="0.8"/>
<rect x="438.4" y="229.3" width="47.9" height="48.2" fill="#2c63c8" />
<rect x="438.7" y="229.8" width="47.2" height="47.2" fill="#bcc2c8" filter="url(#fD_col)" clip-path="url(#circ)"/>
<ellipse cx="462.1" cy="253.1" rx="15" ry="14" fill="url(#creamc)"/>
<circle cx="462.3" cy="253.4" r="22.5" fill="none" stroke="#cfdbf0" stroke-width="1.8" opacity="0.95"/>
<circle cx="462.3" cy="253.4" r="20.4" fill="none" stroke="#a9bde4" stroke-width="0.8" opacity="0.8"/>
<rect x="487.5" y="229.3" width="47.9" height="48.2" fill="#2c63c8" />
<rect x="487.8" y="229.8" width="47.2" height="47.2" fill="#bcc2c8" filter="url(#fD_col)" clip-path="url(#circ)"/>
<ellipse cx="513.1" cy="252.8" rx="15" ry="14" fill="url(#creamc)"/>
<circle cx="511.4" cy="253.4" r="22.5" fill="none" stroke="#cfdbf0" stroke-width="1.8" opacity="0.95"/>
<circle cx="511.4" cy="253.4" r="20.4" fill="none" stroke="#a9bde4" stroke-width="0.8" opacity="0.8"/>
<rect x="536.5" y="229.3" width="47.9" height="48.2" fill="#2c63c8" />
<rect x="536.9" y="229.8" width="47.2" height="47.2" fill="#bcc2c8" filter="url(#fD_col)" clip-path="url(#circ)"/>
<ellipse cx="560.5" cy="253.2" rx="15" ry="14" fill="url(#creamc)"/>
<circle cx="560.5" cy="253.4" r="22.5" fill="none" stroke="#cfdbf0" stroke-width="1.8" opacity="0.95"/>
<circle cx="560.5" cy="253.4" r="20.4" fill="none" stroke="#a9bde4" stroke-width="0.8" opacity="0.8"/>
<rect x="585.6" y="229.3" width="47.9" height="48.2" fill="#2c63c8" />
<rect x="586.0" y="229.8" width="47.2" height="47.2" fill="#bcc2c8" filter="url(#fD_col)" clip-path="url(#circ)"/>
<ellipse cx="608.3" cy="252.9" rx="15" ry="14" fill="url(#creamc)"/>
<circle cx="609.6" cy="253.4" r="22.5" fill="none" stroke="#cfdbf0" stroke-width="1.8" opacity="0.95"/>
<circle cx="609.6" cy="253.4" r="20.4" fill="none" stroke="#a9bde4" stroke-width="0.8" opacity="0.8"/>
<rect x="634.7" y="229.3" width="47.9" height="48.2" fill="#2c63c8" />
<rect x="635.1" y="229.8" width="47.2" height="47.2" fill="#5f84c8" filter="url(#fD_ha)" clip-path="url(#circ)"/>
<circle cx="658.7" cy="253.4" r="22.5" fill="none" stroke="#cfdbf0" stroke-width="1.8" opacity="0.95"/>
<circle cx="658.7" cy="253.4" r="20.4" fill="none" stroke="#a9bde4" stroke-width="0.8" opacity="0.8"/>
<circle cx="648.4" cy="242.5" r="0.8" fill="#ecebc8" stroke="none" stroke-width="1" />
<circle cx="664.9" cy="257.6" r="0.8" fill="#ecebc8" stroke="none" stroke-width="1" />
<circle cx="671.4" cy="261.6" r="0.8" fill="#ecebc8" stroke="none" stroke-width="1" />
<circle cx="657.4" cy="250.0" r="0.8" fill="#ecebc8" stroke="none" stroke-width="1" />
<circle cx="676.0" cy="251.4" r="0.8" fill="#ecebc8" stroke="none" stroke-width="1" />
<circle cx="651.7" cy="243.3" r="0.8" fill="#ecebc8" stroke="none" stroke-width="1" />
<circle cx="660.4" cy="256.1" r="0.8" fill="#ecebc8" stroke="none" stroke-width="1" />
<circle cx="654.8" cy="252.7" r="0.8" fill="#ecebc8" stroke="none" stroke-width="1" />
<circle cx="661.1" cy="259.6" r="0.8" fill="#ecebc8" stroke="none" stroke-width="1" />
<circle cx="668.4" cy="255.3" r="0.8" fill="#ecebc8" stroke="none" stroke-width="1" />
<circle cx="644.1" cy="259.1" r="0.8" fill="#ecebc8" stroke="none" stroke-width="1" />
<circle cx="646.1" cy="251.9" r="0.8" fill="#ecebc8" stroke="none" stroke-width="1" />
<circle cx="645.7" cy="253.4" r="0.8" fill="#ecebc8" stroke="none" stroke-width="1" />
<circle cx="651.7" cy="255.3" r="0.8" fill="#ecebc8" stroke="none" stroke-width="1" />
<rect x="389.3" y="279.2" width="47.9" height="48.2" fill="#2c63c8" />
<rect x="389.6" y="279.7" width="47.2" height="47.2" fill="#3e72d2" filter="url(#fD_clear)" clip-path="url(#circ)"/>
<circle cx="413.2" cy="303.3" r="22.5" fill="none" stroke="#cfdbf0" stroke-width="1.8" opacity="0.95"/>
<circle cx="413.2" cy="303.3" r="20.4" fill="none" stroke="#a9bde4" stroke-width="0.8" opacity="0.8"/>
<rect x="438.4" y="279.2" width="47.9" height="48.2" fill="#2c63c8" />
<rect x="438.7" y="279.7" width="47.2" height="47.2" fill="#bcc2c8" filter="url(#fD_col)" clip-path="url(#circ)"/>
<ellipse cx="464.3" cy="304.2" rx="15" ry="14" fill="url(#creamc)"/>
<circle cx="462.3" cy="303.3" r="22.5" fill="none" stroke="#cfdbf0" stroke-width="1.8" opacity="0.95"/>
<circle cx="462.3" cy="303.3" r="20.4" fill="none" stroke="#a9bde4" stroke-width="0.8" opacity="0.8"/>
<rect x="487.5" y="279.2" width="47.9" height="48.2" fill="#2c63c8" />
<rect x="487.8" y="279.7" width="47.2" height="47.2" fill="#bcc2c8" filter="url(#fD_col)" clip-path="url(#circ)"/>
<ellipse cx="512.8" cy="303.4" rx="15" ry="14" fill="url(#creamc)"/>
<circle cx="511.4" cy="303.3" r="22.5" fill="none" stroke="#cfdbf0" stroke-width="1.8" opacity="0.95"/>
<circle cx="511.4" cy="303.3" r="20.4" fill="none" stroke="#a9bde4" stroke-width="0.8" opacity="0.8"/>
<rect x="536.5" y="279.2" width="47.9" height="48.2" fill="#2c63c8" />
<rect x="536.9" y="279.7" width="47.2" height="47.2" fill="#bcc2c8" filter="url(#fD_col)" clip-path="url(#circ)"/>
<ellipse cx="559.8" cy="301.9" rx="15" ry="14" fill="url(#creamc)"/>
<circle cx="560.5" cy="303.3" r="22.5" fill="none" stroke="#cfdbf0" stroke-width="1.8" opacity="0.95"/>
<circle cx="560.5" cy="303.3" r="20.4" fill="none" stroke="#a9bde4" stroke-width="0.8" opacity="0.8"/>
<rect x="585.6" y="279.2" width="47.9" height="48.2" fill="#2c63c8" />
<rect x="586.0" y="279.7" width="47.2" height="47.2" fill="#bcc2c8" filter="url(#fD_col)" clip-path="url(#circ)"/>
<ellipse cx="608.7" cy="301.5" rx="15" ry="14" fill="url(#creamc)"/>
<circle cx="609.6" cy="303.3" r="22.5" fill="none" stroke="#cfdbf0" stroke-width="1.8" opacity="0.95"/>
<circle cx="609.6" cy="303.3" r="20.4" fill="none" stroke="#a9bde4" stroke-width="0.8" opacity="0.8"/>
<rect x="634.7" y="279.2" width="47.9" height="48.2" fill="#2c63c8" />
<rect x="635.1" y="279.7" width="47.2" height="47.2" fill="#3e72d2" filter="url(#fD_clear)" clip-path="url(#circ)"/>
<circle cx="658.7" cy="303.3" r="22.5" fill="none" stroke="#cfdbf0" stroke-width="1.8" opacity="0.95"/>
<circle cx="658.7" cy="303.3" r="20.4" fill="none" stroke="#a9bde4" stroke-width="0.8" opacity="0.8"/>
<rect x="389.3" y="329.0" width="47.9" height="48.2" fill="#2c63c8" />
<rect x="389.6" y="329.5" width="47.2" height="47.2" fill="#3e72d2" filter="url(#fD_clear)" clip-path="url(#circ)"/>
<circle cx="413.2" cy="353.1" r="22.5" fill="none" stroke="#cfdbf0" stroke-width="1.8" opacity="0.95"/>
<circle cx="413.2" cy="353.1" r="20.4" fill="none" stroke="#a9bde4" stroke-width="0.8" opacity="0.8"/>
<rect x="438.4" y="329.0" width="47.9" height="48.2" fill="#2c63c8" />
<rect x="438.7" y="329.5" width="47.2" height="47.2" fill="#b0b8c8" filter="url(#fD_col3)" clip-path="url(#circ)"/>
<circle cx="462.3" cy="353.1" r="22.5" fill="none" stroke="#cfdbf0" stroke-width="1.8" opacity="0.95"/>
<circle cx="462.3" cy="353.1" r="20.4" fill="none" stroke="#a9bde4" stroke-width="0.8" opacity="0.8"/>
<rect x="487.5" y="329.0" width="47.9" height="48.2" fill="#2c63c8" />
<rect x="487.8" y="329.5" width="47.2" height="47.2" fill="#b0b8c8" filter="url(#fD_col3)" clip-path="url(#circ)"/>
<circle cx="511.4" cy="353.1" r="22.5" fill="none" stroke="#cfdbf0" stroke-width="1.8" opacity="0.95"/>
<circle cx="511.4" cy="353.1" r="20.4" fill="none" stroke="#a9bde4" stroke-width="0.8" opacity="0.8"/>
<rect x="536.5" y="329.0" width="47.9" height="48.2" fill="#2c63c8" />
<rect x="536.9" y="329.5" width="47.2" height="47.2" fill="#b0b8c8" filter="url(#fD_col3)" clip-path="url(#circ)"/>
<circle cx="560.5" cy="353.1" r="22.5" fill="none" stroke="#cfdbf0" stroke-width="1.8" opacity="0.95"/>
<circle cx="560.5" cy="353.1" r="20.4" fill="none" stroke="#a9bde4" stroke-width="0.8" opacity="0.8"/>
<rect x="585.6" y="329.0" width="47.9" height="48.2" fill="#2c63c8" />
<rect x="586.0" y="329.5" width="47.2" height="47.2" fill="#b0b8c8" filter="url(#fD_col3)" clip-path="url(#circ)"/>
<circle cx="609.6" cy="353.1" r="22.5" fill="none" stroke="#cfdbf0" stroke-width="1.8" opacity="0.95"/>
<circle cx="609.6" cy="353.1" r="20.4" fill="none" stroke="#a9bde4" stroke-width="0.8" opacity="0.8"/>
<rect x="634.7" y="329.0" width="47.9" height="48.2" fill="#2c63c8" />
<rect x="635.1" y="329.5" width="47.2" height="47.2" fill="#3e72d2" filter="url(#fD_clear)" clip-path="url(#circ)"/>
<circle cx="658.7" cy="353.1" r="22.5" fill="none" stroke="#cfdbf0" stroke-width="1.8" opacity="0.95"/>
<circle cx="658.7" cy="353.1" r="20.4" fill="none" stroke="#a9bde4" stroke-width="0.8" opacity="0.8"/>
<text x="1.5" y="401.0" font-size="19.5" text-anchor="start" fill="#000" >C</text>
<rect x="36.1" y="396.8" width="29.1" height="30.6" fill="#3a8ef6" />
<rect x="65.0" y="396.8" width="29.1" height="30.6" fill="#3a8ef6" />
<rect x="93.8" y="396.8" width="29.1" height="30.6" fill="#3a8ef6" />
<rect x="122.7" y="396.8" width="29.1" height="30.6" fill="#3a8ef6" />
<rect x="151.5" y="396.8" width="29.1" height="30.6" fill="#3a8ef6" />
<rect x="36.1" y="427.2" width="29.1" height="30.6" fill="#68a6f4" />
<rect x="65.0" y="427.2" width="29.1" height="30.6" fill="#62a2f4" />
<rect x="93.8" y="427.2" width="29.1" height="30.6" fill="#60a0f4" />
<rect x="122.7" y="427.2" width="29.1" height="30.6" fill="#6aa8f6" />
<rect x="151.5" y="427.2" width="29.1" height="30.6" fill="#a8ccfa" />
<rect x="36.1" y="457.5" width="29.1" height="30.6" fill="#8cbef8" />
<rect x="65.0" y="457.5" width="29.1" height="30.6" fill="#82b8f8" />
<rect x="93.8" y="457.5" width="29.1" height="30.6" fill="#80b6f8" />
<rect x="122.7" y="457.5" width="29.1" height="30.6" fill="#84b9f8" />
<rect x="151.5" y="457.5" width="29.1" height="30.6" fill="#ffffff" />
<rect x="36.1" y="396.8" width="144.3" height="91.1" fill="none" stroke="#111" stroke-width="1"/>
<line x1="33.0" y1="411.9" x2="36.1" y2="411.9" stroke="#111" stroke-width="0.9" />
<text x="31.5" y="415.2" font-size="9.6" text-anchor="end" fill="#111" >1 day</text>
<line x1="33.0" y1="442.3" x2="36.1" y2="442.3" stroke="#111" stroke-width="0.9" />
<text x="31.5" y="445.6" font-size="9.6" text-anchor="end" fill="#111" >3 days</text>
<line x1="33.0" y1="472.6" x2="36.1" y2="472.6" stroke="#111" stroke-width="0.9" />
<text x="31.5" y="475.9" font-size="9.6" text-anchor="end" fill="#111" >7 days</text>
<line x1="50.5" y1="487.9" x2="50.5" y2="491.0" stroke="#111" stroke-width="0.9" />
<text x="50.5" y="500.8" font-size="9.6" text-anchor="middle" fill="#111" >G2</text>
<line x1="79.4" y1="487.9" x2="79.4" y2="491.0" stroke="#111" stroke-width="0.9" />
<text x="79.4" y="500.8" font-size="9.6" text-anchor="middle" fill="#111" >G3</text>
<line x1="108.2" y1="487.9" x2="108.2" y2="491.0" stroke="#111" stroke-width="0.9" />
<text x="108.2" y="500.8" font-size="9.6" text-anchor="middle" fill="#111" >G4</text>
<line x1="137.1" y1="487.9" x2="137.1" y2="491.0" stroke="#111" stroke-width="0.9" />
<text x="137.1" y="500.8" font-size="9.6" text-anchor="middle" fill="#111" >G5</text>
<line x1="165.9" y1="487.9" x2="165.9" y2="491.0" stroke="#111" stroke-width="0.9" />
<text x="165.9" y="500.8" font-size="9.6" text-anchor="middle" fill="#111" >G6</text>
<rect x="185.0" y="396.8" width="11.9" height="91.1" fill="url(#hbar)" stroke="#111" stroke-width="1"/>
<line x1="196.9" y1="487.9" x2="199.5" y2="487.9" stroke="#111" stroke-width="0.9" />
<text x="201.0" y="491.2" font-size="9.6" text-anchor="start" fill="#111" >0</text>
<line x1="196.9" y1="465.1" x2="199.5" y2="465.1" stroke="#111" stroke-width="0.9" />
<text x="201.0" y="468.4" font-size="9.6" text-anchor="start" fill="#111" >10</text>
<line x1="196.9" y1="442.0" x2="199.5" y2="442.0" stroke="#111" stroke-width="0.9" />
<text x="201.0" y="445.3" font-size="9.6" text-anchor="start" fill="#111" >20</text>
<line x1="196.9" y1="418.5" x2="199.5" y2="418.5" stroke="#111" stroke-width="0.9" />
<text x="201.0" y="421.8" font-size="9.6" text-anchor="start" fill="#111" >30</text>
<text x="0.0" y="0.0" font-size="9.6" text-anchor="middle" fill="#111" transform="translate(226.5,442.3) rotate(-90)">Avg Radiance</text>
<text x="0.0" y="0.0" font-size="9.6" text-anchor="middle" fill="#111" transform="translate(237.5,442.3) rotate(-90)">[p/s/cm<tspan font-size="65%" dy="-3">2</tspan><tspan dy="3">/sr] (x 10</tspan><tspan font-size="65%" dy="-3">5</tspan><tspan dy="3">)</tspan></text>
<text x="257.5" y="400.1" font-size="19.5" text-anchor="start" fill="#000" >E</text>
<line x1="293.8" y1="400.3" x2="293.8" y2="490.0" stroke="#222" stroke-width="1.1" />
<line x1="293.3" y1="489.5" x2="400.0" y2="489.5" stroke="#222" stroke-width="1.1" />
<line x1="291.2" y1="489.5" x2="293.8" y2="489.5" stroke="#222" stroke-width="1.0" />
<text x="290.5" y="492.7" font-size="9.3" text-anchor="end" fill="#333" >0</text>
<line x1="291.2" y1="467.3" x2="293.8" y2="467.3" stroke="#222" stroke-width="1.0" />
<text x="290.5" y="470.5" font-size="9.3" text-anchor="end" fill="#333" >2</text>
<line x1="291.2" y1="445.1" x2="293.8" y2="445.1" stroke="#222" stroke-width="1.0" />
<text x="290.5" y="448.3" font-size="9.3" text-anchor="end" fill="#333" >4</text>
<line x1="291.2" y1="423.0" x2="293.8" y2="423.0" stroke="#222" stroke-width="1.0" />
<text x="290.5" y="426.1" font-size="9.3" text-anchor="end" fill="#333" >6</text>
<line x1="291.2" y1="400.8" x2="293.8" y2="400.8" stroke="#222" stroke-width="1.0" />
<text x="290.5" y="404.0" font-size="9.3" text-anchor="end" fill="#333" >8</text>
<text x="339.8" y="393.1" font-size="9.3" text-anchor="middle" fill="#222" >7 days</text>
<text x="0.0" y="0.0" font-size="9.8" text-anchor="middle" fill="#222" transform="translate(276.8,443.5) rotate(-90)">Log<tspan font-size="70%" dy="2">10</tspan><tspan dy="-2"> CFU/mL</tspan></text>
<text x="296.0" y="408.5" font-size="9.8" text-anchor="start" fill="#222" >P &lt; 0.0001</text>
<text x="350.3" y="408.5" font-size="9.8" text-anchor="start" fill="#222" >P &lt; 0.0001</text>
<line x1="304.3" y1="414.0" x2="322.9" y2="414.0" stroke="#333" stroke-width="1.1" />
<text x="336.5" y="415.5" font-size="9.8" text-anchor="middle" fill="#222" >ns</text>
<line x1="322.9" y1="417.2" x2="371.1" y2="417.2" stroke="#444" stroke-width="1.0" />
<path d="M345.7,417.2 L345.7,412.8 L387.5,412.8 L387.5,465.4" fill="none" stroke="#444" stroke-width="1.0" />
<circle cx="301.6" cy="489.5" r="3.0" fill="#fff" stroke="#f8b878" stroke-width="1.2" />
<circle cx="305.6" cy="489.5" r="3.0" fill="#fff" stroke="#f8b878" stroke-width="1.2" />
<circle cx="321.6" cy="423.0" r="3.0" fill="none" stroke="#1a9aaa" stroke-width="1.38" />
<circle cx="317.4" cy="425.2" r="3.0" fill="none" stroke="#1a9aaa" stroke-width="1.38" />
<circle cx="321.6" cy="428.5" r="3.0" fill="none" stroke="#1a9aaa" stroke-width="1.38" />
<circle cx="317.4" cy="430.7" r="3.0" fill="none" stroke="#1a9aaa" stroke-width="1.38" />
<circle cx="337.6" cy="429.6" r="3.0" fill="none" stroke="#8c8cf4" stroke-width="1.38" />
<circle cx="333.4" cy="429.6" r="3.0" fill="none" stroke="#8c8cf4" stroke-width="1.38" />
<circle cx="337.6" cy="434.6" r="3.0" fill="none" stroke="#8c8cf4" stroke-width="1.38" />
<circle cx="333.4" cy="435.2" r="3.0" fill="none" stroke="#8c8cf4" stroke-width="1.38" />
<circle cx="354.7" cy="424.1" r="3.0" fill="none" stroke="#2a2ae8" stroke-width="1.38" />
<circle cx="350.5" cy="425.2" r="3.0" fill="none" stroke="#2a2ae8" stroke-width="1.38" />
<circle cx="358.9" cy="426.3" r="3.0" fill="none" stroke="#2a2ae8" stroke-width="1.38" />
<circle cx="354.7" cy="428.5" r="3.0" fill="none" stroke="#2a2ae8" stroke-width="1.38" />
<circle cx="371.5" cy="429.6" r="3.0" fill="none" stroke="#4f9cf0" stroke-width="1.38" />
<circle cx="367.3" cy="429.6" r="3.0" fill="none" stroke="#4f9cf0" stroke-width="1.38" />
<circle cx="371.5" cy="434.6" r="3.0" fill="none" stroke="#4f9cf0" stroke-width="1.38" />
<circle cx="367.3" cy="434.6" r="3.0" fill="none" stroke="#4f9cf0" stroke-width="1.38" />
<circle cx="388.0" cy="472.9" r="3.0" fill="none" stroke="#ee1111" stroke-width="1.38" />
<circle cx="383.8" cy="474.0" r="3.0" fill="none" stroke="#ee1111" stroke-width="1.38" />
<circle cx="392.2" cy="475.1" r="3.0" fill="none" stroke="#ee1111" stroke-width="1.38" />
<circle cx="383.8" cy="476.2" r="3.0" fill="none" stroke="#ee1111" stroke-width="1.38" />
<line x1="428.5" y1="396.6" x2="428.5" y2="490.0" stroke="#222" stroke-width="1.1" />
<line x1="428.0" y1="489.5" x2="538.0" y2="489.5" stroke="#222" stroke-width="1.1" />
<line x1="425.9" y1="489.5" x2="428.5" y2="489.5" stroke="#222" stroke-width="1.0" />
<text x="425.2" y="492.7" font-size="9.3" text-anchor="end" fill="#333" >0</text>
<line x1="425.9" y1="466.4" x2="428.5" y2="466.4" stroke="#222" stroke-width="1.0" />
<text x="425.2" y="469.6" font-size="9.3" text-anchor="end" fill="#333" >2</text>
<line x1="425.9" y1="443.3" x2="428.5" y2="443.3" stroke="#222" stroke-width="1.0" />
<text x="425.2" y="446.5" font-size="9.3" text-anchor="end" fill="#333" >4</text>
<line x1="425.9" y1="420.2" x2="428.5" y2="420.2" stroke="#222" stroke-width="1.0" />
<text x="425.2" y="423.4" font-size="9.3" text-anchor="end" fill="#333" >6</text>
<line x1="425.9" y1="397.1" x2="428.5" y2="397.1" stroke="#222" stroke-width="1.0" />
<text x="425.2" y="400.3" font-size="9.3" text-anchor="end" fill="#333" >8</text>
<text x="476.6" y="392.7" font-size="9.3" text-anchor="middle" fill="#222" >14 days</text>
<text x="0.0" y="0.0" font-size="9.8" text-anchor="middle" fill="#222" transform="translate(410.4,443.5) rotate(-90)">Log<tspan font-size="70%" dy="2">10</tspan><tspan dy="-2"> CFU/mL</tspan></text>
<text x="429.6" y="403.0" font-size="9.8" text-anchor="start" fill="#222" >P &lt; 0.0001</text>
<text x="486.5" y="403.0" font-size="9.8" text-anchor="start" fill="#222" >P &lt; 0.0001</text>
<line x1="438.3" y1="407.4" x2="457.4" y2="407.4" stroke="#333" stroke-width="1.1" />
<text x="471.2" y="409.6" font-size="9.8" text-anchor="middle" fill="#222" >ns</text>
<line x1="457.4" y1="411.3" x2="508.8" y2="411.3" stroke="#444" stroke-width="1.0" />
<path d="M482.1,411.3 L482.1,404.7 L526.6,404.7 L526.6,479.6" fill="none" stroke="#444" stroke-width="1.0" />
<circle cx="437.4" cy="489.5" r="3.0" fill="#fff" stroke="#f8b878" stroke-width="1.2" />
<circle cx="441.4" cy="489.5" r="3.0" fill="#fff" stroke="#f8b878" stroke-width="1.2" />
<circle cx="456.5" cy="416.7" r="3.0" fill="none" stroke="#1a9aaa" stroke-width="1.38" />
<circle cx="452.3" cy="417.9" r="3.0" fill="none" stroke="#1a9aaa" stroke-width="1.38" />
<circle cx="458.8" cy="420.2" r="3.0" fill="none" stroke="#1a9aaa" stroke-width="1.38" />
<circle cx="454.2" cy="422.5" r="3.0" fill="none" stroke="#1a9aaa" stroke-width="1.38" />
<circle cx="474.4" cy="416.7" r="3.0" fill="none" stroke="#8c8cf4" stroke-width="1.38" />
<circle cx="470.2" cy="417.9" r="3.0" fill="none" stroke="#8c8cf4" stroke-width="1.38" />
<circle cx="478.6" cy="419.0" r="3.0" fill="none" stroke="#8c8cf4" stroke-width="1.38" />
<circle cx="470.2" cy="420.2" r="3.0" fill="none" stroke="#8c8cf4" stroke-width="1.38" />
<circle cx="491.5" cy="416.7" r="3.0" fill="none" stroke="#2a2ae8" stroke-width="1.38" />
<circle cx="487.3" cy="417.9" r="3.0" fill="none" stroke="#2a2ae8" stroke-width="1.38" />
<circle cx="493.8" cy="420.2" r="3.0" fill="none" stroke="#2a2ae8" stroke-width="1.38" />
<circle cx="489.2" cy="422.5" r="3.0" fill="none" stroke="#2a2ae8" stroke-width="1.38" />
<circle cx="508.8" cy="416.7" r="3.0" fill="none" stroke="#4f9cf0" stroke-width="1.38" />
<circle cx="506.5" cy="420.2" r="3.0" fill="none" stroke="#4f9cf0" stroke-width="1.38" />
<circle cx="511.1" cy="421.4" r="3.0" fill="none" stroke="#4f9cf0" stroke-width="1.38" />
<circle cx="508.8" cy="424.8" r="3.0" fill="none" stroke="#4f9cf0" stroke-width="1.38" />
<circle cx="523.9" cy="489.5" r="3.0" fill="#fff" stroke="#ee1111" stroke-width="1.2" />
<circle cx="527.9" cy="489.5" r="3.0" fill="#fff" stroke="#ee1111" stroke-width="1.2" />
<line x1="570.5" y1="397.5" x2="570.5" y2="490.0" stroke="#222" stroke-width="1.1" />
<line x1="570.0" y1="489.5" x2="679.5" y2="489.5" stroke="#222" stroke-width="1.1" />
<line x1="567.9" y1="489.5" x2="570.5" y2="489.5" stroke="#222" stroke-width="1.0" />
<text x="567.2" y="492.7" font-size="9.3" text-anchor="end" fill="#333" >0</text>
<line x1="567.9" y1="471.2" x2="570.5" y2="471.2" stroke="#222" stroke-width="1.0" />
<text x="567.2" y="474.4" font-size="9.3" text-anchor="end" fill="#333" >1</text>
<line x1="567.9" y1="452.9" x2="570.5" y2="452.9" stroke="#222" stroke-width="1.0" />
<text x="567.2" y="456.1" font-size="9.3" text-anchor="end" fill="#333" >2</text>
<line x1="567.9" y1="434.6" x2="570.5" y2="434.6" stroke="#222" stroke-width="1.0" />
<text x="567.2" y="437.8" font-size="9.3" text-anchor="end" fill="#333" >3</text>
<line x1="567.9" y1="416.3" x2="570.5" y2="416.3" stroke="#222" stroke-width="1.0" />
<text x="567.2" y="419.5" font-size="9.3" text-anchor="end" fill="#333" >4</text>
<line x1="567.9" y1="398.0" x2="570.5" y2="398.0" stroke="#222" stroke-width="1.0" />
<text x="567.2" y="401.2" font-size="9.3" text-anchor="end" fill="#333" >5</text>
<text x="620.0" y="392.0" font-size="9.3" text-anchor="middle" fill="#222" >21 days</text>
<text x="0.0" y="0.0" font-size="9.8" text-anchor="middle" fill="#222" transform="translate(554,443.5) rotate(-90)">Log<tspan font-size="70%" dy="2">10</tspan><tspan dy="-2"> CFU/mL</tspan></text>
<text x="574.0" y="401.5" font-size="9.8" text-anchor="start" fill="#222" >P &lt; 0.0001</text>
<text x="631.3" y="401.5" font-size="9.8" text-anchor="start" fill="#222" >P &lt; 0.0001</text>
<line x1="582.1" y1="407.4" x2="601.8" y2="407.4" stroke="#333" stroke-width="1.1" />
<text x="616.0" y="407.4" font-size="9.8" text-anchor="middle" fill="#222" >ns</text>
<line x1="601.8" y1="409.1" x2="653.7" y2="409.1" stroke="#444" stroke-width="1.0" />
<path d="M626.5,409.1 L626.5,402.6 L667.5,402.6 L667.5,468.7" fill="none" stroke="#444" stroke-width="1.0" />
<circle cx="580.1" cy="489.5" r="3.0" fill="#fff" stroke="#f8b878" stroke-width="1.2" />
<circle cx="584.1" cy="489.5" r="3.0" fill="#fff" stroke="#f8b878" stroke-width="1.2" />
<line x1="599.2" y1="412.9" x2="599.2" y2="443.9" stroke="#1a9aaa" stroke-width="1.2" />
<line x1="596.9" y1="412.9" x2="601.5" y2="412.9" stroke="#1a9aaa" stroke-width="1.2" />
<line x1="596.9" y1="443.9" x2="601.5" y2="443.9" stroke="#1a9aaa" stroke-width="1.2" />
<line x1="594.4" y1="428.4" x2="604.0" y2="428.4" stroke="#1a9aaa" stroke-width="1.2" />
<circle cx="599.2" cy="414.5" r="3.0" fill="none" stroke="#1a9aaa" stroke-width="1.38" />
<circle cx="595.0" cy="417.2" r="3.0" fill="none" stroke="#1a9aaa" stroke-width="1.38" />
<circle cx="599.2" cy="434.6" r="3.0" fill="none" stroke="#1a9aaa" stroke-width="1.38" />
<circle cx="599.2" cy="447.4" r="3.0" fill="none" stroke="#1a9aaa" stroke-width="1.38" />
<line x1="617.1" y1="416.1" x2="617.1" y2="430.6" stroke="#8c8cf4" stroke-width="1.2" />
<line x1="614.8" y1="416.1" x2="619.4" y2="416.1" stroke="#8c8cf4" stroke-width="1.2" />
<line x1="614.8" y1="430.6" x2="619.4" y2="430.6" stroke="#8c8cf4" stroke-width="1.2" />
<line x1="612.3" y1="423.4" x2="621.9" y2="423.4" stroke="#8c8cf4" stroke-width="1.2" />
<circle cx="617.1" cy="417.2" r="3.0" fill="none" stroke="#8c8cf4" stroke-width="1.38" />
<circle cx="612.9" cy="418.1" r="3.0" fill="none" stroke="#8c8cf4" stroke-width="1.38" />
<circle cx="617.1" cy="425.4" r="3.0" fill="none" stroke="#8c8cf4" stroke-width="1.38" />
<circle cx="617.1" cy="432.8" r="3.0" fill="none" stroke="#8c8cf4" stroke-width="1.38" />
<line x1="634.0" y1="414.9" x2="634.0" y2="429.6" stroke="#2a2ae8" stroke-width="1.2" />
<line x1="631.7" y1="414.9" x2="636.3" y2="414.9" stroke="#2a2ae8" stroke-width="1.2" />
<line x1="631.7" y1="429.6" x2="636.3" y2="429.6" stroke="#2a2ae8" stroke-width="1.2" />
<line x1="629.2" y1="422.2" x2="638.8" y2="422.2" stroke="#2a2ae8" stroke-width="1.2" />
<circle cx="634.0" cy="414.5" r="3.0" fill="none" stroke="#2a2ae8" stroke-width="1.38" />
<circle cx="631.7" cy="418.1" r="3.0" fill="none" stroke="#2a2ae8" stroke-width="1.38" />
<circle cx="634.0" cy="425.4" r="3.0" fill="none" stroke="#2a2ae8" stroke-width="1.38" />
<circle cx="634.0" cy="430.9" r="3.0" fill="none" stroke="#2a2ae8" stroke-width="1.38" />
<line x1="651.0" y1="425.0" x2="651.0" y2="434.1" stroke="#4f9cf0" stroke-width="1.2" />
<line x1="648.7" y1="425.0" x2="653.3" y2="425.0" stroke="#4f9cf0" stroke-width="1.2" />
<line x1="648.7" y1="434.1" x2="653.3" y2="434.1" stroke="#4f9cf0" stroke-width="1.2" />
<line x1="646.2" y1="429.6" x2="655.8" y2="429.6" stroke="#4f9cf0" stroke-width="1.2" />
<circle cx="651.0" cy="423.6" r="3.0" fill="none" stroke="#4f9cf0" stroke-width="1.38" />
<circle cx="651.0" cy="429.1" r="3.0" fill="none" stroke="#4f9cf0" stroke-width="1.38" />
<circle cx="646.8" cy="430.9" r="3.0" fill="none" stroke="#4f9cf0" stroke-width="1.38" />
<circle cx="651.0" cy="434.6" r="3.0" fill="none" stroke="#4f9cf0" stroke-width="1.38" />
<circle cx="666.1" cy="489.5" r="3.0" fill="#fff" stroke="#ee1111" stroke-width="1.2" />
<circle cx="670.1" cy="489.5" r="3.0" fill="#fff" stroke="#ee1111" stroke-width="1.2" />
<text x="1.5" y="519.0" font-size="19.5" text-anchor="start" fill="#000" >F</text>
<text x="178.3" y="509.6" font-size="10.2" text-anchor="middle" fill="#111" >MRSA RJ0089</text>
<line x1="33.3" y1="514.5" x2="321.0" y2="514.5" stroke="#111" stroke-width="1.1" />
<line x1="21.9" y1="534.6" x2="21.9" y2="643.9" stroke="#222" stroke-width="1.1" />
<line x1="21.4" y1="643.4" x2="117.7" y2="643.4" stroke="#222" stroke-width="1.1" />
<line x1="19.3" y1="643.4" x2="21.9" y2="643.4" stroke="#222" stroke-width="1.0" />
<text x="18.6" y="645.9" font-size="7.4" text-anchor="end" fill="#333" >0</text>
<line x1="19.3" y1="616.3" x2="21.9" y2="616.3" stroke="#222" stroke-width="1.0" />
<text x="18.6" y="618.8" font-size="7.4" text-anchor="end" fill="#333" >2</text>
<line x1="19.3" y1="589.2" x2="21.9" y2="589.2" stroke="#222" stroke-width="1.0" />
<text x="18.6" y="591.8" font-size="7.4" text-anchor="end" fill="#333" >4</text>
<line x1="19.3" y1="562.2" x2="21.9" y2="562.2" stroke="#222" stroke-width="1.0" />
<text x="18.6" y="564.7" font-size="7.4" text-anchor="end" fill="#333" >6</text>
<line x1="19.3" y1="535.1" x2="21.9" y2="535.1" stroke="#222" stroke-width="1.0" />
<text x="18.6" y="537.6" font-size="7.4" text-anchor="end" fill="#333" >8</text>
<text x="57.8" y="523.3" font-size="7.7" text-anchor="middle" fill="#222" >7 days</text>
<text x="0.0" y="0.0" font-size="7.9" text-anchor="middle" fill="#222" transform="translate(7.5,588) rotate(-90)">Log<tspan font-size="70%" dy="2">10</tspan><tspan dy="-2"> CFU/mL</tspan></text>
<text x="23.7" y="539.2" font-size="7.8" text-anchor="start" fill="#222" >P &lt; 0.0001</text>
<text x="72.2" y="539.2" font-size="7.8" text-anchor="start" fill="#222" >P &lt; 0.0001</text>
<line x1="32.4" y1="541.8" x2="46.4" y2="541.8" stroke="#888" stroke-width="1.1" />
<text x="58.7" y="547.5" font-size="7.8" text-anchor="middle" fill="#222" >ns</text>
<line x1="46.4" y1="550.2" x2="91.5" y2="550.2" stroke="#444" stroke-width="1.0" />
<path d="M69.6,550.2 L69.6,542.7 L107.2,542.7 L107.2,613.6" fill="none" stroke="#444" stroke-width="1.0" />
<circle cx="30.4" cy="643.4" r="2.6" fill="#fff" stroke="#f8b878" stroke-width="1.05" />
<circle cx="34.4" cy="643.4" r="2.6" fill="#fff" stroke="#f8b878" stroke-width="1.05" />
<line x1="47.0" y1="555.3" x2="47.0" y2="571.7" stroke="#1a9aaa" stroke-width="1.05" />
<line x1="44.7" y1="555.3" x2="49.3" y2="555.3" stroke="#1a9aaa" stroke-width="1.05" />
<line x1="44.7" y1="571.7" x2="49.3" y2="571.7" stroke="#1a9aaa" stroke-width="1.05" />
<line x1="42.2" y1="563.5" x2="51.8" y2="563.5" stroke="#1a9aaa" stroke-width="1.05" />
<circle cx="47.0" cy="555.4" r="2.6" fill="none" stroke="#1a9aaa" stroke-width="1.2075" />
<circle cx="44.7" cy="558.1" r="2.6" fill="none" stroke="#1a9aaa" stroke-width="1.2075" />
<circle cx="47.0" cy="567.6" r="2.6" fill="none" stroke="#1a9aaa" stroke-width="1.2075" />
<circle cx="47.0" cy="573.0" r="2.6" fill="none" stroke="#1a9aaa" stroke-width="1.2075" />
<line x1="62.2" y1="567.0" x2="62.2" y2="576.8" stroke="#8c8cf4" stroke-width="1.05" />
<line x1="59.9" y1="567.0" x2="64.5" y2="567.0" stroke="#8c8cf4" stroke-width="1.05" />
<line x1="59.9" y1="576.8" x2="64.5" y2="576.8" stroke="#8c8cf4" stroke-width="1.05" />
<line x1="57.4" y1="571.9" x2="67.0" y2="571.9" stroke="#8c8cf4" stroke-width="1.05" />
<circle cx="62.2" cy="567.6" r="2.6" fill="none" stroke="#8c8cf4" stroke-width="1.2075" />
<circle cx="58.0" cy="568.9" r="2.6" fill="none" stroke="#8c8cf4" stroke-width="1.2075" />
<circle cx="62.2" cy="572.5" r="2.6" fill="none" stroke="#8c8cf4" stroke-width="1.2075" />
<circle cx="62.2" cy="578.6" r="2.6" fill="none" stroke="#8c8cf4" stroke-width="1.2075" />
<line x1="77.1" y1="558.1" x2="77.1" y2="576.7" stroke="#2a2ae8" stroke-width="1.05" />
<line x1="74.8" y1="558.1" x2="79.4" y2="558.1" stroke="#2a2ae8" stroke-width="1.05" />
<line x1="74.8" y1="576.7" x2="79.4" y2="576.7" stroke="#2a2ae8" stroke-width="1.05" />
<line x1="72.3" y1="567.4" x2="81.9" y2="567.4" stroke="#2a2ae8" stroke-width="1.05" />
<circle cx="77.1" cy="555.8" r="2.6" fill="none" stroke="#2a2ae8" stroke-width="1.2075" />
<circle cx="77.1" cy="567.2" r="2.6" fill="none" stroke="#2a2ae8" stroke-width="1.2075" />
<circle cx="72.9" cy="568.1" r="2.6" fill="none" stroke="#2a2ae8" stroke-width="1.2075" />
<circle cx="77.1" cy="578.6" r="2.6" fill="none" stroke="#2a2ae8" stroke-width="1.2075" />
<line x1="92.0" y1="561.3" x2="92.0" y2="578.0" stroke="#4f9cf0" stroke-width="1.05" />
<line x1="89.7" y1="561.3" x2="94.3" y2="561.3" stroke="#4f9cf0" stroke-width="1.05" />
<line x1="89.7" y1="578.0" x2="94.3" y2="578.0" stroke="#4f9cf0" stroke-width="1.05" />
<line x1="87.2" y1="569.6" x2="96.8" y2="569.6" stroke="#4f9cf0" stroke-width="1.05" />
<circle cx="92.0" cy="560.3" r="2.6" fill="none" stroke="#4f9cf0" stroke-width="1.2075" />
<circle cx="92.0" cy="567.2" r="2.6" fill="none" stroke="#4f9cf0" stroke-width="1.2075" />
<circle cx="92.0" cy="570.7" r="2.6" fill="none" stroke="#4f9cf0" stroke-width="1.2075" />
<circle cx="92.0" cy="580.3" r="2.6" fill="none" stroke="#4f9cf0" stroke-width="1.2075" />
<line x1="107.2" y1="622.1" x2="107.2" y2="634.6" stroke="#ee1111" stroke-width="1.05" />
<line x1="104.9" y1="622.1" x2="109.5" y2="622.1" stroke="#ee1111" stroke-width="1.05" />
<line x1="104.9" y1="634.6" x2="109.5" y2="634.6" stroke="#ee1111" stroke-width="1.05" />
<line x1="102.4" y1="628.3" x2="112.0" y2="628.3" stroke="#ee1111" stroke-width="1.05" />
<circle cx="107.2" cy="620.7" r="2.6" fill="none" stroke="#ee1111" stroke-width="1.2075" />
<circle cx="107.2" cy="626.7" r="2.6" fill="none" stroke="#ee1111" stroke-width="1.2075" />
<circle cx="107.2" cy="630.3" r="2.6" fill="none" stroke="#ee1111" stroke-width="1.2075" />
<circle cx="107.2" cy="635.5" r="2.6" fill="none" stroke="#ee1111" stroke-width="1.2075" />
<line x1="132.8" y1="535.7" x2="132.8" y2="643.9" stroke="#222" stroke-width="1.1" />
<line x1="132.3" y1="643.4" x2="227.5" y2="643.4" stroke="#222" stroke-width="1.1" />
<line x1="130.2" y1="643.4" x2="132.8" y2="643.4" stroke="#222" stroke-width="1.0" />
<text x="129.5" y="645.9" font-size="7.4" text-anchor="end" fill="#333" >0</text>
<line x1="130.2" y1="616.6" x2="132.8" y2="616.6" stroke="#222" stroke-width="1.0" />
<text x="129.5" y="619.1" font-size="7.4" text-anchor="end" fill="#333" >2</text>
<line x1="130.2" y1="589.8" x2="132.8" y2="589.8" stroke="#222" stroke-width="1.0" />
<text x="129.5" y="592.3" font-size="7.4" text-anchor="end" fill="#333" >4</text>
<line x1="130.2" y1="563.0" x2="132.8" y2="563.0" stroke="#222" stroke-width="1.0" />
<text x="129.5" y="565.5" font-size="7.4" text-anchor="end" fill="#333" >6</text>
<line x1="130.2" y1="536.2" x2="132.8" y2="536.2" stroke="#222" stroke-width="1.0" />
<text x="129.5" y="538.7" font-size="7.4" text-anchor="end" fill="#333" >8</text>
<text x="168.3" y="523.4" font-size="7.7" text-anchor="middle" fill="#222" >14 days</text>
<text x="0.0" y="0.0" font-size="7.9" text-anchor="middle" fill="#222" transform="translate(118.8,588) rotate(-90)">Log<tspan font-size="70%" dy="2">10</tspan><tspan dy="-2"> CFU/mL</tspan></text>
<text x="134.5" y="540.9" font-size="7.8" text-anchor="start" fill="#222" >P &lt; 0.0001</text>
<text x="182.7" y="540.9" font-size="7.8" text-anchor="start" fill="#222" >P &lt; 0.0001</text>
<line x1="142.4" y1="543.9" x2="157.3" y2="543.9" stroke="#888" stroke-width="1.1" />
<text x="168.7" y="549.7" font-size="7.8" text-anchor="middle" fill="#222" >ns</text>
<line x1="157.3" y1="552.3" x2="201.5" y2="552.3" stroke="#444" stroke-width="1.0" />
<path d="M179.7,552.3 L179.7,545.8 L217.2,545.8 L217.2,615.4" fill="none" stroke="#444" stroke-width="1.0" />
<circle cx="140.8" cy="643.4" r="2.6" fill="#fff" stroke="#f8b878" stroke-width="1.05" />
<circle cx="144.8" cy="643.4" r="2.6" fill="#fff" stroke="#f8b878" stroke-width="1.05" />
<line x1="157.7" y1="557.4" x2="157.7" y2="577.3" stroke="#1a9aaa" stroke-width="1.05" />
<line x1="155.4" y1="557.4" x2="160.0" y2="557.4" stroke="#1a9aaa" stroke-width="1.05" />
<line x1="155.4" y1="577.3" x2="160.0" y2="577.3" stroke="#1a9aaa" stroke-width="1.05" />
<line x1="152.9" y1="567.4" x2="162.5" y2="567.4" stroke="#1a9aaa" stroke-width="1.05" />
<circle cx="157.7" cy="557.6" r="2.6" fill="none" stroke="#1a9aaa" stroke-width="1.2075" />
<circle cx="157.7" cy="561.9" r="2.6" fill="none" stroke="#1a9aaa" stroke-width="1.2075" />
<circle cx="157.7" cy="569.6" r="2.6" fill="none" stroke="#1a9aaa" stroke-width="1.2075" />
<circle cx="157.7" cy="580.3" r="2.6" fill="none" stroke="#1a9aaa" stroke-width="1.2075" />
<line x1="172.5" y1="567.6" x2="172.5" y2="578.5" stroke="#8c8cf4" stroke-width="1.05" />
<line x1="170.2" y1="567.6" x2="174.8" y2="567.6" stroke="#8c8cf4" stroke-width="1.05" />
<line x1="170.2" y1="578.5" x2="174.8" y2="578.5" stroke="#8c8cf4" stroke-width="1.05" />
<line x1="167.7" y1="573.1" x2="177.3" y2="573.1" stroke="#8c8cf4" stroke-width="1.05" />
<circle cx="172.5" cy="568.4" r="2.6" fill="none" stroke="#8c8cf4" stroke-width="1.2075" />
<circle cx="168.3" cy="569.7" r="2.6" fill="none" stroke="#8c8cf4" stroke-width="1.2075" />
<circle cx="172.5" cy="573.7" r="2.6" fill="none" stroke="#8c8cf4" stroke-width="1.2075" />
<circle cx="172.5" cy="580.4" r="2.6" fill="none" stroke="#8c8cf4" stroke-width="1.2075" />
<line x1="187.1" y1="562.1" x2="187.1" y2="574.6" stroke="#2a2ae8" stroke-width="1.05" />
<line x1="184.8" y1="562.1" x2="189.4" y2="562.1" stroke="#2a2ae8" stroke-width="1.05" />
<line x1="184.8" y1="574.6" x2="189.4" y2="574.6" stroke="#2a2ae8" stroke-width="1.05" />
<line x1="182.3" y1="568.4" x2="191.9" y2="568.4" stroke="#2a2ae8" stroke-width="1.05" />
<circle cx="187.1" cy="560.3" r="2.6" fill="none" stroke="#2a2ae8" stroke-width="1.2075" />
<circle cx="187.1" cy="567.0" r="2.6" fill="none" stroke="#2a2ae8" stroke-width="1.2075" />
<circle cx="187.1" cy="571.0" r="2.6" fill="none" stroke="#2a2ae8" stroke-width="1.2075" />
<circle cx="187.1" cy="575.1" r="2.6" fill="none" stroke="#2a2ae8" stroke-width="1.2075" />
<line x1="202.5" y1="561.8" x2="202.5" y2="577.6" stroke="#4f9cf0" stroke-width="1.05" />
<line x1="200.2" y1="561.8" x2="204.8" y2="561.8" stroke="#4f9cf0" stroke-width="1.05" />
<line x1="200.2" y1="577.6" x2="204.8" y2="577.6" stroke="#4f9cf0" stroke-width="1.05" />
<line x1="197.7" y1="569.7" x2="207.3" y2="569.7" stroke="#4f9cf0" stroke-width="1.05" />
<circle cx="202.5" cy="561.7" r="2.6" fill="none" stroke="#4f9cf0" stroke-width="1.2075" />
<circle cx="202.5" cy="567.0" r="2.6" fill="none" stroke="#4f9cf0" stroke-width="1.2075" />
<circle cx="200.2" cy="569.7" r="2.6" fill="none" stroke="#4f9cf0" stroke-width="1.2075" />
<circle cx="202.5" cy="580.4" r="2.6" fill="none" stroke="#4f9cf0" stroke-width="1.2075" />
<circle cx="215.2" cy="643.4" r="2.6" fill="#fff" stroke="#ee1111" stroke-width="1.05" />
<circle cx="219.2" cy="643.4" r="2.6" fill="#fff" stroke="#ee1111" stroke-width="1.05" />
<line x1="242.7" y1="534.6" x2="242.7" y2="643.9" stroke="#222" stroke-width="1.1" />
<line x1="242.2" y1="643.4" x2="337.0" y2="643.4" stroke="#222" stroke-width="1.1" />
<line x1="240.1" y1="643.4" x2="242.7" y2="643.4" stroke="#222" stroke-width="1.0" />
<text x="239.4" y="645.9" font-size="7.4" text-anchor="end" fill="#333" >0</text>
<line x1="240.1" y1="621.7" x2="242.7" y2="621.7" stroke="#222" stroke-width="1.0" />
<text x="239.4" y="624.3" font-size="7.4" text-anchor="end" fill="#333" >1</text>
<line x1="240.1" y1="600.1" x2="242.7" y2="600.1" stroke="#222" stroke-width="1.0" />
<text x="239.4" y="602.6" font-size="7.4" text-anchor="end" fill="#333" >2</text>
<line x1="240.1" y1="578.4" x2="242.7" y2="578.4" stroke="#222" stroke-width="1.0" />
<text x="239.4" y="580.9" font-size="7.4" text-anchor="end" fill="#333" >3</text>
<line x1="240.1" y1="556.8" x2="242.7" y2="556.8" stroke="#222" stroke-width="1.0" />
<text x="239.4" y="559.3" font-size="7.4" text-anchor="end" fill="#333" >4</text>
<line x1="240.1" y1="535.1" x2="242.7" y2="535.1" stroke="#222" stroke-width="1.0" />
<text x="239.4" y="537.6" font-size="7.4" text-anchor="end" fill="#333" >5</text>
<text x="280.2" y="523.4" font-size="7.7" text-anchor="middle" fill="#222" >21 days</text>
<text x="0.0" y="0.0" font-size="7.9" text-anchor="middle" fill="#222" transform="translate(229,588) rotate(-90)">Log<tspan font-size="70%" dy="2">10</tspan><tspan dy="-2"> CFU/mL</tspan></text>
<text x="244.4" y="533.9" font-size="7.8" text-anchor="start" fill="#222" >P &lt; 0.0001</text>
<text x="292.6" y="533.9" font-size="7.8" text-anchor="start" fill="#222" >P &lt; 0.0001</text>
<line x1="252.1" y1="538.3" x2="267.2" y2="538.3" stroke="#888" stroke-width="1.1" />
<text x="279.0" y="540.9" font-size="7.8" text-anchor="middle" fill="#222" >ns</text>
<line x1="267.2" y1="543.9" x2="312.2" y2="543.9" stroke="#444" stroke-width="1.0" />
<path d="M289.5,543.9 L289.5,538.3 L327.5,538.3 L327.5,606.6" fill="none" stroke="#444" stroke-width="1.0" />
<circle cx="250.7" cy="643.4" r="2.6" fill="#fff" stroke="#f8b878" stroke-width="1.05" />
<circle cx="254.7" cy="643.4" r="2.6" fill="#fff" stroke="#f8b878" stroke-width="1.05" />
<line x1="267.6" y1="549.5" x2="267.6" y2="567.8" stroke="#1a9aaa" stroke-width="1.05" />
<line x1="265.3" y1="549.5" x2="269.9" y2="549.5" stroke="#1a9aaa" stroke-width="1.05" />
<line x1="265.3" y1="567.8" x2="269.9" y2="567.8" stroke="#1a9aaa" stroke-width="1.05" />
<line x1="262.8" y1="558.7" x2="272.4" y2="558.7" stroke="#1a9aaa" stroke-width="1.05" />
<circle cx="267.6" cy="547.0" r="2.6" fill="none" stroke="#1a9aaa" stroke-width="1.2075" />
<circle cx="267.6" cy="555.9" r="2.6" fill="none" stroke="#1a9aaa" stroke-width="1.2075" />
<circle cx="267.6" cy="564.6" r="2.6" fill="none" stroke="#1a9aaa" stroke-width="1.2075" />
<circle cx="263.4" cy="567.2" r="2.6" fill="none" stroke="#1a9aaa" stroke-width="1.2075" />
<line x1="282.8" y1="552.3" x2="282.8" y2="571.9" stroke="#8c8cf4" stroke-width="1.05" />
<line x1="280.5" y1="552.3" x2="285.1" y2="552.3" stroke="#8c8cf4" stroke-width="1.05" />
<line x1="280.5" y1="571.9" x2="285.1" y2="571.9" stroke="#8c8cf4" stroke-width="1.05" />
<line x1="278.0" y1="562.1" x2="287.6" y2="562.1" stroke="#8c8cf4" stroke-width="1.05" />
<circle cx="282.8" cy="549.6" r="2.6" fill="none" stroke="#8c8cf4" stroke-width="1.2075" />
<circle cx="282.8" cy="561.1" r="2.6" fill="none" stroke="#8c8cf4" stroke-width="1.2075" />
<circle cx="280.5" cy="564.6" r="2.6" fill="none" stroke="#8c8cf4" stroke-width="1.2075" />
<circle cx="282.8" cy="573.2" r="2.6" fill="none" stroke="#8c8cf4" stroke-width="1.2075" />
<line x1="297.3" y1="558.4" x2="297.3" y2="573.5" stroke="#2a2ae8" stroke-width="1.05" />
<line x1="295.0" y1="558.4" x2="299.6" y2="558.4" stroke="#2a2ae8" stroke-width="1.05" />
<line x1="295.0" y1="573.5" x2="299.6" y2="573.5" stroke="#2a2ae8" stroke-width="1.05" />
<line x1="292.5" y1="566.0" x2="302.1" y2="566.0" stroke="#2a2ae8" stroke-width="1.05" />
<circle cx="297.3" cy="555.2" r="2.6" fill="none" stroke="#2a2ae8" stroke-width="1.2075" />
<circle cx="297.3" cy="566.3" r="2.6" fill="none" stroke="#2a2ae8" stroke-width="1.2075" />
<circle cx="297.3" cy="570.6" r="2.6" fill="none" stroke="#2a2ae8" stroke-width="1.2075" />
<circle cx="293.1" cy="571.7" r="2.6" fill="none" stroke="#2a2ae8" stroke-width="1.2075" />
<line x1="312.6" y1="563.5" x2="312.6" y2="576.7" stroke="#4f9cf0" stroke-width="1.05" />
<line x1="310.3" y1="563.5" x2="314.9" y2="563.5" stroke="#4f9cf0" stroke-width="1.05" />
<line x1="310.3" y1="576.7" x2="314.9" y2="576.7" stroke="#4f9cf0" stroke-width="1.05" />
<line x1="307.8" y1="570.1" x2="317.4" y2="570.1" stroke="#4f9cf0" stroke-width="1.05" />
<circle cx="312.6" cy="562.8" r="2.6" fill="none" stroke="#4f9cf0" stroke-width="1.2075" />
<circle cx="310.3" cy="566.3" r="2.6" fill="none" stroke="#4f9cf0" stroke-width="1.2075" />
<circle cx="312.6" cy="574.3" r="2.6" fill="none" stroke="#4f9cf0" stroke-width="1.2075" />
<circle cx="308.4" cy="576.9" r="2.6" fill="none" stroke="#4f9cf0" stroke-width="1.2075" />
<circle cx="325.5" cy="643.4" r="2.6" fill="#fff" stroke="#ee1111" stroke-width="1.05" />
<circle cx="329.5" cy="643.4" r="2.6" fill="#fff" stroke="#ee1111" stroke-width="1.05" />
<text x="342.0" y="519.0" font-size="19.5" text-anchor="start" fill="#000" >G</text>
<text x="516.7" y="510.4" font-size="10.2" text-anchor="middle" fill="#111" font-style="italic">S. aureus</text>
<line x1="384.0" y1="513.9" x2="671.9" y2="513.9" stroke="#111" stroke-width="1.1" />
<line x1="367.4" y1="534.6" x2="367.4" y2="644.2" stroke="#222" stroke-width="1.1" />
<line x1="366.9" y1="643.7" x2="462.0" y2="643.7" stroke="#222" stroke-width="1.1" />
<line x1="364.8" y1="643.7" x2="367.4" y2="643.7" stroke="#222" stroke-width="1.0" />
<text x="364.1" y="646.2" font-size="7.4" text-anchor="end" fill="#333" >0</text>
<line x1="364.8" y1="616.6" x2="367.4" y2="616.6" stroke="#222" stroke-width="1.0" />
<text x="364.1" y="619.1" font-size="7.4" text-anchor="end" fill="#333" >2</text>
<line x1="364.8" y1="589.4" x2="367.4" y2="589.4" stroke="#222" stroke-width="1.0" />
<text x="364.1" y="591.9" font-size="7.4" text-anchor="end" fill="#333" >4</text>
<line x1="364.8" y1="562.2" x2="367.4" y2="562.2" stroke="#222" stroke-width="1.0" />
<text x="364.1" y="564.8" font-size="7.4" text-anchor="end" fill="#333" >6</text>
<line x1="364.8" y1="535.1" x2="367.4" y2="535.1" stroke="#222" stroke-width="1.0" />
<text x="364.1" y="537.6" font-size="7.4" text-anchor="end" fill="#333" >8</text>
<text x="403.0" y="523.7" font-size="7.7" text-anchor="middle" fill="#222" >7 days</text>
<text x="0.0" y="0.0" font-size="7.9" text-anchor="middle" fill="#222" transform="translate(353.7,587.3) rotate(-90)">Log<tspan font-size="70%" dy="2">10</tspan><tspan dy="-2"> CFU/mL</tspan></text>
<text x="368.9" y="538.9" font-size="7.8" text-anchor="start" fill="#222" >P &lt; 0.0001</text>
<text x="417.7" y="538.9" font-size="7.8" text-anchor="start" fill="#222" >P &lt; 0.0001</text>
<line x1="377.1" y1="541.8" x2="391.7" y2="541.8" stroke="#888" stroke-width="1.1" />
<text x="403.6" y="547.4" font-size="7.8" text-anchor="middle" fill="#222" >ns</text>
<line x1="391.7" y1="550.3" x2="436.7" y2="550.3" stroke="#444" stroke-width="1.0" />
<path d="M414.5,550.3 L414.5,543.3 L452.4,543.3 L452.4,613.5" fill="none" stroke="#444" stroke-width="1.0" />
<circle cx="375.4" cy="643.7" r="2.6" fill="#fff" stroke="#f8b878" stroke-width="1.05" />
<circle cx="379.4" cy="643.7" r="2.6" fill="#fff" stroke="#f8b878" stroke-width="1.05" />
<line x1="392.6" y1="557.5" x2="392.6" y2="571.6" stroke="#1a9aaa" stroke-width="1.05" />
<line x1="390.3" y1="557.5" x2="394.9" y2="557.5" stroke="#1a9aaa" stroke-width="1.05" />
<line x1="390.3" y1="571.6" x2="394.9" y2="571.6" stroke="#1a9aaa" stroke-width="1.05" />
<line x1="387.8" y1="564.6" x2="397.4" y2="564.6" stroke="#1a9aaa" stroke-width="1.05" />
<circle cx="392.6" cy="557.9" r="2.6" fill="none" stroke="#1a9aaa" stroke-width="1.2075" />
<circle cx="390.3" cy="560.8" r="2.6" fill="none" stroke="#1a9aaa" stroke-width="1.2075" />
<circle cx="392.6" cy="565.5" r="2.6" fill="none" stroke="#1a9aaa" stroke-width="1.2075" />
<circle cx="392.6" cy="574.1" r="2.6" fill="none" stroke="#1a9aaa" stroke-width="1.2075" />
<line x1="407.4" y1="562.8" x2="407.4" y2="575.4" stroke="#8c8cf4" stroke-width="1.05" />
<line x1="405.1" y1="562.8" x2="409.7" y2="562.8" stroke="#8c8cf4" stroke-width="1.05" />
<line x1="405.1" y1="575.4" x2="409.7" y2="575.4" stroke="#8c8cf4" stroke-width="1.05" />
<line x1="402.6" y1="569.1" x2="412.2" y2="569.1" stroke="#8c8cf4" stroke-width="1.05" />
<circle cx="407.4" cy="559.8" r="2.6" fill="none" stroke="#8c8cf4" stroke-width="1.2075" />
<circle cx="407.4" cy="570.3" r="2.6" fill="none" stroke="#8c8cf4" stroke-width="1.2075" />
<circle cx="405.1" cy="573.1" r="2.6" fill="none" stroke="#8c8cf4" stroke-width="1.2075" />
<circle cx="409.7" cy="573.1" r="2.6" fill="none" stroke="#8c8cf4" stroke-width="1.2075" />
<line x1="422.6" y1="558.3" x2="422.6" y2="568.9" stroke="#2a2ae8" stroke-width="1.05" />
<line x1="420.3" y1="558.3" x2="424.9" y2="558.3" stroke="#2a2ae8" stroke-width="1.05" />
<line x1="420.3" y1="568.9" x2="424.9" y2="568.9" stroke="#2a2ae8" stroke-width="1.05" />
<line x1="417.8" y1="563.6" x2="427.4" y2="563.6" stroke="#2a2ae8" stroke-width="1.05" />
<circle cx="422.6" cy="558.9" r="2.6" fill="none" stroke="#2a2ae8" stroke-width="1.2075" />
<circle cx="418.4" cy="559.8" r="2.6" fill="none" stroke="#2a2ae8" stroke-width="1.2075" />
<circle cx="422.6" cy="565.5" r="2.6" fill="none" stroke="#2a2ae8" stroke-width="1.2075" />
<circle cx="422.6" cy="570.3" r="2.6" fill="none" stroke="#2a2ae8" stroke-width="1.2075" />
<line x1="437.6" y1="564.7" x2="437.6" y2="585.3" stroke="#4f9cf0" stroke-width="1.05" />
<line x1="435.3" y1="564.7" x2="439.9" y2="564.7" stroke="#4f9cf0" stroke-width="1.05" />
<line x1="435.3" y1="585.3" x2="439.9" y2="585.3" stroke="#4f9cf0" stroke-width="1.05" />
<line x1="432.8" y1="575.0" x2="442.4" y2="575.0" stroke="#4f9cf0" stroke-width="1.05" />
<circle cx="437.6" cy="560.8" r="2.6" fill="none" stroke="#4f9cf0" stroke-width="1.2075" />
<circle cx="437.6" cy="575.0" r="2.6" fill="none" stroke="#4f9cf0" stroke-width="1.2075" />
<circle cx="437.6" cy="579.8" r="2.6" fill="none" stroke="#4f9cf0" stroke-width="1.2075" />
<circle cx="437.6" cy="584.5" r="2.6" fill="none" stroke="#4f9cf0" stroke-width="1.2075" />
<line x1="452.4" y1="621.4" x2="452.4" y2="632.5" stroke="#ee1111" stroke-width="1.05" />
<line x1="450.1" y1="621.4" x2="454.7" y2="621.4" stroke="#ee1111" stroke-width="1.05" />
<line x1="450.1" y1="632.5" x2="454.7" y2="632.5" stroke="#ee1111" stroke-width="1.05" />
<line x1="447.6" y1="627.0" x2="457.2" y2="627.0" stroke="#ee1111" stroke-width="1.05" />
<circle cx="452.4" cy="621.6" r="2.6" fill="none" stroke="#ee1111" stroke-width="1.2075" />
<circle cx="452.4" cy="625.4" r="2.6" fill="none" stroke="#ee1111" stroke-width="1.2075" />
<circle cx="448.2" cy="626.2" r="2.6" fill="none" stroke="#ee1111" stroke-width="1.2075" />
<circle cx="452.4" cy="634.7" r="2.6" fill="none" stroke="#ee1111" stroke-width="1.2075" />
<line x1="479.1" y1="535.2" x2="479.1" y2="644.2" stroke="#222" stroke-width="1.1" />
<line x1="478.6" y1="643.7" x2="573.6" y2="643.7" stroke="#222" stroke-width="1.1" />
<line x1="476.5" y1="643.7" x2="479.1" y2="643.7" stroke="#222" stroke-width="1.0" />
<text x="475.8" y="646.2" font-size="7.4" text-anchor="end" fill="#333" >0</text>
<line x1="476.5" y1="616.7" x2="479.1" y2="616.7" stroke="#222" stroke-width="1.0" />
<text x="475.8" y="619.2" font-size="7.4" text-anchor="end" fill="#333" >2</text>
<line x1="476.5" y1="589.7" x2="479.1" y2="589.7" stroke="#222" stroke-width="1.0" />
<text x="475.8" y="592.2" font-size="7.4" text-anchor="end" fill="#333" >4</text>
<line x1="476.5" y1="562.7" x2="479.1" y2="562.7" stroke="#222" stroke-width="1.0" />
<text x="475.8" y="565.2" font-size="7.4" text-anchor="end" fill="#333" >6</text>
<line x1="476.5" y1="535.7" x2="479.1" y2="535.7" stroke="#222" stroke-width="1.0" />
<text x="475.8" y="538.2" font-size="7.4" text-anchor="end" fill="#333" >8</text>
<text x="514.8" y="523.7" font-size="7.7" text-anchor="middle" fill="#222" >14 days</text>
<text x="0.0" y="0.0" font-size="7.9" text-anchor="middle" fill="#222" transform="translate(464.5,587.3) rotate(-90)">Log<tspan font-size="70%" dy="2">10</tspan><tspan dy="-2"> CFU/mL</tspan></text>
<text x="480.6" y="541.8" font-size="7.8" text-anchor="start" fill="#222" >P &lt; 0.0001</text>
<text x="528.6" y="541.8" font-size="7.8" text-anchor="start" fill="#222" >P &lt; 0.0001</text>
<line x1="488.8" y1="544.6" x2="504.0" y2="544.6" stroke="#888" stroke-width="1.1" />
<text x="515.4" y="549.7" font-size="7.8" text-anchor="middle" fill="#222" >ns</text>
<line x1="504.0" y1="552.6" x2="548.0" y2="552.6" stroke="#444" stroke-width="1.0" />
<path d="M525.2,552.6 L525.2,545.5 L563.6,545.5 L563.6,615.4" fill="none" stroke="#444" stroke-width="1.0" />
<circle cx="487.2" cy="643.7" r="2.6" fill="#fff" stroke="#f8b878" stroke-width="1.05" />
<circle cx="491.2" cy="643.7" r="2.6" fill="#fff" stroke="#f8b878" stroke-width="1.05" />
<line x1="504.0" y1="557.2" x2="504.0" y2="572.4" stroke="#1a9aaa" stroke-width="1.05" />
<line x1="501.7" y1="557.2" x2="506.3" y2="557.2" stroke="#1a9aaa" stroke-width="1.05" />
<line x1="501.7" y1="572.4" x2="506.3" y2="572.4" stroke="#1a9aaa" stroke-width="1.05" />
<line x1="499.2" y1="564.8" x2="508.8" y2="564.8" stroke="#1a9aaa" stroke-width="1.05" />
<circle cx="504.0" cy="558.8" r="2.6" fill="none" stroke="#1a9aaa" stroke-width="1.2075" />
<circle cx="501.7" cy="561.8" r="2.6" fill="none" stroke="#1a9aaa" stroke-width="1.2075" />
<circle cx="506.3" cy="562.7" r="2.6" fill="none" stroke="#1a9aaa" stroke-width="1.2075" />
<circle cx="504.0" cy="575.9" r="2.6" fill="none" stroke="#1a9aaa" stroke-width="1.2075" />
<line x1="519.0" y1="560.7" x2="519.0" y2="571.5" stroke="#8c8cf4" stroke-width="1.05" />
<line x1="516.7" y1="560.7" x2="521.3" y2="560.7" stroke="#8c8cf4" stroke-width="1.05" />
<line x1="516.7" y1="571.5" x2="521.3" y2="571.5" stroke="#8c8cf4" stroke-width="1.05" />
<line x1="514.2" y1="566.1" x2="523.8" y2="566.1" stroke="#8c8cf4" stroke-width="1.05" />
<circle cx="519.0" cy="558.8" r="2.6" fill="none" stroke="#8c8cf4" stroke-width="1.2075" />
<circle cx="519.0" cy="565.4" r="2.6" fill="none" stroke="#8c8cf4" stroke-width="1.2075" />
<circle cx="519.0" cy="569.5" r="2.6" fill="none" stroke="#8c8cf4" stroke-width="1.2075" />
<circle cx="514.8" cy="570.8" r="2.6" fill="none" stroke="#8c8cf4" stroke-width="1.2075" />
<line x1="533.8" y1="558.1" x2="533.8" y2="565.1" stroke="#2a2ae8" stroke-width="1.05" />
<line x1="531.5" y1="558.1" x2="536.1" y2="558.1" stroke="#2a2ae8" stroke-width="1.05" />
<line x1="531.5" y1="565.1" x2="536.1" y2="565.1" stroke="#2a2ae8" stroke-width="1.05" />
<line x1="529.0" y1="561.6" x2="538.6" y2="561.6" stroke="#2a2ae8" stroke-width="1.05" />
<circle cx="533.8" cy="557.8" r="2.6" fill="none" stroke="#2a2ae8" stroke-width="1.2075" />
<circle cx="529.6" cy="560.0" r="2.6" fill="none" stroke="#2a2ae8" stroke-width="1.2075" />
<circle cx="533.8" cy="562.7" r="2.6" fill="none" stroke="#2a2ae8" stroke-width="1.2075" />
<circle cx="531.5" cy="565.9" r="2.6" fill="none" stroke="#2a2ae8" stroke-width="1.2075" />
<line x1="548.6" y1="563.5" x2="548.6" y2="578.7" stroke="#4f9cf0" stroke-width="1.05" />
<line x1="546.3" y1="563.5" x2="550.9" y2="563.5" stroke="#4f9cf0" stroke-width="1.05" />
<line x1="546.3" y1="578.7" x2="550.9" y2="578.7" stroke="#4f9cf0" stroke-width="1.05" />
<line x1="543.8" y1="571.1" x2="553.4" y2="571.1" stroke="#4f9cf0" stroke-width="1.05" />
<circle cx="548.6" cy="560.7" r="2.6" fill="none" stroke="#4f9cf0" stroke-width="1.2075" />
<circle cx="548.6" cy="570.8" r="2.6" fill="none" stroke="#4f9cf0" stroke-width="1.2075" />
<circle cx="548.6" cy="574.9" r="2.6" fill="none" stroke="#4f9cf0" stroke-width="1.2075" />
<circle cx="546.3" cy="578.2" r="2.6" fill="none" stroke="#4f9cf0" stroke-width="1.2075" />
<circle cx="561.6" cy="643.7" r="2.6" fill="#fff" stroke="#ee1111" stroke-width="1.05" />
<circle cx="565.6" cy="643.7" r="2.6" fill="#fff" stroke="#ee1111" stroke-width="1.05" />
<line x1="590.0" y1="535.1" x2="590.0" y2="644.2" stroke="#222" stroke-width="1.1" />
<line x1="589.5" y1="643.7" x2="684.0" y2="643.7" stroke="#222" stroke-width="1.1" />
<line x1="587.4" y1="643.7" x2="590.0" y2="643.7" stroke="#222" stroke-width="1.0" />
<text x="586.7" y="646.2" font-size="7.4" text-anchor="end" fill="#333" >0</text>
<line x1="587.4" y1="607.7" x2="590.0" y2="607.7" stroke="#222" stroke-width="1.0" />
<text x="586.7" y="610.2" font-size="7.4" text-anchor="end" fill="#333" >2</text>
<line x1="587.4" y1="571.6" x2="590.0" y2="571.6" stroke="#222" stroke-width="1.0" />
<text x="586.7" y="574.1" font-size="7.4" text-anchor="end" fill="#333" >4</text>
<line x1="587.4" y1="535.6" x2="590.0" y2="535.6" stroke="#222" stroke-width="1.0" />
<text x="586.7" y="538.1" font-size="7.4" text-anchor="end" fill="#333" >6</text>
<text x="628.1" y="523.7" font-size="7.7" text-anchor="middle" fill="#222" >21 days</text>
<text x="0.0" y="0.0" font-size="7.9" text-anchor="middle" fill="#222" transform="translate(576.4,587.6) rotate(-90)">Log<tspan font-size="70%" dy="2">10</tspan><tspan dy="-2"> CFU/mL</tspan></text>
<text x="591.3" y="539.4" font-size="7.8" text-anchor="start" fill="#222" >P &lt; 0.0001</text>
<text x="640.3" y="539.4" font-size="7.8" text-anchor="start" fill="#222" >P &lt; 0.0001</text>
<line x1="600.0" y1="545.2" x2="614.9" y2="545.2" stroke="#888" stroke-width="1.1" />
<text x="626.3" y="549.1" font-size="7.8" text-anchor="middle" fill="#222" >ns</text>
<line x1="614.9" y1="554.3" x2="659.6" y2="554.3" stroke="#444" stroke-width="1.0" />
<path d="M637.2,554.3 L637.2,545.2 L675,545.2 L675,617.4" fill="none" stroke="#444" stroke-width="1.0" />
<circle cx="598.0" cy="643.7" r="2.6" fill="#fff" stroke="#f8b878" stroke-width="1.05" />
<circle cx="602.0" cy="643.7" r="2.6" fill="#fff" stroke="#f8b878" stroke-width="1.05" />
<line x1="615.3" y1="562.1" x2="615.3" y2="574.5" stroke="#1a9aaa" stroke-width="1.05" />
<line x1="613.0" y1="562.1" x2="617.6" y2="562.1" stroke="#1a9aaa" stroke-width="1.05" />
<line x1="613.0" y1="574.5" x2="617.6" y2="574.5" stroke="#1a9aaa" stroke-width="1.05" />
<line x1="610.5" y1="568.3" x2="620.1" y2="568.3" stroke="#1a9aaa" stroke-width="1.05" />
<circle cx="615.3" cy="562.4" r="2.6" fill="none" stroke="#1a9aaa" stroke-width="1.2075" />
<circle cx="611.1" cy="564.8" r="2.6" fill="none" stroke="#1a9aaa" stroke-width="1.2075" />
<circle cx="615.3" cy="569.5" r="2.6" fill="none" stroke="#1a9aaa" stroke-width="1.2075" />
<circle cx="615.3" cy="576.5" r="2.6" fill="none" stroke="#1a9aaa" stroke-width="1.2075" />
<line x1="630.2" y1="564.7" x2="630.2" y2="582.8" stroke="#8c8cf4" stroke-width="1.05" />
<line x1="627.9" y1="564.7" x2="632.5" y2="564.7" stroke="#8c8cf4" stroke-width="1.05" />
<line x1="627.9" y1="582.8" x2="632.5" y2="582.8" stroke="#8c8cf4" stroke-width="1.05" />
<line x1="625.4" y1="573.7" x2="635.0" y2="573.7" stroke="#8c8cf4" stroke-width="1.05" />
<circle cx="630.2" cy="560.3" r="2.6" fill="none" stroke="#8c8cf4" stroke-width="1.2075" />
<circle cx="630.2" cy="576.5" r="2.6" fill="none" stroke="#8c8cf4" stroke-width="1.2075" />
<circle cx="626.0" cy="578.3" r="2.6" fill="none" stroke="#8c8cf4" stroke-width="1.2075" />
<circle cx="632.5" cy="579.7" r="2.6" fill="none" stroke="#8c8cf4" stroke-width="1.2075" />
<line x1="645.2" y1="563.1" x2="645.2" y2="578.9" stroke="#2a2ae8" stroke-width="1.05" />
<line x1="642.9" y1="563.1" x2="647.5" y2="563.1" stroke="#2a2ae8" stroke-width="1.05" />
<line x1="642.9" y1="578.9" x2="647.5" y2="578.9" stroke="#2a2ae8" stroke-width="1.05" />
<line x1="640.4" y1="571.0" x2="650.0" y2="571.0" stroke="#2a2ae8" stroke-width="1.05" />
<circle cx="645.2" cy="562.6" r="2.6" fill="none" stroke="#2a2ae8" stroke-width="1.2075" />
<circle cx="645.2" cy="566.2" r="2.6" fill="none" stroke="#2a2ae8" stroke-width="1.2075" />
<circle cx="645.2" cy="575.2" r="2.6" fill="none" stroke="#2a2ae8" stroke-width="1.2075" />
<circle cx="645.2" cy="579.7" r="2.6" fill="none" stroke="#2a2ae8" stroke-width="1.2075" />
<line x1="660.5" y1="578.1" x2="660.5" y2="585.5" stroke="#4f9cf0" stroke-width="1.05" />
<line x1="658.2" y1="578.1" x2="662.8" y2="578.1" stroke="#4f9cf0" stroke-width="1.05" />
<line x1="658.2" y1="585.5" x2="662.8" y2="585.5" stroke="#4f9cf0" stroke-width="1.05" />
<line x1="655.7" y1="581.8" x2="665.3" y2="581.8" stroke="#4f9cf0" stroke-width="1.05" />
<circle cx="660.5" cy="577.0" r="2.6" fill="none" stroke="#4f9cf0" stroke-width="1.2075" />
<circle cx="660.5" cy="581.5" r="2.6" fill="none" stroke="#4f9cf0" stroke-width="1.2075" />
<circle cx="656.3" cy="582.4" r="2.6" fill="none" stroke="#4f9cf0" stroke-width="1.2075" />
<circle cx="660.5" cy="586.0" r="2.6" fill="none" stroke="#4f9cf0" stroke-width="1.2075" />
<circle cx="673.0" cy="643.7" r="2.6" fill="#fff" stroke="#ee1111" stroke-width="1.05" />
<circle cx="677.0" cy="643.7" r="2.6" fill="#fff" stroke="#ee1111" stroke-width="1.05" />
<text x="1.0" y="849.5" font-size="19.5" text-anchor="start" fill="#000" >J</text>
<line x1="22.4" y1="857.6" x2="22.4" y2="963.7" stroke="#222" stroke-width="1.1" />
<line x1="21.9" y1="963.2" x2="113.9" y2="963.2" stroke="#222" stroke-width="1.1" />
<line x1="19.8" y1="963.2" x2="22.4" y2="963.2" stroke="#222" stroke-width="1.0" />
<text x="19.1" y="965.7" font-size="7.4" text-anchor="end" fill="#333" >0.0</text>
<line x1="19.8" y1="928.2" x2="22.4" y2="928.2" stroke="#222" stroke-width="1.0" />
<text x="19.1" y="930.7" font-size="7.4" text-anchor="end" fill="#333" >0.5</text>
<line x1="19.8" y1="893.1" x2="22.4" y2="893.1" stroke="#222" stroke-width="1.0" />
<text x="19.1" y="895.6" font-size="7.4" text-anchor="end" fill="#333" >1.0</text>
<line x1="19.8" y1="858.1" x2="22.4" y2="858.1" stroke="#222" stroke-width="1.0" />
<text x="19.1" y="860.6" font-size="7.4" text-anchor="end" fill="#333" >1.5</text>
<text x="67.4" y="848.1" font-size="7.7" text-anchor="middle" fill="#222" >14 days</text>
<text x="0.0" y="0.0" font-size="7.4" text-anchor="middle" fill="#222" transform="translate(5,909) rotate(-90)">Bacterial count (relative to PBS)</text>
<text x="23.7" y="863.0" font-size="7.8" text-anchor="start" fill="#222" >P &lt; 0.0001</text>
<text x="69.7" y="863.9" font-size="7.8" text-anchor="start" fill="#222" >P &lt; 0.0001</text>
<line x1="31.9" y1="866.2" x2="45.9" y2="866.2" stroke="#888" stroke-width="1.1" />
<text x="57.5" y="871.8" font-size="7.8" text-anchor="middle" fill="#222" >ns</text>
<line x1="45.9" y1="873.9" x2="89.7" y2="873.9" stroke="#444" stroke-width="1.0" />
<path d="M66.9,873.9 L66.9,867.4 L104.6,867.4 L104.6,908.6" fill="none" stroke="#444" stroke-width="1.0" />
<circle cx="30.4" cy="963.2" r="2.6" fill="#fff" stroke="#f8b878" stroke-width="1.05" />
<circle cx="34.4" cy="963.2" r="2.6" fill="#fff" stroke="#f8b878" stroke-width="1.05" />
<line x1="46.4" y1="883.9" x2="46.4" y2="905.2" stroke="#1a9aaa" stroke-width="1.05" />
<line x1="44.1" y1="883.9" x2="48.7" y2="883.9" stroke="#1a9aaa" stroke-width="1.05" />
<line x1="44.1" y1="905.2" x2="48.7" y2="905.2" stroke="#1a9aaa" stroke-width="1.05" />
<line x1="41.6" y1="894.5" x2="51.2" y2="894.5" stroke="#1a9aaa" stroke-width="1.05" />
<circle cx="46.4" cy="880.5" r="2.6" fill="none" stroke="#1a9aaa" stroke-width="1.2075" />
<circle cx="46.4" cy="893.1" r="2.6" fill="none" stroke="#1a9aaa" stroke-width="1.2075" />
<circle cx="46.4" cy="898.7" r="2.6" fill="none" stroke="#1a9aaa" stroke-width="1.2075" />
<circle cx="46.4" cy="905.7" r="2.6" fill="none" stroke="#1a9aaa" stroke-width="1.2075" />
<line x1="61.0" y1="883.5" x2="61.0" y2="902.4" stroke="#8c8cf4" stroke-width="1.05" />
<line x1="58.7" y1="883.5" x2="63.3" y2="883.5" stroke="#8c8cf4" stroke-width="1.05" />
<line x1="58.7" y1="902.4" x2="63.3" y2="902.4" stroke="#8c8cf4" stroke-width="1.05" />
<line x1="56.2" y1="893.0" x2="65.8" y2="893.0" stroke="#8c8cf4" stroke-width="1.05" />
<circle cx="61.0" cy="881.9" r="2.6" fill="none" stroke="#8c8cf4" stroke-width="1.2075" />
<circle cx="61.0" cy="888.2" r="2.6" fill="none" stroke="#8c8cf4" stroke-width="1.2075" />
<circle cx="61.0" cy="900.1" r="2.6" fill="none" stroke="#8c8cf4" stroke-width="1.2075" />
<circle cx="56.8" cy="901.5" r="2.6" fill="none" stroke="#8c8cf4" stroke-width="1.2075" />
<line x1="75.3" y1="878.3" x2="75.3" y2="893.9" stroke="#2a2ae8" stroke-width="1.05" />
<line x1="73.0" y1="878.3" x2="77.6" y2="878.3" stroke="#2a2ae8" stroke-width="1.05" />
<line x1="73.0" y1="893.9" x2="77.6" y2="893.9" stroke="#2a2ae8" stroke-width="1.05" />
<line x1="70.5" y1="886.1" x2="80.1" y2="886.1" stroke="#2a2ae8" stroke-width="1.05" />
<circle cx="75.3" cy="877.0" r="2.6" fill="none" stroke="#2a2ae8" stroke-width="1.2075" />
<circle cx="75.3" cy="882.6" r="2.6" fill="none" stroke="#2a2ae8" stroke-width="1.2075" />
<circle cx="75.3" cy="890.3" r="2.6" fill="none" stroke="#2a2ae8" stroke-width="1.2075" />
<circle cx="75.3" cy="894.5" r="2.6" fill="none" stroke="#2a2ae8" stroke-width="1.2075" />
<line x1="89.9" y1="881.2" x2="89.9" y2="888.2" stroke="#4f9cf0" stroke-width="1.05" />
<line x1="87.6" y1="881.2" x2="92.2" y2="881.2" stroke="#4f9cf0" stroke-width="1.05" />
<line x1="87.6" y1="888.2" x2="92.2" y2="888.2" stroke="#4f9cf0" stroke-width="1.05" />
<line x1="85.1" y1="884.7" x2="94.7" y2="884.7" stroke="#4f9cf0" stroke-width="1.05" />
<circle cx="89.9" cy="881.9" r="2.6" fill="none" stroke="#4f9cf0" stroke-width="1.2075" />
<circle cx="85.7" cy="882.6" r="2.6" fill="none" stroke="#4f9cf0" stroke-width="1.2075" />
<circle cx="92.2" cy="884.7" r="2.6" fill="none" stroke="#4f9cf0" stroke-width="1.2075" />
<circle cx="89.9" cy="889.6" r="2.6" fill="none" stroke="#4f9cf0" stroke-width="1.2075" />
<circle cx="102.6" cy="963.2" r="2.6" fill="#fff" stroke="#ee1111" stroke-width="1.05" />
<circle cx="106.6" cy="963.2" r="2.6" fill="#fff" stroke="#ee1111" stroke-width="1.05" />
<line x1="137.2" y1="858.2" x2="137.2" y2="963.4" stroke="#222" stroke-width="1.1" />
<line x1="136.7" y1="962.9" x2="228.0" y2="962.9" stroke="#222" stroke-width="1.1" />
<line x1="134.6" y1="962.9" x2="137.2" y2="962.9" stroke="#222" stroke-width="1.0" />
<text x="133.9" y="965.4" font-size="7.4" text-anchor="end" fill="#333" >0.0</text>
<line x1="134.6" y1="936.9" x2="137.2" y2="936.9" stroke="#222" stroke-width="1.0" />
<text x="133.9" y="939.4" font-size="7.4" text-anchor="end" fill="#333" >0.4</text>
<line x1="134.6" y1="910.8" x2="137.2" y2="910.8" stroke="#222" stroke-width="1.0" />
<text x="133.9" y="913.3" font-size="7.4" text-anchor="end" fill="#333" >0.8</text>
<line x1="134.6" y1="884.8" x2="137.2" y2="884.8" stroke="#222" stroke-width="1.0" />
<text x="133.9" y="887.3" font-size="7.4" text-anchor="end" fill="#333" >1.2</text>
<line x1="134.6" y1="858.7" x2="137.2" y2="858.7" stroke="#222" stroke-width="1.0" />
<text x="133.9" y="861.2" font-size="7.4" text-anchor="end" fill="#333" >1.6</text>
<text x="182.7" y="848.1" font-size="7.7" text-anchor="middle" fill="#222" >21 days</text>
<text x="0.0" y="0.0" font-size="7.4" text-anchor="middle" fill="#222" transform="translate(119.8,909) rotate(-90)">Bacterial count (relative to PBS)</text>
<text x="138.9" y="859.5" font-size="7.8" text-anchor="start" fill="#222" >P &lt; 0.0001</text>
<text x="185.0" y="858.7" font-size="7.8" text-anchor="start" fill="#222" >P &lt; 0.0001</text>
<line x1="146.8" y1="863.0" x2="161.2" y2="863.0" stroke="#888" stroke-width="1.1" />
<text x="173.1" y="866.5" font-size="7.8" text-anchor="middle" fill="#222" >ns</text>
<line x1="161.2" y1="869.2" x2="204.6" y2="869.2" stroke="#444" stroke-width="1.0" />
<path d="M182.4,869.2 L182.4,862.7 L219.5,862.7 L219.5,903.3" fill="none" stroke="#444" stroke-width="1.0" />
<circle cx="144.8" cy="962.9" r="2.6" fill="#fff" stroke="#f8b878" stroke-width="1.05" />
<circle cx="148.8" cy="962.9" r="2.6" fill="#fff" stroke="#f8b878" stroke-width="1.05" />
<line x1="161.2" y1="880.7" x2="161.2" y2="912.2" stroke="#1a9aaa" stroke-width="1.05" />
<line x1="158.9" y1="880.7" x2="163.5" y2="880.7" stroke="#1a9aaa" stroke-width="1.05" />
<line x1="158.9" y1="912.2" x2="163.5" y2="912.2" stroke="#1a9aaa" stroke-width="1.05" />
<line x1="156.4" y1="896.5" x2="166.0" y2="896.5" stroke="#1a9aaa" stroke-width="1.05" />
<circle cx="161.2" cy="873.0" r="2.6" fill="none" stroke="#1a9aaa" stroke-width="1.2075" />
<circle cx="161.2" cy="901.7" r="2.6" fill="none" stroke="#1a9aaa" stroke-width="1.2075" />
<circle cx="158.9" cy="904.9" r="2.6" fill="none" stroke="#1a9aaa" stroke-width="1.2075" />
<circle cx="163.5" cy="906.2" r="2.6" fill="none" stroke="#1a9aaa" stroke-width="1.2075" />
<line x1="175.7" y1="893.5" x2="175.7" y2="904.0" stroke="#8c8cf4" stroke-width="1.05" />
<line x1="173.4" y1="893.5" x2="178.0" y2="893.5" stroke="#8c8cf4" stroke-width="1.05" />
<line x1="173.4" y1="904.0" x2="178.0" y2="904.0" stroke="#8c8cf4" stroke-width="1.05" />
<line x1="170.9" y1="898.8" x2="180.5" y2="898.8" stroke="#8c8cf4" stroke-width="1.05" />
<circle cx="175.7" cy="891.9" r="2.6" fill="none" stroke="#8c8cf4" stroke-width="1.2075" />
<circle cx="175.7" cy="897.8" r="2.6" fill="none" stroke="#8c8cf4" stroke-width="1.2075" />
<circle cx="173.4" cy="901.0" r="2.6" fill="none" stroke="#8c8cf4" stroke-width="1.2075" />
<circle cx="175.7" cy="904.3" r="2.6" fill="none" stroke="#8c8cf4" stroke-width="1.2075" />
<line x1="190.2" y1="883.2" x2="190.2" y2="907.5" stroke="#2a2ae8" stroke-width="1.05" />
<line x1="187.9" y1="883.2" x2="192.5" y2="883.2" stroke="#2a2ae8" stroke-width="1.05" />
<line x1="187.9" y1="907.5" x2="192.5" y2="907.5" stroke="#2a2ae8" stroke-width="1.05" />
<line x1="185.4" y1="895.3" x2="195.0" y2="895.3" stroke="#2a2ae8" stroke-width="1.05" />
<circle cx="190.2" cy="888.0" r="2.6" fill="none" stroke="#2a2ae8" stroke-width="1.2075" />
<circle cx="186.0" cy="888.7" r="2.6" fill="none" stroke="#2a2ae8" stroke-width="1.2075" />
<circle cx="192.5" cy="891.3" r="2.6" fill="none" stroke="#2a2ae8" stroke-width="1.2075" />
<circle cx="190.2" cy="913.4" r="2.6" fill="none" stroke="#2a2ae8" stroke-width="1.2075" />
<line x1="205.0" y1="888.7" x2="205.0" y2="902.9" stroke="#4f9cf0" stroke-width="1.05" />
<line x1="202.7" y1="888.7" x2="207.3" y2="888.7" stroke="#4f9cf0" stroke-width="1.05" />
<line x1="202.7" y1="902.9" x2="207.3" y2="902.9" stroke="#4f9cf0" stroke-width="1.05" />
<line x1="200.2" y1="895.8" x2="209.8" y2="895.8" stroke="#4f9cf0" stroke-width="1.05" />
<circle cx="205.0" cy="888.0" r="2.6" fill="none" stroke="#4f9cf0" stroke-width="1.2075" />
<circle cx="205.0" cy="892.6" r="2.6" fill="none" stroke="#4f9cf0" stroke-width="1.2075" />
<circle cx="205.0" cy="898.4" r="2.6" fill="none" stroke="#4f9cf0" stroke-width="1.2075" />
<circle cx="205.0" cy="904.3" r="2.6" fill="none" stroke="#4f9cf0" stroke-width="1.2075" />
<circle cx="217.5" cy="962.9" r="2.6" fill="#fff" stroke="#ee1111" stroke-width="1.05" />
<circle cx="221.5" cy="962.9" r="2.6" fill="#fff" stroke="#ee1111" stroke-width="1.05" />
<text x="222.0" y="849.8" font-size="19.5" text-anchor="start" fill="#000" >K</text>
<line x1="255.1" y1="858.2" x2="255.1" y2="963.0" stroke="#222" stroke-width="1.1" />
<line x1="254.6" y1="962.5" x2="347.2" y2="962.5" stroke="#222" stroke-width="1.1" />
<line x1="252.5" y1="962.5" x2="255.1" y2="962.5" stroke="#222" stroke-width="1.0" />
<text x="251.8" y="965.0" font-size="7.4" text-anchor="end" fill="#333" >0</text>
<line x1="252.5" y1="936.5" x2="255.1" y2="936.5" stroke="#222" stroke-width="1.0" />
<text x="251.8" y="939.1" font-size="7.4" text-anchor="end" fill="#333" >3</text>
<line x1="252.5" y1="910.6" x2="255.1" y2="910.6" stroke="#222" stroke-width="1.0" />
<text x="251.8" y="913.1" font-size="7.4" text-anchor="end" fill="#333" >6</text>
<line x1="252.5" y1="884.7" x2="255.1" y2="884.7" stroke="#222" stroke-width="1.0" />
<text x="251.8" y="887.2" font-size="7.4" text-anchor="end" fill="#333" >9</text>
<line x1="252.5" y1="858.7" x2="255.1" y2="858.7" stroke="#222" stroke-width="1.0" />
<text x="251.8" y="861.2" font-size="7.4" text-anchor="end" fill="#333" >12</text>
<text x="300.7" y="848.3" font-size="7.7" text-anchor="middle" fill="#222" >14 days</text>
<text x="0.0" y="0.0" font-size="7.5" text-anchor="middle" fill="#222" transform="translate(240.2,909.5) rotate(-90)">Relative IL-1β protein expression</text>
<text x="257.0" y="910.0" font-size="7.8" text-anchor="start" fill="#222" >P &lt; 0.0001</text>
<line x1="265.2" y1="912.4" x2="279.2" y2="912.4" stroke="#555" stroke-width="1.0" />
<text x="290.0" y="865.0" font-size="7.8" text-anchor="start" fill="#222" >P = 0.0104</text>
<line x1="280.4" y1="867.3" x2="338.6" y2="867.3" stroke="#555" stroke-width="1.0" />
<text x="299.0" y="874.0" font-size="7.8" text-anchor="start" fill="#222" >P = 0.0133</text>
<line x1="295.5" y1="876.4" x2="338.6" y2="876.4" stroke="#555" stroke-width="1.0" />
<text x="305.0" y="883.8" font-size="7.8" text-anchor="start" fill="#222" >P = 0.0082</text>
<line x1="307.9" y1="886.2" x2="336.7" y2="886.2" stroke="#555" stroke-width="1.0" />
<text x="314.9" y="894.8" font-size="7.8" text-anchor="start" fill="#222" >P = 0.0097</text>
<line x1="325.3" y1="897.3" x2="336.7" y2="897.3" stroke="#555" stroke-width="1.0" />
<line x1="265.9" y1="951.4" x2="265.9" y2="954.8" stroke="#f8b878" stroke-width="1.05" />
<line x1="263.6" y1="951.4" x2="268.2" y2="951.4" stroke="#f8b878" stroke-width="1.05" />
<line x1="263.6" y1="954.8" x2="268.2" y2="954.8" stroke="#f8b878" stroke-width="1.05" />
<line x1="261.1" y1="953.1" x2="270.7" y2="953.1" stroke="#f8b878" stroke-width="1.05" />
<circle cx="265.9" cy="950.8" r="2.6" fill="none" stroke="#f8b878" stroke-width="1.2075" />
<circle cx="261.7" cy="953.0" r="2.6" fill="none" stroke="#f8b878" stroke-width="1.2075" />
<circle cx="268.2" cy="953.9" r="2.6" fill="none" stroke="#f8b878" stroke-width="1.2075" />
<circle cx="261.7" cy="954.7" r="2.6" fill="none" stroke="#f8b878" stroke-width="1.2075" />
<line x1="279.8" y1="919.4" x2="279.8" y2="929.0" stroke="#1a9aaa" stroke-width="1.05" />
<line x1="277.5" y1="919.4" x2="282.1" y2="919.4" stroke="#1a9aaa" stroke-width="1.05" />
<line x1="277.5" y1="929.0" x2="282.1" y2="929.0" stroke="#1a9aaa" stroke-width="1.05" />
<line x1="275.0" y1="924.2" x2="284.6" y2="924.2" stroke="#1a9aaa" stroke-width="1.05" />
<circle cx="279.8" cy="918.4" r="2.6" fill="none" stroke="#1a9aaa" stroke-width="1.2075" />
<circle cx="279.8" cy="922.7" r="2.6" fill="none" stroke="#1a9aaa" stroke-width="1.2075" />
<circle cx="277.5" cy="926.2" r="2.6" fill="none" stroke="#1a9aaa" stroke-width="1.2075" />
<circle cx="279.8" cy="929.6" r="2.6" fill="none" stroke="#1a9aaa" stroke-width="1.2075" />
<line x1="294.0" y1="918.8" x2="294.0" y2="924.9" stroke="#8c8cf4" stroke-width="1.05" />
<line x1="291.7" y1="918.8" x2="296.3" y2="918.8" stroke="#8c8cf4" stroke-width="1.05" />
<line x1="291.7" y1="924.9" x2="296.3" y2="924.9" stroke="#8c8cf4" stroke-width="1.05" />
<line x1="289.2" y1="921.8" x2="298.8" y2="921.8" stroke="#8c8cf4" stroke-width="1.05" />
<circle cx="294.0" cy="917.5" r="2.6" fill="none" stroke="#8c8cf4" stroke-width="1.2075" />
<circle cx="294.0" cy="921.8" r="2.6" fill="none" stroke="#8c8cf4" stroke-width="1.2075" />
<circle cx="289.8" cy="923.6" r="2.6" fill="none" stroke="#8c8cf4" stroke-width="1.2075" />
<circle cx="298.2" cy="924.4" r="2.6" fill="none" stroke="#8c8cf4" stroke-width="1.2075" />
<line x1="308.3" y1="918.0" x2="308.3" y2="927.4" stroke="#2a2ae8" stroke-width="1.05" />
<line x1="306.0" y1="918.0" x2="310.6" y2="918.0" stroke="#2a2ae8" stroke-width="1.05" />
<line x1="306.0" y1="927.4" x2="310.6" y2="927.4" stroke="#2a2ae8" stroke-width="1.05" />
<line x1="303.5" y1="922.7" x2="313.1" y2="922.7" stroke="#2a2ae8" stroke-width="1.05" />
<circle cx="308.3" cy="917.5" r="2.6" fill="none" stroke="#2a2ae8" stroke-width="1.2075" />
<circle cx="304.1" cy="920.1" r="2.6" fill="none" stroke="#2a2ae8" stroke-width="1.2075" />
<circle cx="308.3" cy="925.3" r="2.6" fill="none" stroke="#2a2ae8" stroke-width="1.2075" />
<circle cx="304.1" cy="927.9" r="2.6" fill="none" stroke="#2a2ae8" stroke-width="1.2075" />
<line x1="322.5" y1="919.8" x2="322.5" y2="926.5" stroke="#4f9cf0" stroke-width="1.05" />
<line x1="320.2" y1="919.8" x2="324.8" y2="919.8" stroke="#4f9cf0" stroke-width="1.05" />
<line x1="320.2" y1="926.5" x2="324.8" y2="926.5" stroke="#4f9cf0" stroke-width="1.05" />
<line x1="317.7" y1="923.1" x2="327.3" y2="923.1" stroke="#4f9cf0" stroke-width="1.05" />
<circle cx="322.5" cy="919.2" r="2.6" fill="none" stroke="#4f9cf0" stroke-width="1.2075" />
<circle cx="318.3" cy="921.8" r="2.6" fill="none" stroke="#4f9cf0" stroke-width="1.2075" />
<circle cx="322.5" cy="924.4" r="2.6" fill="none" stroke="#4f9cf0" stroke-width="1.2075" />
<circle cx="318.3" cy="927.0" r="2.6" fill="none" stroke="#4f9cf0" stroke-width="1.2075" />
<line x1="337.3" y1="898.5" x2="337.3" y2="918.0" stroke="#ee1111" stroke-width="1.05" />
<line x1="335.0" y1="898.5" x2="339.6" y2="898.5" stroke="#ee1111" stroke-width="1.05" />
<line x1="335.0" y1="918.0" x2="339.6" y2="918.0" stroke="#ee1111" stroke-width="1.05" />
<line x1="332.5" y1="908.2" x2="342.1" y2="908.2" stroke="#ee1111" stroke-width="1.05" />
<circle cx="337.3" cy="899.4" r="2.6" fill="none" stroke="#ee1111" stroke-width="1.2075" />
<circle cx="333.1" cy="902.0" r="2.6" fill="none" stroke="#ee1111" stroke-width="1.2075" />
<circle cx="337.3" cy="910.6" r="2.6" fill="none" stroke="#ee1111" stroke-width="1.2075" />
<circle cx="337.3" cy="921.0" r="2.6" fill="none" stroke="#ee1111" stroke-width="1.2075" />
<line x1="370.0" y1="858.2" x2="370.0" y2="963.0" stroke="#222" stroke-width="1.1" />
<line x1="369.5" y1="962.5" x2="461.0" y2="962.5" stroke="#222" stroke-width="1.1" />
<line x1="367.4" y1="962.5" x2="370.0" y2="962.5" stroke="#222" stroke-width="1.0" />
<text x="366.7" y="965.0" font-size="7.4" text-anchor="end" fill="#333" >0</text>
<line x1="367.4" y1="941.7" x2="370.0" y2="941.7" stroke="#222" stroke-width="1.0" />
<text x="366.7" y="944.3" font-size="7.4" text-anchor="end" fill="#333" >3</text>
<line x1="367.4" y1="921.0" x2="370.0" y2="921.0" stroke="#222" stroke-width="1.0" />
<text x="366.7" y="923.5" font-size="7.4" text-anchor="end" fill="#333" >6</text>
<line x1="367.4" y1="900.2" x2="370.0" y2="900.2" stroke="#222" stroke-width="1.0" />
<text x="366.7" y="902.7" font-size="7.4" text-anchor="end" fill="#333" >9</text>
<line x1="367.4" y1="879.5" x2="370.0" y2="879.5" stroke="#222" stroke-width="1.0" />
<text x="366.7" y="882.0" font-size="7.4" text-anchor="end" fill="#333" >12</text>
<line x1="367.4" y1="858.7" x2="370.0" y2="858.7" stroke="#222" stroke-width="1.0" />
<text x="366.7" y="861.2" font-size="7.4" text-anchor="end" fill="#333" >15</text>
<text x="414.9" y="848.3" font-size="7.7" text-anchor="middle" fill="#222" >14 days</text>
<text x="0.0" y="0.0" font-size="7.5" text-anchor="middle" fill="#222" transform="translate(354.4,909.5) rotate(-90)">Relative TNF-α protein expression</text>
<text x="371.5" y="915.7" font-size="7.8" text-anchor="start" fill="#222" >P &lt; 0.0001</text>
<line x1="378.9" y1="918.0" x2="394.1" y2="918.0" stroke="#555" stroke-width="1.0" />
<text x="404.5" y="864.0" font-size="7.8" text-anchor="start" fill="#222" >P = 0.0010</text>
<line x1="394.5" y1="866.3" x2="453.3" y2="866.3" stroke="#555" stroke-width="1.0" />
<text x="413.5" y="873.8" font-size="7.8" text-anchor="start" fill="#222" >P = 0.0007</text>
<line x1="409.7" y1="876.2" x2="453.3" y2="876.2" stroke="#555" stroke-width="1.0" />
<text x="420.0" y="883.8" font-size="7.8" text-anchor="start" fill="#222" >P = 0.0011</text>
<line x1="422.2" y1="886.2" x2="452.0" y2="886.2" stroke="#555" stroke-width="1.0" />
<text x="430.0" y="894.3" font-size="7.8" text-anchor="start" fill="#222" >P = 0.0007</text>
<line x1="439.3" y1="896.7" x2="452.0" y2="896.7" stroke="#555" stroke-width="1.0" />
<line x1="379.9" y1="953.9" x2="379.9" y2="956.9" stroke="#f8b878" stroke-width="1.05" />
<line x1="377.6" y1="953.9" x2="382.2" y2="953.9" stroke="#f8b878" stroke-width="1.05" />
<line x1="377.6" y1="956.9" x2="382.2" y2="956.9" stroke="#f8b878" stroke-width="1.05" />
<line x1="375.1" y1="955.4" x2="384.7" y2="955.4" stroke="#f8b878" stroke-width="1.05" />
<circle cx="379.9" cy="953.5" r="2.6" fill="none" stroke="#f8b878" stroke-width="1.2075" />
<circle cx="375.7" cy="954.9" r="2.6" fill="none" stroke="#f8b878" stroke-width="1.2075" />
<circle cx="382.2" cy="956.3" r="2.6" fill="none" stroke="#f8b878" stroke-width="1.2075" />
<circle cx="375.7" cy="957.0" r="2.6" fill="none" stroke="#f8b878" stroke-width="1.2075" />
<line x1="394.1" y1="922.7" x2="394.1" y2="931.6" stroke="#1a9aaa" stroke-width="1.05" />
<line x1="391.8" y1="922.7" x2="396.4" y2="922.7" stroke="#1a9aaa" stroke-width="1.05" />
<line x1="391.8" y1="931.6" x2="396.4" y2="931.6" stroke="#1a9aaa" stroke-width="1.05" />
<line x1="389.3" y1="927.1" x2="398.9" y2="927.1" stroke="#1a9aaa" stroke-width="1.05" />
<circle cx="394.1" cy="923.1" r="2.6" fill="none" stroke="#1a9aaa" stroke-width="1.2075" />
<circle cx="389.9" cy="924.4" r="2.6" fill="none" stroke="#1a9aaa" stroke-width="1.2075" />
<circle cx="394.1" cy="927.9" r="2.6" fill="none" stroke="#1a9aaa" stroke-width="1.2075" />
<circle cx="394.1" cy="933.1" r="2.6" fill="none" stroke="#1a9aaa" stroke-width="1.2075" />
<line x1="408.3" y1="922.6" x2="408.3" y2="931.8" stroke="#8c8cf4" stroke-width="1.05" />
<line x1="406.0" y1="922.6" x2="410.6" y2="922.6" stroke="#8c8cf4" stroke-width="1.05" />
<line x1="406.0" y1="931.8" x2="410.6" y2="931.8" stroke="#8c8cf4" stroke-width="1.05" />
<line x1="403.5" y1="927.2" x2="413.1" y2="927.2" stroke="#8c8cf4" stroke-width="1.05" />
<circle cx="408.3" cy="923.1" r="2.6" fill="none" stroke="#8c8cf4" stroke-width="1.2075" />
<circle cx="404.1" cy="924.4" r="2.6" fill="none" stroke="#8c8cf4" stroke-width="1.2075" />
<circle cx="408.3" cy="927.9" r="2.6" fill="none" stroke="#8c8cf4" stroke-width="1.2075" />
<circle cx="408.3" cy="933.4" r="2.6" fill="none" stroke="#8c8cf4" stroke-width="1.2075" />
<line x1="422.9" y1="920.6" x2="422.9" y2="931.0" stroke="#2a2ae8" stroke-width="1.05" />
<line x1="420.6" y1="920.6" x2="425.2" y2="920.6" stroke="#2a2ae8" stroke-width="1.05" />
<line x1="420.6" y1="931.0" x2="425.2" y2="931.0" stroke="#2a2ae8" stroke-width="1.05" />
<line x1="418.1" y1="925.8" x2="427.7" y2="925.8" stroke="#2a2ae8" stroke-width="1.05" />
<circle cx="422.9" cy="920.3" r="2.6" fill="none" stroke="#2a2ae8" stroke-width="1.2075" />
<circle cx="420.6" cy="923.1" r="2.6" fill="none" stroke="#2a2ae8" stroke-width="1.2075" />
<circle cx="422.9" cy="927.9" r="2.6" fill="none" stroke="#2a2ae8" stroke-width="1.2075" />
<circle cx="422.9" cy="932.1" r="2.6" fill="none" stroke="#2a2ae8" stroke-width="1.2075" />
<line x1="437.4" y1="922.3" x2="437.4" y2="931.4" stroke="#4f9cf0" stroke-width="1.05" />
<line x1="435.1" y1="922.3" x2="439.7" y2="922.3" stroke="#4f9cf0" stroke-width="1.05" />
<line x1="435.1" y1="931.4" x2="439.7" y2="931.4" stroke="#4f9cf0" stroke-width="1.05" />
<line x1="432.6" y1="926.9" x2="442.2" y2="926.9" stroke="#4f9cf0" stroke-width="1.05" />
<circle cx="437.4" cy="922.4" r="2.6" fill="none" stroke="#4f9cf0" stroke-width="1.2075" />
<circle cx="433.2" cy="924.4" r="2.6" fill="none" stroke="#4f9cf0" stroke-width="1.2075" />
<circle cx="437.4" cy="927.9" r="2.6" fill="none" stroke="#4f9cf0" stroke-width="1.2075" />
<circle cx="437.4" cy="932.7" r="2.6" fill="none" stroke="#4f9cf0" stroke-width="1.2075" />
<line x1="451.6" y1="899.6" x2="451.6" y2="916.0" stroke="#ee1111" stroke-width="1.05" />
<line x1="449.3" y1="899.6" x2="453.9" y2="899.6" stroke="#ee1111" stroke-width="1.05" />
<line x1="449.3" y1="916.0" x2="453.9" y2="916.0" stroke="#ee1111" stroke-width="1.05" />
<line x1="446.8" y1="907.8" x2="456.4" y2="907.8" stroke="#ee1111" stroke-width="1.05" />
<circle cx="451.6" cy="900.2" r="2.6" fill="none" stroke="#ee1111" stroke-width="1.2075" />
<circle cx="447.4" cy="901.6" r="2.6" fill="none" stroke="#ee1111" stroke-width="1.2075" />
<circle cx="451.6" cy="912.7" r="2.6" fill="none" stroke="#ee1111" stroke-width="1.2075" />
<circle cx="451.6" cy="916.8" r="2.6" fill="none" stroke="#ee1111" stroke-width="1.2075" />
<text x="455.5" y="849.0" font-size="19.5" text-anchor="start" fill="#000" >L</text>
<line x1="483.7" y1="856.9" x2="483.7" y2="963.4" stroke="#222" stroke-width="1.1" />
<line x1="483.2" y1="962.9" x2="575.0" y2="962.9" stroke="#222" stroke-width="1.1" />
<line x1="481.1" y1="962.9" x2="483.7" y2="962.9" stroke="#222" stroke-width="1.0" />
<text x="480.4" y="965.4" font-size="7.4" text-anchor="end" fill="#333" >0</text>
<line x1="481.1" y1="941.8" x2="483.7" y2="941.8" stroke="#222" stroke-width="1.0" />
<text x="480.4" y="944.3" font-size="7.4" text-anchor="end" fill="#333" >1</text>
<line x1="481.1" y1="920.7" x2="483.7" y2="920.7" stroke="#222" stroke-width="1.0" />
<text x="480.4" y="923.2" font-size="7.4" text-anchor="end" fill="#333" >2</text>
<line x1="481.1" y1="899.6" x2="483.7" y2="899.6" stroke="#222" stroke-width="1.0" />
<text x="480.4" y="902.1" font-size="7.4" text-anchor="end" fill="#333" >3</text>
<line x1="481.1" y1="878.5" x2="483.7" y2="878.5" stroke="#222" stroke-width="1.0" />
<text x="480.4" y="881.0" font-size="7.4" text-anchor="end" fill="#333" >4</text>
<line x1="481.1" y1="857.4" x2="483.7" y2="857.4" stroke="#222" stroke-width="1.0" />
<text x="480.4" y="859.9" font-size="7.4" text-anchor="end" fill="#333" >5</text>
<text x="529.2" y="846.4" font-size="7.7" text-anchor="middle" fill="#222" >21 days</text>
<text x="0.0" y="0.0" font-size="7.5" text-anchor="middle" fill="#222" transform="translate(471.4,909) rotate(-90)">Relative IL-1β protein expression</text>
<text x="485.4" y="863.4" font-size="7.8" text-anchor="start" fill="#222" >P &lt; 0.0001</text>
<text x="531.0" y="864.8" font-size="7.8" text-anchor="start" fill="#222" >P &lt; 0.0001</text>
<line x1="493.3" y1="866.5" x2="507.7" y2="866.5" stroke="#888" stroke-width="1.1" />
<text x="519.0" y="872.7" font-size="7.8" text-anchor="middle" fill="#222" >ns</text>
<line x1="507.7" y1="875.3" x2="551.1" y2="875.3" stroke="#444" stroke-width="1.0" />
<path d="M528.7,875.3 L528.7,868.3 L566.3,868.3 L566.3,934.9" fill="none" stroke="#444" stroke-width="1.0" />
<line x1="493.6" y1="938.8" x2="493.6" y2="943.7" stroke="#f8b878" stroke-width="1.05" />
<line x1="491.3" y1="938.8" x2="495.9" y2="938.8" stroke="#f8b878" stroke-width="1.05" />
<line x1="491.3" y1="943.7" x2="495.9" y2="943.7" stroke="#f8b878" stroke-width="1.05" />
<line x1="488.8" y1="941.3" x2="498.4" y2="941.3" stroke="#f8b878" stroke-width="1.05" />
<circle cx="493.6" cy="938.4" r="2.6" fill="none" stroke="#f8b878" stroke-width="1.2075" />
<circle cx="489.4" cy="940.1" r="2.6" fill="none" stroke="#f8b878" stroke-width="1.2075" />
<circle cx="493.6" cy="942.9" r="2.6" fill="none" stroke="#f8b878" stroke-width="1.2075" />
<circle cx="489.4" cy="943.7" r="2.6" fill="none" stroke="#f8b878" stroke-width="1.2075" />
<line x1="508.2" y1="878.7" x2="508.2" y2="899.4" stroke="#1a9aaa" stroke-width="1.05" />
<line x1="505.9" y1="878.7" x2="510.5" y2="878.7" stroke="#1a9aaa" stroke-width="1.05" />
<line x1="505.9" y1="899.4" x2="510.5" y2="899.4" stroke="#1a9aaa" stroke-width="1.05" />
<line x1="503.4" y1="889.0" x2="513.0" y2="889.0" stroke="#1a9aaa" stroke-width="1.05" />
<circle cx="508.2" cy="880.8" r="2.6" fill="none" stroke="#1a9aaa" stroke-width="1.2075" />
<circle cx="504.0" cy="881.5" r="2.6" fill="none" stroke="#1a9aaa" stroke-width="1.2075" />
<circle cx="508.2" cy="890.9" r="2.6" fill="none" stroke="#1a9aaa" stroke-width="1.2075" />
<circle cx="508.2" cy="903.0" r="2.6" fill="none" stroke="#1a9aaa" stroke-width="1.2075" />
<line x1="522.5" y1="883.0" x2="522.5" y2="894.5" stroke="#8c8cf4" stroke-width="1.05" />
<line x1="520.2" y1="883.0" x2="524.8" y2="883.0" stroke="#8c8cf4" stroke-width="1.05" />
<line x1="520.2" y1="894.5" x2="524.8" y2="894.5" stroke="#8c8cf4" stroke-width="1.05" />
<line x1="517.7" y1="888.7" x2="527.3" y2="888.7" stroke="#8c8cf4" stroke-width="1.05" />
<circle cx="522.5" cy="881.5" r="2.6" fill="none" stroke="#8c8cf4" stroke-width="1.2075" />
<circle cx="522.5" cy="886.9" r="2.6" fill="none" stroke="#8c8cf4" stroke-width="1.2075" />
<circle cx="522.5" cy="892.6" r="2.6" fill="none" stroke="#8c8cf4" stroke-width="1.2075" />
<circle cx="518.3" cy="893.9" r="2.6" fill="none" stroke="#8c8cf4" stroke-width="1.2075" />
<line x1="537.1" y1="883.4" x2="537.1" y2="892.4" stroke="#2a2ae8" stroke-width="1.05" />
<line x1="534.8" y1="883.4" x2="539.4" y2="883.4" stroke="#2a2ae8" stroke-width="1.05" />
<line x1="534.8" y1="892.4" x2="539.4" y2="892.4" stroke="#2a2ae8" stroke-width="1.05" />
<line x1="532.3" y1="887.9" x2="541.9" y2="887.9" stroke="#2a2ae8" stroke-width="1.05" />
<circle cx="537.1" cy="881.5" r="2.6" fill="none" stroke="#2a2ae8" stroke-width="1.2075" />
<circle cx="537.1" cy="888.2" r="2.6" fill="none" stroke="#2a2ae8" stroke-width="1.2075" />
<circle cx="532.9" cy="890.7" r="2.6" fill="none" stroke="#2a2ae8" stroke-width="1.2075" />
<circle cx="539.4" cy="891.2" r="2.6" fill="none" stroke="#2a2ae8" stroke-width="1.2075" />
<line x1="551.6" y1="878.4" x2="551.6" y2="901.6" stroke="#4f9cf0" stroke-width="1.05" />
<line x1="549.3" y1="878.4" x2="553.9" y2="878.4" stroke="#4f9cf0" stroke-width="1.05" />
<line x1="549.3" y1="901.6" x2="553.9" y2="901.6" stroke="#4f9cf0" stroke-width="1.05" />
<line x1="546.8" y1="890.0" x2="556.4" y2="890.0" stroke="#4f9cf0" stroke-width="1.05" />
<circle cx="551.6" cy="878.5" r="2.6" fill="none" stroke="#4f9cf0" stroke-width="1.2075" />
<circle cx="551.6" cy="884.8" r="2.6" fill="none" stroke="#4f9cf0" stroke-width="1.2075" />
<circle cx="551.6" cy="890.9" r="2.6" fill="none" stroke="#4f9cf0" stroke-width="1.2075" />
<circle cx="551.6" cy="905.7" r="2.6" fill="none" stroke="#4f9cf0" stroke-width="1.2075" />
<line x1="566.0" y1="944.2" x2="566.0" y2="946.8" stroke="#ee1111" stroke-width="1.05" />
<line x1="563.7" y1="944.2" x2="568.3" y2="944.2" stroke="#ee1111" stroke-width="1.05" />
<line x1="563.7" y1="946.8" x2="568.3" y2="946.8" stroke="#ee1111" stroke-width="1.05" />
<line x1="561.2" y1="945.5" x2="570.8" y2="945.5" stroke="#ee1111" stroke-width="1.05" />
<circle cx="566.0" cy="943.7" r="2.6" fill="none" stroke="#ee1111" stroke-width="1.2075" />
<circle cx="561.8" cy="945.4" r="2.6" fill="none" stroke="#ee1111" stroke-width="1.2075" />
<circle cx="570.2" cy="946.0" r="2.6" fill="none" stroke="#ee1111" stroke-width="1.2075" />
<circle cx="561.8" cy="946.9" r="2.6" fill="none" stroke="#ee1111" stroke-width="1.2075" />
<line x1="593.0" y1="856.9" x2="593.0" y2="963.0" stroke="#222" stroke-width="1.1" />
<line x1="592.5" y1="962.5" x2="684.0" y2="962.5" stroke="#222" stroke-width="1.1" />
<line x1="590.4" y1="962.5" x2="593.0" y2="962.5" stroke="#222" stroke-width="1.0" />
<text x="589.7" y="965.0" font-size="7.4" text-anchor="end" fill="#333" >0</text>
<line x1="590.4" y1="927.5" x2="593.0" y2="927.5" stroke="#222" stroke-width="1.0" />
<text x="589.7" y="930.0" font-size="7.4" text-anchor="end" fill="#333" >1</text>
<line x1="590.4" y1="892.4" x2="593.0" y2="892.4" stroke="#222" stroke-width="1.0" />
<text x="589.7" y="894.9" font-size="7.4" text-anchor="end" fill="#333" >2</text>
<line x1="590.4" y1="857.4" x2="593.0" y2="857.4" stroke="#222" stroke-width="1.0" />
<text x="589.7" y="859.9" font-size="7.4" text-anchor="end" fill="#333" >3</text>
<text x="638.6" y="846.4" font-size="7.7" text-anchor="middle" fill="#222" >21 days</text>
<text x="0.0" y="0.0" font-size="7.5" text-anchor="middle" fill="#222" transform="translate(580.8,909) rotate(-90)">Relative TNF-α protein expression</text>
<text x="594.8" y="862.2" font-size="7.8" text-anchor="start" fill="#222" >P &lt; 0.0001</text>
<text x="640.7" y="863.0" font-size="7.8" text-anchor="start" fill="#222" >P &lt; 0.0001</text>
<line x1="603.2" y1="864.4" x2="617.2" y2="864.4" stroke="#888" stroke-width="1.1" />
<text x="628.4" y="870.0" font-size="7.8" text-anchor="middle" fill="#222" >ns</text>
<line x1="617.2" y1="872.7" x2="660.5" y2="872.7" stroke="#444" stroke-width="1.0" />
<path d="M638.2,872.7 L638.2,866.2 L675.4,866.2 L675.4,907.7" fill="none" stroke="#444" stroke-width="1.0" />
<line x1="603.2" y1="925.0" x2="603.2" y2="929.7" stroke="#f8b878" stroke-width="1.05" />
<line x1="600.9" y1="925.0" x2="605.5" y2="925.0" stroke="#f8b878" stroke-width="1.05" />
<line x1="600.9" y1="929.7" x2="605.5" y2="929.7" stroke="#f8b878" stroke-width="1.05" />
<line x1="598.4" y1="927.4" x2="608.0" y2="927.4" stroke="#f8b878" stroke-width="1.05" />
<circle cx="603.2" cy="924.3" r="2.6" fill="none" stroke="#f8b878" stroke-width="1.2075" />
<circle cx="599.0" cy="926.8" r="2.6" fill="none" stroke="#f8b878" stroke-width="1.2075" />
<circle cx="603.2" cy="928.9" r="2.6" fill="none" stroke="#f8b878" stroke-width="1.2075" />
<circle cx="607.4" cy="929.6" r="2.6" fill="none" stroke="#f8b878" stroke-width="1.2075" />
<line x1="617.6" y1="882.1" x2="617.6" y2="898.7" stroke="#1a9aaa" stroke-width="1.05" />
<line x1="615.3" y1="882.1" x2="619.9" y2="882.1" stroke="#1a9aaa" stroke-width="1.05" />
<line x1="615.3" y1="898.7" x2="619.9" y2="898.7" stroke="#1a9aaa" stroke-width="1.05" />
<line x1="612.8" y1="890.4" x2="622.4" y2="890.4" stroke="#1a9aaa" stroke-width="1.05" />
<circle cx="617.6" cy="880.2" r="2.6" fill="none" stroke="#1a9aaa" stroke-width="1.2075" />
<circle cx="617.6" cy="890.0" r="2.6" fill="none" stroke="#1a9aaa" stroke-width="1.2075" />
<circle cx="613.4" cy="891.0" r="2.6" fill="none" stroke="#1a9aaa" stroke-width="1.2075" />
<circle cx="617.6" cy="900.5" r="2.6" fill="none" stroke="#1a9aaa" stroke-width="1.2075" />
<line x1="632.1" y1="881.4" x2="632.1" y2="899.5" stroke="#8c8cf4" stroke-width="1.05" />
<line x1="629.8" y1="881.4" x2="634.4" y2="881.4" stroke="#8c8cf4" stroke-width="1.05" />
<line x1="629.8" y1="899.5" x2="634.4" y2="899.5" stroke="#8c8cf4" stroke-width="1.05" />
<line x1="627.3" y1="890.4" x2="636.9" y2="890.4" stroke="#8c8cf4" stroke-width="1.05" />
<circle cx="632.1" cy="877.0" r="2.6" fill="none" stroke="#8c8cf4" stroke-width="1.2075" />
<circle cx="632.1" cy="892.8" r="2.6" fill="none" stroke="#8c8cf4" stroke-width="1.2075" />
<circle cx="629.8" cy="895.6" r="2.6" fill="none" stroke="#8c8cf4" stroke-width="1.2075" />
<circle cx="634.4" cy="896.3" r="2.6" fill="none" stroke="#8c8cf4" stroke-width="1.2075" />
<line x1="646.5" y1="881.5" x2="646.5" y2="898.8" stroke="#2a2ae8" stroke-width="1.05" />
<line x1="644.2" y1="881.5" x2="648.8" y2="881.5" stroke="#2a2ae8" stroke-width="1.05" />
<line x1="644.2" y1="898.8" x2="648.8" y2="898.8" stroke="#2a2ae8" stroke-width="1.05" />
<line x1="641.7" y1="890.2" x2="651.3" y2="890.2" stroke="#2a2ae8" stroke-width="1.05" />
<circle cx="646.5" cy="877.4" r="2.6" fill="none" stroke="#2a2ae8" stroke-width="1.2075" />
<circle cx="646.5" cy="892.8" r="2.6" fill="none" stroke="#2a2ae8" stroke-width="1.2075" />
<circle cx="642.3" cy="894.9" r="2.6" fill="none" stroke="#2a2ae8" stroke-width="1.2075" />
<circle cx="648.8" cy="895.6" r="2.6" fill="none" stroke="#2a2ae8" stroke-width="1.2075" />
<line x1="661.0" y1="883.9" x2="661.0" y2="894.8" stroke="#4f9cf0" stroke-width="1.05" />
<line x1="658.7" y1="883.9" x2="663.3" y2="883.9" stroke="#4f9cf0" stroke-width="1.05" />
<line x1="658.7" y1="894.8" x2="663.3" y2="894.8" stroke="#4f9cf0" stroke-width="1.05" />
<line x1="656.2" y1="889.4" x2="665.8" y2="889.4" stroke="#4f9cf0" stroke-width="1.05" />
<circle cx="661.0" cy="881.9" r="2.6" fill="none" stroke="#4f9cf0" stroke-width="1.2075" />
<circle cx="661.0" cy="888.9" r="2.6" fill="none" stroke="#4f9cf0" stroke-width="1.2075" />
<circle cx="658.7" cy="892.4" r="2.6" fill="none" stroke="#4f9cf0" stroke-width="1.2075" />
<circle cx="663.3" cy="894.2" r="2.6" fill="none" stroke="#4f9cf0" stroke-width="1.2075" />
<line x1="675.4" y1="923.5" x2="675.4" y2="939.4" stroke="#ee1111" stroke-width="1.05" />
<line x1="673.1" y1="923.5" x2="677.7" y2="923.5" stroke="#ee1111" stroke-width="1.05" />
<line x1="673.1" y1="939.4" x2="677.7" y2="939.4" stroke="#ee1111" stroke-width="1.05" />
<line x1="670.6" y1="931.4" x2="680.2" y2="931.4" stroke="#ee1111" stroke-width="1.05" />
<circle cx="675.4" cy="921.5" r="2.6" fill="none" stroke="#ee1111" stroke-width="1.2075" />
<circle cx="675.4" cy="930.3" r="2.6" fill="none" stroke="#ee1111" stroke-width="1.2075" />
<circle cx="673.1" cy="933.1" r="2.6" fill="none" stroke="#ee1111" stroke-width="1.2075" />
<circle cx="675.4" cy="940.8" r="2.6" fill="none" stroke="#ee1111" stroke-width="1.2075" />
<text x="1.3" y="665.0" font-size="19.5" text-anchor="start" fill="#000" >H</text>
<text x="176.6" y="661.0" font-size="10.1" text-anchor="middle" fill="#111" >Wright-Giemsa staining</text>
<line x1="33.6" y1="664.4" x2="321.0" y2="664.4" stroke="#111" stroke-width="1.1" />
<text x="40.7" y="682.6" font-size="10.2" text-anchor="middle" fill="#111" >Sham</text>
<text x="95.0" y="682.6" font-size="10.2" text-anchor="middle" fill="#111" >PBS</text>
<text x="149.1" y="682.6" font-size="10.2" text-anchor="middle" fill="#111" >Van</text>
<text x="202.0" y="682.6" font-size="10.2" text-anchor="middle" fill="#111" >Ga<tspan font-size="62%" dy="2">Van</tspan></text>
<text x="257.4" y="682.6" font-size="10.2" text-anchor="middle" fill="#111" >GaCu<tspan font-size="62%" dy="2">Van</tspan></text>
<text x="311.9" y="674.2" font-size="10.2" text-anchor="middle" fill="#111" >GaCu<tspan font-size="62%" dy="2">Van</tspan><tspan dy="-2">&amp;</tspan></text>
<text x="311.9" y="683.4" font-size="10.2" text-anchor="middle" fill="#111" >HA<tspan font-size="62%" dy="2">CHO</tspan><tspan dy="-2">-BSA</tspan></text>
<text x="0.0" y="0.0" font-size="10.4" text-anchor="middle" fill="#111" transform="translate(11.2,724) rotate(-90)">14 days</text>
<text x="0.0" y="0.0" font-size="10.4" text-anchor="middle" fill="#111" transform="translate(11.2,796.8) rotate(-90)">21 days</text>
<rect x="14.0" y="689.0" width="52.5" height="35.0" fill="#b0cbee" filter="url(#fH_a)"/>
<rect x="27.8" y="703.6" width="20.1" height="13.4" fill="none" stroke="#e02424" stroke-width="1.1" stroke-dasharray="2.4,1.2"/>
<line x1="27.8" y1="717.0" x2="14.0" y2="724.0" stroke="#e02424" stroke-width="1.1" stroke-dasharray="2.4,1.2"/>
<line x1="47.9" y1="717.0" x2="66.5" y2="724.0" stroke="#e02424" stroke-width="1.1" stroke-dasharray="2.4,1.2"/>
<rect x="68.5" y="689.0" width="52.5" height="35.0" fill="#b0cbee" filter="url(#fH_a)"/>
<rect x="82.3" y="699.8" width="20.1" height="13.1" fill="none" stroke="#e02424" stroke-width="1.1" stroke-dasharray="2.4,1.2"/>
<line x1="82.3" y1="712.9" x2="68.5" y2="724.0" stroke="#e02424" stroke-width="1.1" stroke-dasharray="2.4,1.2"/>
<line x1="102.4" y1="712.9" x2="121.0" y2="724.0" stroke="#e02424" stroke-width="1.1" stroke-dasharray="2.4,1.2"/>
<rect x="123.0" y="689.0" width="52.5" height="35.0" fill="#b0cbee" filter="url(#fH_a)"/>
<rect x="141.4" y="702.7" width="19.7" height="13.4" fill="none" stroke="#e02424" stroke-width="1.1" stroke-dasharray="2.4,1.2"/>
<line x1="141.4" y1="716.1" x2="123.0" y2="724.0" stroke="#e02424" stroke-width="1.1" stroke-dasharray="2.4,1.2"/>
<line x1="161.1" y1="716.1" x2="175.5" y2="724.0" stroke="#e02424" stroke-width="1.1" stroke-dasharray="2.4,1.2"/>
<rect x="177.5" y="689.0" width="52.5" height="35.0" fill="#b0cbee" filter="url(#fH_a)"/>
<rect x="192.7" y="703.4" width="20.3" height="13.7" fill="none" stroke="#e02424" stroke-width="1.1" stroke-dasharray="2.4,1.2"/>
<line x1="192.7" y1="717.1" x2="177.5" y2="724.0" stroke="#e02424" stroke-width="1.1" stroke-dasharray="2.4,1.2"/>
<line x1="213.0" y1="717.1" x2="230.0" y2="724.0" stroke="#e02424" stroke-width="1.1" stroke-dasharray="2.4,1.2"/>
<rect x="232.0" y="689.0" width="52.5" height="35.0" fill="#b0cbee" filter="url(#fH_a)"/>
<rect x="245.4" y="692.4" width="20.2" height="13.7" fill="none" stroke="#e02424" stroke-width="1.1" stroke-dasharray="2.4,1.2"/>
<line x1="245.4" y1="706.1" x2="232.0" y2="724.0" stroke="#e02424" stroke-width="1.1" stroke-dasharray="2.4,1.2"/>
<line x1="265.6" y1="706.1" x2="284.5" y2="724.0" stroke="#e02424" stroke-width="1.1" stroke-dasharray="2.4,1.2"/>
<rect x="286.5" y="689.0" width="52.5" height="35.0" fill="#b0cbee" filter="url(#fH_a)"/>
<rect x="301.8" y="702.9" width="19.7" height="14.2" fill="none" stroke="#e02424" stroke-width="1.1" stroke-dasharray="2.4,1.2"/>
<line x1="301.8" y1="717.1" x2="286.5" y2="724.0" stroke="#e02424" stroke-width="1.1" stroke-dasharray="2.4,1.2"/>
<line x1="321.5" y1="717.1" x2="339.0" y2="724.0" stroke="#e02424" stroke-width="1.1" stroke-dasharray="2.4,1.2"/>
<rect x="14.0" y="725.0" width="52.5" height="35.0" fill="#b0cbee" filter="url(#fH_a)"/>
<rect x="68.5" y="725.0" width="52.5" height="35.0" fill="#a8c6ec" filter="url(#fH_z)"/>
<circle cx="100.2" cy="749.0" r="2.9" fill="#f6f8fc" stroke="none" stroke-width="1" />
<circle cx="114.4" cy="749.0" r="3.1" fill="#f6f8fc" stroke="none" stroke-width="1" />
<circle cx="73.8" cy="741.6" r="3.1" fill="#f6f8fc" stroke="none" stroke-width="1" />
<circle cx="101.4" cy="753.3" r="1.8" fill="#f6f8fc" stroke="none" stroke-width="1" />
<circle cx="93.4" cy="735.7" r="2.5" fill="#f6f8fc" stroke="none" stroke-width="1" />
<circle cx="98.0" cy="729.4" r="1.9" fill="#f6f8fc" stroke="none" stroke-width="1" />
<circle cx="84.9" cy="753.7" r="2.8" fill="#f6f8fc" stroke="none" stroke-width="1" />
<path d="M79.9,751.9 l-4.6,-2.4 l1.3,2.4 l-1.3,2.4 z" fill="#f01818" transform="rotate(50 79.9 751.9)"/>
<path d="M101.2,731.8 l-4.6,-2.4 l1.3,2.4 l-1.3,2.4 z" fill="#f01818" transform="rotate(1 101.2 731.8)"/>
<path d="M113.0,734.3 l-4.6,-2.4 l1.3,2.4 l-1.3,2.4 z" fill="#f01818" transform="rotate(78 113.0 734.3)"/>
<path d="M118.2,754.2 l-4.6,-2.4 l1.3,2.4 l-1.3,2.4 z" fill="#f01818" transform="rotate(104 118.2 754.2)"/>
<path d="M117.2,744.2 l-4.6,-2.4 l1.3,2.4 l-1.3,2.4 z" fill="#f01818" transform="rotate(244 117.2 744.2)"/>
<path d="M82.0,756.2 l-4.6,-2.4 l1.3,2.4 l-1.3,2.4 z" fill="#f01818" transform="rotate(249 82.0 756.2)"/>
<path d="M117.4,754.8 l-4.6,-2.4 l1.3,2.4 l-1.3,2.4 z" fill="#f01818" transform="rotate(108 117.4 754.8)"/>
<path d="M89.3,733.0 l-4.6,-2.4 l1.3,2.4 l-1.3,2.4 z" fill="#f01818" transform="rotate(52 89.3 733.0)"/>
<path d="M75.5,737.0 l-4.6,-2.4 l1.3,2.4 l-1.3,2.4 z" fill="#f01818" transform="rotate(217 75.5 737.0)"/>
<path d="M72.7,748.3 l-4.6,-2.4 l1.3,2.4 l-1.3,2.4 z" fill="#f01818" transform="rotate(122 72.7 748.3)"/>
<path d="M86.9,752.6 l-4.6,-2.4 l1.3,2.4 l-1.3,2.4 z" fill="#f01818" transform="rotate(173 86.9 752.6)"/>
<path d="M87.2,742.4 l-4.6,-2.4 l1.3,2.4 l-1.3,2.4 z" fill="#f01818" transform="rotate(254 87.2 742.4)"/>
<path d="M75.2,757.3 l-4.6,-2.4 l1.3,2.4 l-1.3,2.4 z" fill="#f01818" transform="rotate(8 75.2 757.3)"/>
<path d="M107.4,753.3 l-4.6,-2.4 l1.3,2.4 l-1.3,2.4 z" fill="#f01818" transform="rotate(7 107.4 753.3)"/>
<path d="M109.1,739.0 l-4.6,-2.4 l1.3,2.4 l-1.3,2.4 z" fill="#f01818" transform="rotate(208 109.1 739.0)"/>
<path d="M72.9,729.4 l-4.6,-2.4 l1.3,2.4 l-1.3,2.4 z" fill="#f01818" transform="rotate(65 72.9 729.4)"/>
<path d="M116.9,733.9 l-4.6,-2.4 l1.3,2.4 l-1.3,2.4 z" fill="#f01818" transform="rotate(272 116.9 733.9)"/>
<rect x="123.0" y="725.0" width="52.5" height="35.0" fill="#a8c6ec" filter="url(#fH_z)"/>
<circle cx="168.4" cy="754.4" r="2.2" fill="#f6f8fc" stroke="none" stroke-width="1" />
<circle cx="142.8" cy="743.2" r="2.8" fill="#f6f8fc" stroke="none" stroke-width="1" />
<circle cx="131.8" cy="749.2" r="2.9" fill="#f6f8fc" stroke="none" stroke-width="1" />
<circle cx="165.3" cy="730.0" r="3.1" fill="#f6f8fc" stroke="none" stroke-width="1" />
<circle cx="131.1" cy="738.2" r="2.6" fill="#f6f8fc" stroke="none" stroke-width="1" />
<circle cx="167.9" cy="738.2" r="3.1" fill="#f6f8fc" stroke="none" stroke-width="1" />
<circle cx="151.3" cy="737.4" r="2.1" fill="#f6f8fc" stroke="none" stroke-width="1" />
<path d="M135.3,730.3 l-4.6,-2.4 l1.3,2.4 l-1.3,2.4 z" fill="#f01818" transform="rotate(54 135.3 730.3)"/>
<path d="M159.0,757.9 l-4.6,-2.4 l1.3,2.4 l-1.3,2.4 z" fill="#f01818" transform="rotate(58 159.0 757.9)"/>
<path d="M129.3,757.6 l-4.6,-2.4 l1.3,2.4 l-1.3,2.4 z" fill="#f01818" transform="rotate(192 129.3 757.6)"/>
<path d="M145.9,735.1 l-4.6,-2.4 l1.3,2.4 l-1.3,2.4 z" fill="#f01818" transform="rotate(214 145.9 735.1)"/>
<path d="M165.4,741.7 l-4.6,-2.4 l1.3,2.4 l-1.3,2.4 z" fill="#f01818" transform="rotate(152 165.4 741.7)"/>
<path d="M129.6,755.5 l-4.6,-2.4 l1.3,2.4 l-1.3,2.4 z" fill="#f01818" transform="rotate(12 129.6 755.5)"/>
<path d="M150.0,753.2 l-4.6,-2.4 l1.3,2.4 l-1.3,2.4 z" fill="#f01818" transform="rotate(47 150.0 753.2)"/>
<path d="M161.0,756.5 l-4.6,-2.4 l1.3,2.4 l-1.3,2.4 z" fill="#f01818" transform="rotate(227 161.0 756.5)"/>
<path d="M163.6,731.2 l-4.6,-2.4 l1.3,2.4 l-1.3,2.4 z" fill="#f01818" transform="rotate(156 163.6 731.2)"/>
<path d="M133.9,753.3 l-4.6,-2.4 l1.3,2.4 l-1.3,2.4 z" fill="#f01818" transform="rotate(106 133.9 753.3)"/>
<path d="M148.1,758.0 l-4.6,-2.4 l1.3,2.4 l-1.3,2.4 z" fill="#f01818" transform="rotate(307 148.1 758.0)"/>
<path d="M172.4,741.6 l-4.6,-2.4 l1.3,2.4 l-1.3,2.4 z" fill="#f01818" transform="rotate(176 172.4 741.6)"/>
<path d="M160.9,742.4 l-4.6,-2.4 l1.3,2.4 l-1.3,2.4 z" fill="#f01818" transform="rotate(105 160.9 742.4)"/>
<path d="M145.8,732.4 l-4.6,-2.4 l1.3,2.4 l-1.3,2.4 z" fill="#f01818" transform="rotate(136 145.8 732.4)"/>
<path d="M173.0,756.8 l-4.6,-2.4 l1.3,2.4 l-1.3,2.4 z" fill="#f01818" transform="rotate(226 173.0 756.8)"/>
<path d="M150.2,738.2 l-4.6,-2.4 l1.3,2.4 l-1.3,2.4 z" fill="#f01818" transform="rotate(32 150.2 738.2)"/>
<path d="M139.7,751.5 l-4.6,-2.4 l1.3,2.4 l-1.3,2.4 z" fill="#f01818" transform="rotate(312 139.7 751.5)"/>
<rect x="177.5" y="725.0" width="52.5" height="35.0" fill="#a8c6ec" filter="url(#fH_z)"/>
<circle cx="197.6" cy="750.2" r="2.8" fill="#f6f8fc" stroke="none" stroke-width="1" />
<circle cx="212.4" cy="746.9" r="2.8" fill="#f6f8fc" stroke="none" stroke-width="1" />
<circle cx="197.7" cy="748.0" r="2.0" fill="#f6f8fc" stroke="none" stroke-width="1" />
<circle cx="203.1" cy="749.8" r="2.7" fill="#f6f8fc" stroke="none" stroke-width="1" />
<circle cx="194.6" cy="754.5" r="2.6" fill="#f6f8fc" stroke="none" stroke-width="1" />
<circle cx="207.3" cy="729.3" r="2.5" fill="#f6f8fc" stroke="none" stroke-width="1" />
<circle cx="192.7" cy="747.1" r="2.3" fill="#f6f8fc" stroke="none" stroke-width="1" />
<path d="M219.5,747.4 l-4.6,-2.4 l1.3,2.4 l-1.3,2.4 z" fill="#f01818" transform="rotate(287 219.5 747.4)"/>
<path d="M197.7,747.3 l-4.6,-2.4 l1.3,2.4 l-1.3,2.4 z" fill="#f01818" transform="rotate(266 197.7 747.3)"/>
<path d="M220.0,738.5 l-4.6,-2.4 l1.3,2.4 l-1.3,2.4 z" fill="#f01818" transform="rotate(303 220.0 738.5)"/>
<path d="M222.0,748.7 l-4.6,-2.4 l1.3,2.4 l-1.3,2.4 z" fill="#f01818" transform="rotate(351 222.0 748.7)"/>
<path d="M226.0,743.5 l-4.6,-2.4 l1.3,2.4 l-1.3,2.4 z" fill="#f01818" transform="rotate(191 226.0 743.5)"/>
<path d="M189.2,753.1 l-4.6,-2.4 l1.3,2.4 l-1.3,2.4 z" fill="#f01818" transform="rotate(337 189.2 753.1)"/>
<path d="M203.7,748.7 l-4.6,-2.4 l1.3,2.4 l-1.3,2.4 z" fill="#f01818" transform="rotate(259 203.7 748.7)"/>
<path d="M215.5,733.2 l-4.6,-2.4 l1.3,2.4 l-1.3,2.4 z" fill="#f01818" transform="rotate(281 215.5 733.2)"/>
<path d="M208.5,748.0 l-4.6,-2.4 l1.3,2.4 l-1.3,2.4 z" fill="#f01818" transform="rotate(151 208.5 748.0)"/>
<path d="M210.5,751.2 l-4.6,-2.4 l1.3,2.4 l-1.3,2.4 z" fill="#f01818" transform="rotate(229 210.5 751.2)"/>
<path d="M215.0,728.8 l-4.6,-2.4 l1.3,2.4 l-1.3,2.4 z" fill="#f01818" transform="rotate(58 215.0 728.8)"/>
<path d="M202.0,747.5 l-4.6,-2.4 l1.3,2.4 l-1.3,2.4 z" fill="#f01818" transform="rotate(79 202.0 747.5)"/>
<path d="M213.4,746.9 l-4.6,-2.4 l1.3,2.4 l-1.3,2.4 z" fill="#f01818" transform="rotate(15 213.4 746.9)"/>
<path d="M203.4,734.8 l-4.6,-2.4 l1.3,2.4 l-1.3,2.4 z" fill="#f01818" transform="rotate(19 203.4 734.8)"/>
<path d="M187.7,737.5 l-4.6,-2.4 l1.3,2.4 l-1.3,2.4 z" fill="#f01818" transform="rotate(65 187.7 737.5)"/>
<path d="M190.5,729.1 l-4.6,-2.4 l1.3,2.4 l-1.3,2.4 z" fill="#f01818" transform="rotate(168 190.5 729.1)"/>
<path d="M199.2,746.4 l-4.6,-2.4 l1.3,2.4 l-1.3,2.4 z" fill="#f01818" transform="rotate(212 199.2 746.4)"/>
<rect x="232.0" y="725.0" width="52.5" height="35.0" fill="#a8c6ec" filter="url(#fH_z)"/>
<circle cx="246.6" cy="753.4" r="1.6" fill="#f6f8fc" stroke="none" stroke-width="1" />
<circle cx="254.0" cy="736.5" r="2.3" fill="#f6f8fc" stroke="none" stroke-width="1" />
<circle cx="241.1" cy="751.4" r="2.2" fill="#f6f8fc" stroke="none" stroke-width="1" />
<circle cx="237.6" cy="745.6" r="1.8" fill="#f6f8fc" stroke="none" stroke-width="1" />
<circle cx="260.3" cy="738.2" r="2.5" fill="#f6f8fc" stroke="none" stroke-width="1" />
<circle cx="278.6" cy="751.1" r="2.3" fill="#f6f8fc" stroke="none" stroke-width="1" />
<circle cx="272.2" cy="746.3" r="2.2" fill="#f6f8fc" stroke="none" stroke-width="1" />
<path d="M242.6,745.9 l-4.6,-2.4 l1.3,2.4 l-1.3,2.4 z" fill="#f01818" transform="rotate(203 242.6 745.9)"/>
<path d="M280.5,757.0 l-4.6,-2.4 l1.3,2.4 l-1.3,2.4 z" fill="#f01818" transform="rotate(219 280.5 757.0)"/>
<path d="M252.3,754.8 l-4.6,-2.4 l1.3,2.4 l-1.3,2.4 z" fill="#f01818" transform="rotate(0 252.3 754.8)"/>
<path d="M241.0,745.0 l-4.6,-2.4 l1.3,2.4 l-1.3,2.4 z" fill="#f01818" transform="rotate(221 241.0 745.0)"/>
<path d="M242.5,746.9 l-4.6,-2.4 l1.3,2.4 l-1.3,2.4 z" fill="#f01818" transform="rotate(321 242.5 746.9)"/>
<path d="M253.5,741.0 l-4.6,-2.4 l1.3,2.4 l-1.3,2.4 z" fill="#f01818" transform="rotate(81 253.5 741.0)"/>
<path d="M249.6,757.2 l-4.6,-2.4 l1.3,2.4 l-1.3,2.4 z" fill="#f01818" transform="rotate(137 249.6 757.2)"/>
<path d="M280.7,755.4 l-4.6,-2.4 l1.3,2.4 l-1.3,2.4 z" fill="#f01818" transform="rotate(214 280.7 755.4)"/>
<path d="M248.1,757.4 l-4.6,-2.4 l1.3,2.4 l-1.3,2.4 z" fill="#f01818" transform="rotate(179 248.1 757.4)"/>
<path d="M255.3,737.6 l-4.6,-2.4 l1.3,2.4 l-1.3,2.4 z" fill="#f01818" transform="rotate(354 255.3 737.6)"/>
<path d="M258.9,736.6 l-4.6,-2.4 l1.3,2.4 l-1.3,2.4 z" fill="#f01818" transform="rotate(172 258.9 736.6)"/>
<path d="M241.7,746.7 l-4.6,-2.4 l1.3,2.4 l-1.3,2.4 z" fill="#f01818" transform="rotate(160 241.7 746.7)"/>
<path d="M249.6,751.5 l-4.6,-2.4 l1.3,2.4 l-1.3,2.4 z" fill="#f01818" transform="rotate(298 249.6 751.5)"/>
<path d="M236.6,744.0 l-4.6,-2.4 l1.3,2.4 l-1.3,2.4 z" fill="#f01818" transform="rotate(99 236.6 744.0)"/>
<path d="M279.5,751.5 l-4.6,-2.4 l1.3,2.4 l-1.3,2.4 z" fill="#f01818" transform="rotate(88 279.5 751.5)"/>
<path d="M248.4,732.6 l-4.6,-2.4 l1.3,2.4 l-1.3,2.4 z" fill="#f01818" transform="rotate(356 248.4 732.6)"/>
<path d="M249.6,746.2 l-4.6,-2.4 l1.3,2.4 l-1.3,2.4 z" fill="#f01818" transform="rotate(171 249.6 746.2)"/>
<rect x="286.5" y="725.0" width="52.5" height="35.0" fill="#c8dcf4" filter="url(#fH_c)"/>
<rect x="14.0" y="761.0" width="52.5" height="35.0" fill="#b0cbee" filter="url(#fH_a)"/>
<rect x="39.7" y="772.0" width="20.5" height="13.2" fill="none" stroke="#e02424" stroke-width="1.1" stroke-dasharray="2.4,1.2"/>
<line x1="39.7" y1="785.2" x2="14.0" y2="796.0" stroke="#e02424" stroke-width="1.1" stroke-dasharray="2.4,1.2"/>
<line x1="60.2" y1="785.2" x2="66.5" y2="796.0" stroke="#e02424" stroke-width="1.1" stroke-dasharray="2.4,1.2"/>
<rect x="68.5" y="761.0" width="52.5" height="35.0" fill="#b0cbee" filter="url(#fH_a)"/>
<rect x="81.9" y="768.4" width="20.3" height="13.1" fill="none" stroke="#e02424" stroke-width="1.1" stroke-dasharray="2.4,1.2"/>
<line x1="81.9" y1="781.5" x2="68.5" y2="796.0" stroke="#e02424" stroke-width="1.1" stroke-dasharray="2.4,1.2"/>
<line x1="102.2" y1="781.5" x2="121.0" y2="796.0" stroke="#e02424" stroke-width="1.1" stroke-dasharray="2.4,1.2"/>
<rect x="123.0" y="761.0" width="52.5" height="35.0" fill="#b0cbee" filter="url(#fH_a)"/>
<rect x="146.6" y="771.5" width="20.5" height="13.7" fill="none" stroke="#e02424" stroke-width="1.1" stroke-dasharray="2.4,1.2"/>
<line x1="146.6" y1="785.2" x2="123.0" y2="796.0" stroke="#e02424" stroke-width="1.1" stroke-dasharray="2.4,1.2"/>
<line x1="167.1" y1="785.2" x2="175.5" y2="796.0" stroke="#e02424" stroke-width="1.1" stroke-dasharray="2.4,1.2"/>
<rect x="177.5" y="761.0" width="52.5" height="35.0" fill="#b0cbee" filter="url(#fH_a)"/>
<rect x="193.8" y="772.2" width="20.4" height="12.8" fill="none" stroke="#e02424" stroke-width="1.1" stroke-dasharray="2.4,1.2"/>
<line x1="193.8" y1="785.0" x2="177.5" y2="796.0" stroke="#e02424" stroke-width="1.1" stroke-dasharray="2.4,1.2"/>
<line x1="214.2" y1="785.0" x2="230.0" y2="796.0" stroke="#e02424" stroke-width="1.1" stroke-dasharray="2.4,1.2"/>
<rect x="232.0" y="761.0" width="52.5" height="35.0" fill="#b0cbee" filter="url(#fH_a)"/>
<rect x="254.2" y="771.2" width="21.4" height="12.2" fill="none" stroke="#e02424" stroke-width="1.1" stroke-dasharray="2.4,1.2"/>
<line x1="254.2" y1="783.4" x2="232.0" y2="796.0" stroke="#e02424" stroke-width="1.1" stroke-dasharray="2.4,1.2"/>
<line x1="275.6" y1="783.4" x2="284.5" y2="796.0" stroke="#e02424" stroke-width="1.1" stroke-dasharray="2.4,1.2"/>
<rect x="286.5" y="761.0" width="52.5" height="35.0" fill="#b0cbee" filter="url(#fH_a)"/>
<rect x="303.4" y="772.2" width="20.0" height="14.3" fill="none" stroke="#e02424" stroke-width="1.1" stroke-dasharray="2.4,1.2"/>
<line x1="303.4" y1="786.5" x2="286.5" y2="796.0" stroke="#e02424" stroke-width="1.1" stroke-dasharray="2.4,1.2"/>
<line x1="323.4" y1="786.5" x2="339.0" y2="796.0" stroke="#e02424" stroke-width="1.1" stroke-dasharray="2.4,1.2"/>
<rect x="14.0" y="797.0" width="52.5" height="35.0" fill="#b0cbee" filter="url(#fH_a)"/>
<rect x="68.5" y="797.0" width="52.5" height="35.0" fill="#a8c6ec" filter="url(#fH_z)"/>
<circle cx="101.2" cy="817.3" r="2.8" fill="#f6f8fc" stroke="none" stroke-width="1" />
<circle cx="77.8" cy="821.5" r="2.1" fill="#f6f8fc" stroke="none" stroke-width="1" />
<circle cx="96.2" cy="810.1" r="2.1" fill="#f6f8fc" stroke="none" stroke-width="1" />
<circle cx="96.1" cy="813.5" r="2.2" fill="#f6f8fc" stroke="none" stroke-width="1" />
<circle cx="105.7" cy="817.0" r="1.7" fill="#f6f8fc" stroke="none" stroke-width="1" />
<circle cx="83.7" cy="813.3" r="3.1" fill="#f6f8fc" stroke="none" stroke-width="1" />
<circle cx="112.0" cy="815.7" r="1.6" fill="#f6f8fc" stroke="none" stroke-width="1" />
<path d="M108.7,812.8 l-4.6,-2.4 l1.3,2.4 l-1.3,2.4 z" fill="#f01818" transform="rotate(207 108.7 812.8)"/>
<path d="M105.4,819.0 l-4.6,-2.4 l1.3,2.4 l-1.3,2.4 z" fill="#f01818" transform="rotate(173 105.4 819.0)"/>
<path d="M114.9,811.6 l-4.6,-2.4 l1.3,2.4 l-1.3,2.4 z" fill="#f01818" transform="rotate(141 114.9 811.6)"/>
<path d="M112.1,805.9 l-4.6,-2.4 l1.3,2.4 l-1.3,2.4 z" fill="#f01818" transform="rotate(107 112.1 805.9)"/>
<path d="M111.1,802.0 l-4.6,-2.4 l1.3,2.4 l-1.3,2.4 z" fill="#f01818" transform="rotate(301 111.1 802.0)"/>
<path d="M104.8,813.0 l-4.6,-2.4 l1.3,2.4 l-1.3,2.4 z" fill="#f01818" transform="rotate(103 104.8 813.0)"/>
<path d="M108.8,827.3 l-4.6,-2.4 l1.3,2.4 l-1.3,2.4 z" fill="#f01818" transform="rotate(51 108.8 827.3)"/>
<path d="M94.7,816.5 l-4.6,-2.4 l1.3,2.4 l-1.3,2.4 z" fill="#f01818" transform="rotate(179 94.7 816.5)"/>
<path d="M87.9,804.6 l-4.6,-2.4 l1.3,2.4 l-1.3,2.4 z" fill="#f01818" transform="rotate(211 87.9 804.6)"/>
<path d="M110.2,802.1 l-4.6,-2.4 l1.3,2.4 l-1.3,2.4 z" fill="#f01818" transform="rotate(83 110.2 802.1)"/>
<path d="M110.6,823.8 l-4.6,-2.4 l1.3,2.4 l-1.3,2.4 z" fill="#f01818" transform="rotate(239 110.6 823.8)"/>
<path d="M73.7,821.7 l-4.6,-2.4 l1.3,2.4 l-1.3,2.4 z" fill="#f01818" transform="rotate(352 73.7 821.7)"/>
<path d="M118.9,821.0 l-4.6,-2.4 l1.3,2.4 l-1.3,2.4 z" fill="#f01818" transform="rotate(18 118.9 821.0)"/>
<path d="M111.7,806.6 l-4.6,-2.4 l1.3,2.4 l-1.3,2.4 z" fill="#f01818" transform="rotate(232 111.7 806.6)"/>
<path d="M116.8,821.4 l-4.6,-2.4 l1.3,2.4 l-1.3,2.4 z" fill="#f01818" transform="rotate(48 116.8 821.4)"/>
<path d="M86.1,827.5 l-4.6,-2.4 l1.3,2.4 l-1.3,2.4 z" fill="#f01818" transform="rotate(54 86.1 827.5)"/>
<path d="M100.9,812.4 l-4.6,-2.4 l1.3,2.4 l-1.3,2.4 z" fill="#f01818" transform="rotate(58 100.9 812.4)"/>
<rect x="123.0" y="797.0" width="52.5" height="35.0" fill="#a8c6ec" filter="url(#fH_z)"/>
<circle cx="154.7" cy="802.2" r="1.8" fill="#f6f8fc" stroke="none" stroke-width="1" />
<circle cx="143.9" cy="802.9" r="1.7" fill="#f6f8fc" stroke="none" stroke-width="1" />
<circle cx="152.6" cy="821.0" r="3.0" fill="#f6f8fc" stroke="none" stroke-width="1" />
<circle cx="133.0" cy="812.7" r="2.1" fill="#f6f8fc" stroke="none" stroke-width="1" />
<circle cx="153.7" cy="814.2" r="3.1" fill="#f6f8fc" stroke="none" stroke-width="1" />
<circle cx="143.7" cy="802.5" r="2.7" fill="#f6f8fc" stroke="none" stroke-width="1" />
<circle cx="133.7" cy="818.0" r="2.4" fill="#f6f8fc" stroke="none" stroke-width="1" />
<path d="M169.3,816.6 l-4.6,-2.4 l1.3,2.4 l-1.3,2.4 z" fill="#f01818" transform="rotate(224 169.3 816.6)"/>
<path d="M139.2,816.6 l-4.6,-2.4 l1.3,2.4 l-1.3,2.4 z" fill="#f01818" transform="rotate(92 139.2 816.6)"/>
<path d="M161.9,815.5 l-4.6,-2.4 l1.3,2.4 l-1.3,2.4 z" fill="#f01818" transform="rotate(48 161.9 815.5)"/>
<path d="M137.9,811.1 l-4.6,-2.4 l1.3,2.4 l-1.3,2.4 z" fill="#f01818" transform="rotate(265 137.9 811.1)"/>
<path d="M135.3,821.4 l-4.6,-2.4 l1.3,2.4 l-1.3,2.4 z" fill="#f01818" transform="rotate(236 135.3 821.4)"/>
<path d="M131.0,820.0 l-4.6,-2.4 l1.3,2.4 l-1.3,2.4 z" fill="#f01818" transform="rotate(33 131.0 820.0)"/>
<path d="M132.8,817.8 l-4.6,-2.4 l1.3,2.4 l-1.3,2.4 z" fill="#f01818" transform="rotate(86 132.8 817.8)"/>
<path d="M167.8,814.4 l-4.6,-2.4 l1.3,2.4 l-1.3,2.4 z" fill="#f01818" transform="rotate(116 167.8 814.4)"/>
<path d="M164.0,800.9 l-4.6,-2.4 l1.3,2.4 l-1.3,2.4 z" fill="#f01818" transform="rotate(261 164.0 800.9)"/>
<path d="M129.5,804.5 l-4.6,-2.4 l1.3,2.4 l-1.3,2.4 z" fill="#f01818" transform="rotate(343 129.5 804.5)"/>
<path d="M158.7,806.7 l-4.6,-2.4 l1.3,2.4 l-1.3,2.4 z" fill="#f01818" transform="rotate(42 158.7 806.7)"/>
<path d="M172.2,820.0 l-4.6,-2.4 l1.3,2.4 l-1.3,2.4 z" fill="#f01818" transform="rotate(295 172.2 820.0)"/>
<path d="M133.5,818.7 l-4.6,-2.4 l1.3,2.4 l-1.3,2.4 z" fill="#f01818" transform="rotate(128 133.5 818.7)"/>
<path d="M137.9,810.0 l-4.6,-2.4 l1.3,2.4 l-1.3,2.4 z" fill="#f01818" transform="rotate(221 137.9 810.0)"/>
<path d="M143.2,811.6 l-4.6,-2.4 l1.3,2.4 l-1.3,2.4 z" fill="#f01818" transform="rotate(49 143.2 811.6)"/>
<path d="M165.6,819.4 l-4.6,-2.4 l1.3,2.4 l-1.3,2.4 z" fill="#f01818" transform="rotate(290 165.6 819.4)"/>
<path d="M147.2,825.5 l-4.6,-2.4 l1.3,2.4 l-1.3,2.4 z" fill="#f01818" transform="rotate(186 147.2 825.5)"/>
<rect x="177.5" y="797.0" width="52.5" height="35.0" fill="#a8c6ec" filter="url(#fH_z)"/>
<circle cx="207.9" cy="816.5" r="2.8" fill="#f6f8fc" stroke="none" stroke-width="1" />
<circle cx="199.1" cy="803.6" r="1.7" fill="#f6f8fc" stroke="none" stroke-width="1" />
<circle cx="190.5" cy="802.1" r="3.0" fill="#f6f8fc" stroke="none" stroke-width="1" />
<circle cx="202.9" cy="821.5" r="1.6" fill="#f6f8fc" stroke="none" stroke-width="1" />
<circle cx="202.4" cy="825.0" r="2.6" fill="#f6f8fc" stroke="none" stroke-width="1" />
<circle cx="200.6" cy="813.6" r="1.8" fill="#f6f8fc" stroke="none" stroke-width="1" />
<circle cx="188.4" cy="805.3" r="2.2" fill="#f6f8fc" stroke="none" stroke-width="1" />
<path d="M199.4,826.4 l-4.6,-2.4 l1.3,2.4 l-1.3,2.4 z" fill="#f01818" transform="rotate(55 199.4 826.4)"/>
<path d="M193.3,808.3 l-4.6,-2.4 l1.3,2.4 l-1.3,2.4 z" fill="#f01818" transform="rotate(58 193.3 808.3)"/>
<path d="M194.8,807.1 l-4.6,-2.4 l1.3,2.4 l-1.3,2.4 z" fill="#f01818" transform="rotate(174 194.8 807.1)"/>
<path d="M183.0,827.7 l-4.6,-2.4 l1.3,2.4 l-1.3,2.4 z" fill="#f01818" transform="rotate(133 183.0 827.7)"/>
<path d="M225.1,820.6 l-4.6,-2.4 l1.3,2.4 l-1.3,2.4 z" fill="#f01818" transform="rotate(243 225.1 820.6)"/>
<path d="M203.4,828.4 l-4.6,-2.4 l1.3,2.4 l-1.3,2.4 z" fill="#f01818" transform="rotate(42 203.4 828.4)"/>
<path d="M212.6,808.7 l-4.6,-2.4 l1.3,2.4 l-1.3,2.4 z" fill="#f01818" transform="rotate(243 212.6 808.7)"/>
<path d="M215.4,804.9 l-4.6,-2.4 l1.3,2.4 l-1.3,2.4 z" fill="#f01818" transform="rotate(72 215.4 804.9)"/>
<path d="M182.7,806.9 l-4.6,-2.4 l1.3,2.4 l-1.3,2.4 z" fill="#f01818" transform="rotate(28 182.7 806.9)"/>
<path d="M200.1,829.2 l-4.6,-2.4 l1.3,2.4 l-1.3,2.4 z" fill="#f01818" transform="rotate(131 200.1 829.2)"/>
<path d="M196.0,814.0 l-4.6,-2.4 l1.3,2.4 l-1.3,2.4 z" fill="#f01818" transform="rotate(102 196.0 814.0)"/>
<path d="M215.6,821.5 l-4.6,-2.4 l1.3,2.4 l-1.3,2.4 z" fill="#f01818" transform="rotate(59 215.6 821.5)"/>
<path d="M192.7,820.2 l-4.6,-2.4 l1.3,2.4 l-1.3,2.4 z" fill="#f01818" transform="rotate(339 192.7 820.2)"/>
<path d="M211.5,812.9 l-4.6,-2.4 l1.3,2.4 l-1.3,2.4 z" fill="#f01818" transform="rotate(351 211.5 812.9)"/>
<path d="M181.8,801.8 l-4.6,-2.4 l1.3,2.4 l-1.3,2.4 z" fill="#f01818" transform="rotate(281 181.8 801.8)"/>
<path d="M200.6,801.3 l-4.6,-2.4 l1.3,2.4 l-1.3,2.4 z" fill="#f01818" transform="rotate(197 200.6 801.3)"/>
<path d="M227.5,815.6 l-4.6,-2.4 l1.3,2.4 l-1.3,2.4 z" fill="#f01818" transform="rotate(126 227.5 815.6)"/>
<rect x="232.0" y="797.0" width="52.5" height="35.0" fill="#a8c6ec" filter="url(#fH_z)"/>
<circle cx="240.2" cy="802.9" r="3.0" fill="#f6f8fc" stroke="none" stroke-width="1" />
<circle cx="257.9" cy="826.3" r="1.7" fill="#f6f8fc" stroke="none" stroke-width="1" />
<circle cx="246.8" cy="802.4" r="2.2" fill="#f6f8fc" stroke="none" stroke-width="1" />
<circle cx="238.7" cy="807.9" r="2.3" fill="#f6f8fc" stroke="none" stroke-width="1" />
<circle cx="249.6" cy="802.4" r="1.7" fill="#f6f8fc" stroke="none" stroke-width="1" />
<circle cx="279.2" cy="805.8" r="2.4" fill="#f6f8fc" stroke="none" stroke-width="1" />
<circle cx="253.9" cy="815.3" r="1.7" fill="#f6f8fc" stroke="none" stroke-width="1" />
<path d="M250.6,803.2 l-4.6,-2.4 l1.3,2.4 l-1.3,2.4 z" fill="#f01818" transform="rotate(195 250.6 803.2)"/>
<path d="M278.8,817.9 l-4.6,-2.4 l1.3,2.4 l-1.3,2.4 z" fill="#f01818" transform="rotate(308 278.8 817.9)"/>
<path d="M246.0,800.5 l-4.6,-2.4 l1.3,2.4 l-1.3,2.4 z" fill="#f01818" transform="rotate(194 246.0 800.5)"/>
<path d="M258.6,817.1 l-4.6,-2.4 l1.3,2.4 l-1.3,2.4 z" fill="#f01818" transform="rotate(136 258.6 817.1)"/>
<path d="M265.1,821.8 l-4.6,-2.4 l1.3,2.4 l-1.3,2.4 z" fill="#f01818" transform="rotate(329 265.1 821.8)"/>
<path d="M250.3,813.5 l-4.6,-2.4 l1.3,2.4 l-1.3,2.4 z" fill="#f01818" transform="rotate(298 250.3 813.5)"/>
<path d="M246.4,803.5 l-4.6,-2.4 l1.3,2.4 l-1.3,2.4 z" fill="#f01818" transform="rotate(112 246.4 803.5)"/>
<path d="M240.1,823.2 l-4.6,-2.4 l1.3,2.4 l-1.3,2.4 z" fill="#f01818" transform="rotate(295 240.1 823.2)"/>
<path d="M250.5,803.9 l-4.6,-2.4 l1.3,2.4 l-1.3,2.4 z" fill="#f01818" transform="rotate(30 250.5 803.9)"/>
<path d="M247.4,802.5 l-4.6,-2.4 l1.3,2.4 l-1.3,2.4 z" fill="#f01818" transform="rotate(154 247.4 802.5)"/>
<path d="M262.8,807.4 l-4.6,-2.4 l1.3,2.4 l-1.3,2.4 z" fill="#f01818" transform="rotate(22 262.8 807.4)"/>
<path d="M268.6,801.4 l-4.6,-2.4 l1.3,2.4 l-1.3,2.4 z" fill="#f01818" transform="rotate(72 268.6 801.4)"/>
<path d="M249.3,811.2 l-4.6,-2.4 l1.3,2.4 l-1.3,2.4 z" fill="#f01818" transform="rotate(35 249.3 811.2)"/>
<path d="M255.6,809.4 l-4.6,-2.4 l1.3,2.4 l-1.3,2.4 z" fill="#f01818" transform="rotate(271 255.6 809.4)"/>
<path d="M261.9,826.9 l-4.6,-2.4 l1.3,2.4 l-1.3,2.4 z" fill="#f01818" transform="rotate(235 261.9 826.9)"/>
<path d="M271.3,817.2 l-4.6,-2.4 l1.3,2.4 l-1.3,2.4 z" fill="#f01818" transform="rotate(159 271.3 817.2)"/>
<path d="M274.0,819.7 l-4.6,-2.4 l1.3,2.4 l-1.3,2.4 z" fill="#f01818" transform="rotate(344 274.0 819.7)"/>
<rect x="286.5" y="797.0" width="52.5" height="35.0" fill="#c8dcf4" filter="url(#fH_c)"/>
<text x="309.3" y="716.2" font-size="10.2" text-anchor="start" fill="#111" >100 μm</text>
<line x1="321.0" y1="720.1" x2="330.3" y2="720.1" stroke="#111" stroke-width="1.4" />
<text x="311.3" y="751.7" font-size="10.2" text-anchor="start" fill="#111" >30 μm</text>
<line x1="321.0" y1="755.6" x2="330.3" y2="755.6" stroke="#111" stroke-width="1.4" />
<text x="309.3" y="789.0" font-size="10.2" text-anchor="start" fill="#111" >100 μm</text>
<line x1="321.0" y1="792.6" x2="330.3" y2="792.6" stroke="#111" stroke-width="1.4" />
<text x="311.3" y="824.3" font-size="10.2" text-anchor="start" fill="#111" >30 μm</text>
<line x1="321.0" y1="828.2" x2="330.3" y2="828.2" stroke="#111" stroke-width="1.4" />
<text x="350.5" y="665.0" font-size="19.5" text-anchor="start" fill="#000" >I</text>
<text x="487.9" y="661.0" font-size="10.1" text-anchor="start" fill="#111" ><tspan fill="#33b040">IL-1β/</tspan><tspan fill="#d03030">TNF-<tspan font-style="italic">α</tspan>/</tspan><tspan fill="#3040e8">DAPI</tspan></text>
<line x1="382.0" y1="664.4" x2="670.5" y2="664.4" stroke="#111" stroke-width="1.1" />
<text x="397.4" y="682.6" font-size="10.2" text-anchor="middle" fill="#111" >Sham</text>
<text x="450.0" y="682.6" font-size="10.2" text-anchor="middle" fill="#111" >PBS</text>
<text x="497.5" y="682.6" font-size="10.2" text-anchor="middle" fill="#111" >Van</text>
<text x="547.5" y="682.6" font-size="10.2" text-anchor="middle" fill="#111" >Ga<tspan font-size="62%" dy="2">Van</tspan></text>
<text x="602.2" y="682.6" font-size="10.2" text-anchor="middle" fill="#111" >GaCu<tspan font-size="62%" dy="2">Van</tspan></text>
<text x="654.8" y="674.2" font-size="10.2" text-anchor="middle" fill="#111" >GaCu<tspan font-size="62%" dy="2">Van</tspan><tspan dy="-2">&amp;</tspan></text>
<text x="654.8" y="683.4" font-size="10.2" text-anchor="middle" fill="#111" >HA<tspan font-size="62%" dy="2">CHO</tspan><tspan dy="-2">-BSA</tspan></text>
<rect x="368.0" y="689.0" width="50.3" height="34.0" fill="#1a1a90" filter="url(#fI_dark)"/>
<rect x="368.0" y="689.0" width="50.3" height="34.0" fill="none" stroke="#000" stroke-width="0.8"/>
<rect x="420.0" y="689.0" width="50.3" height="34.0" fill="#1a1a90" filter="url(#fI_str)"/>
<rect x="420.0" y="689.0" width="50.3" height="34.0" fill="none" stroke="#000" stroke-width="0.8"/>
<rect x="472.0" y="689.0" width="50.3" height="34.0" fill="#1a1a90" filter="url(#fI_str)"/>
<rect x="472.0" y="689.0" width="50.3" height="34.0" fill="none" stroke="#000" stroke-width="0.8"/>
<rect x="525.0" y="689.0" width="50.3" height="34.0" fill="#1a1a90" filter="url(#fI_str2)"/>
<rect x="525.0" y="689.0" width="50.3" height="34.0" fill="none" stroke="#000" stroke-width="0.8"/>
<rect x="577.0" y="689.0" width="50.3" height="34.0" fill="#1a1a90" filter="url(#fI_str2)"/>
<rect x="577.0" y="689.0" width="50.3" height="34.0" fill="none" stroke="#000" stroke-width="0.8"/>
<rect x="629.0" y="689.0" width="50.3" height="34.0" fill="#8080c0" filter="url(#fI_white)"/>
<rect x="629.0" y="689.0" width="50.3" height="34.0" fill="none" stroke="#000" stroke-width="0.8"/>
<rect x="368.0" y="725.0" width="50.3" height="33.0" fill="#1a1a90" filter="url(#fI_zoomD)"/>
<rect x="368.0" y="725.0" width="50.3" height="33.0" fill="none" stroke="#000" stroke-width="0.8"/>
<rect x="420.0" y="725.0" width="50.3" height="33.0" fill="#1a1a90" filter="url(#fI_zoomY)"/>
<rect x="420.0" y="725.0" width="50.3" height="33.0" fill="none" stroke="#000" stroke-width="0.8"/>
<rect x="472.0" y="725.0" width="50.3" height="33.0" fill="#1a1a90" filter="url(#fI_zoomL)"/>
<rect x="472.0" y="725.0" width="50.3" height="33.0" fill="none" stroke="#000" stroke-width="0.8"/>
<rect x="525.0" y="725.0" width="50.3" height="33.0" fill="#1a1a90" filter="url(#fI_zoomY)"/>
<rect x="525.0" y="725.0" width="50.3" height="33.0" fill="none" stroke="#000" stroke-width="0.8"/>
<rect x="577.0" y="725.0" width="50.3" height="33.0" fill="#1a1a90" filter="url(#fI_zoomL)"/>
<rect x="577.0" y="725.0" width="50.3" height="33.0" fill="none" stroke="#000" stroke-width="0.8"/>
<rect x="629.0" y="725.0" width="50.3" height="33.0" fill="#8080c0" filter="url(#fI_white)"/>
<rect x="629.0" y="725.0" width="50.3" height="33.0" fill="none" stroke="#000" stroke-width="0.8"/>
<rect x="368.0" y="761.0" width="50.3" height="34.0" fill="#1a1a90" filter="url(#fI_str2)"/>
<rect x="368.0" y="761.0" width="50.3" height="34.0" fill="none" stroke="#000" stroke-width="0.8"/>
<rect x="420.0" y="761.0" width="50.3" height="34.0" fill="#1a1a90" filter="url(#fI_str2)"/>
<rect x="420.0" y="761.0" width="50.3" height="34.0" fill="none" stroke="#000" stroke-width="0.8"/>
<rect x="472.0" y="761.0" width="50.3" height="34.0" fill="#1a1a90" filter="url(#fI_str2)"/>
<rect x="472.0" y="761.0" width="50.3" height="34.0" fill="none" stroke="#000" stroke-width="0.8"/>
<rect x="525.0" y="761.0" width="50.3" height="34.0" fill="#1a1a90" filter="url(#fI_str2)"/>
<rect x="525.0" y="761.0" width="50.3" height="34.0" fill="none" stroke="#000" stroke-width="0.8"/>
<rect x="577.0" y="761.0" width="50.3" height="34.0" fill="#1a1a90" filter="url(#fI_str2)"/>
<rect x="577.0" y="761.0" width="50.3" height="34.0" fill="none" stroke="#000" stroke-width="0.8"/>
<rect x="629.0" y="761.0" width="50.3" height="34.0" fill="#1c1cd8" filter="url(#fI_pure)"/>
<rect x="629.0" y="761.0" width="50.3" height="34.0" fill="none" stroke="#000" stroke-width="0.8"/>
<rect x="368.0" y="797.0" width="50.3" height="33.0" fill="#1a1a90" filter="url(#fI_zoomD)"/>
<rect x="368.0" y="797.0" width="50.3" height="33.0" fill="none" stroke="#000" stroke-width="0.8"/>
<rect x="420.0" y="797.0" width="50.3" height="33.0" fill="#1a1a90" filter="url(#fI_zoomY)"/>
<rect x="420.0" y="797.0" width="50.3" height="33.0" fill="none" stroke="#000" stroke-width="0.8"/>
<rect x="472.0" y="797.0" width="50.3" height="33.0" fill="#1a1a90" filter="url(#fI_zoomY)"/>
<rect x="472.0" y="797.0" width="50.3" height="33.0" fill="none" stroke="#000" stroke-width="0.8"/>
<rect x="525.0" y="797.0" width="50.3" height="33.0" fill="#1a1a90" filter="url(#fI_zoomB)"/>
<rect x="525.0" y="797.0" width="50.3" height="33.0" fill="none" stroke="#000" stroke-width="0.8"/>
<rect x="577.0" y="797.0" width="50.3" height="33.0" fill="#1a1a90" filter="url(#fI_zoomY)"/>
<rect x="577.0" y="797.0" width="50.3" height="33.0" fill="none" stroke="#000" stroke-width="0.8"/>
<rect x="629.0" y="797.0" width="50.3" height="33.0" fill="#1c1cd8" filter="url(#fI_pure)"/>
<rect x="629.0" y="797.0" width="50.3" height="33.0" fill="none" stroke="#000" stroke-width="0.8"/>
<rect x="395.2" y="692.0" width="12.6" height="9.7" fill="none" stroke="#e8e8e8" stroke-width="0.7" stroke-dasharray="1.2,1"/>
<rect x="435.9" y="691.2" width="13.1" height="8.7" fill="none" stroke="#e8e8e8" stroke-width="0.7" stroke-dasharray="1.2,1"/>
<rect x="505.5" y="695.4" width="13.2" height="9.8" fill="none" stroke="#e8e8e8" stroke-width="0.7" stroke-dasharray="1.2,1"/>
<rect x="538.3" y="695.4" width="13.2" height="8.8" fill="none" stroke="#e8e8e8" stroke-width="0.7" stroke-dasharray="1.2,1"/>
<rect x="607.7" y="713.0" width="13.7" height="8.3" fill="none" stroke="#e8e8e8" stroke-width="0.7" stroke-dasharray="1.2,1"/>
<rect x="645.8" y="693.5" width="17.2" height="10.7" fill="none" stroke="#e8e8e8" stroke-width="0.7" stroke-dasharray="1.2,1"/>
<rect x="383.3" y="771.7" width="13.2" height="9.8" fill="none" stroke="#e8e8e8" stroke-width="0.7" stroke-dasharray="1.2,1"/>
<rect x="440.5" y="772.7" width="13.2" height="8.8" fill="none" stroke="#e8e8e8" stroke-width="0.7" stroke-dasharray="1.2,1"/>
<rect x="494.3" y="767.8" width="14.6" height="9.8" fill="none" stroke="#e8e8e8" stroke-width="0.7" stroke-dasharray="1.2,1"/>
<rect x="546.6" y="765.4" width="12.7" height="9.7" fill="none" stroke="#e8e8e8" stroke-width="0.7" stroke-dasharray="1.2,1"/>
<rect x="614.0" y="770.2" width="12.3" height="11.3" fill="none" stroke="#e8e8e8" stroke-width="0.7" stroke-dasharray="1.2,1"/>
<rect x="645.2" y="776.0" width="13.2" height="8.5" fill="none" stroke="#e8e8e8" stroke-width="0.7" stroke-dasharray="1.2,1"/>
<text x="678.0" y="716.9" font-size="10.1" text-anchor="end" fill="#fff" >400 μm</text>
<line x1="656.9" y1="720.8" x2="671.7" y2="720.8" stroke="#fff" stroke-width="1.5" />
<text x="678.0" y="751.9" font-size="10.1" text-anchor="end" fill="#fff" >100 μm</text>
<line x1="656.9" y1="755.8" x2="671.7" y2="755.8" stroke="#fff" stroke-width="1.5" />
<text x="678.0" y="788.4" font-size="10.1" text-anchor="end" fill="#fff" >400 μm</text>
<line x1="656.9" y1="792.3" x2="671.7" y2="792.3" stroke="#fff" stroke-width="1.5" />
<text x="678.0" y="823.4" font-size="10.1" text-anchor="end" fill="#fff" >100 μm</text>
<line x1="656.9" y1="827.3" x2="671.7" y2="827.3" stroke="#fff" stroke-width="1.5" />
</svg>
</body></html>
